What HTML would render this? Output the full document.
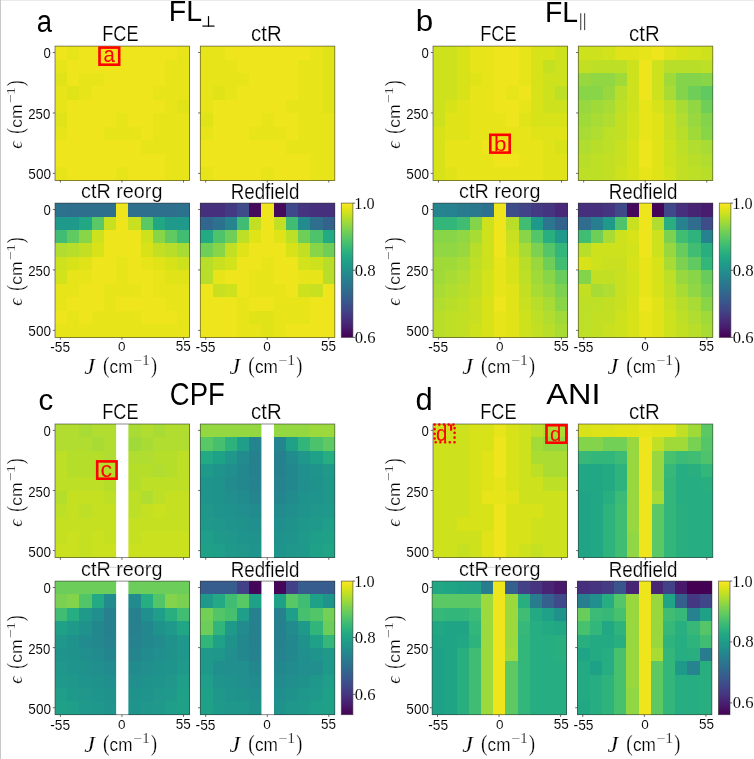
<!DOCTYPE html><html><head><meta charset="utf-8"><style>html,body{margin:0;padding:0;background:#fff;width:754px;height:759px;overflow:hidden}svg{display:block;will-change:transform}</style></head><body>
<svg width="754" height="759" viewBox="0 0 754 759">
<rect x="0" y="0" width="754" height="759" fill="#fff"/>
<defs><linearGradient id="vir" x1="0" y1="1" x2="0" y2="0">
<stop offset="0.000" stop-color="#440154"/>
<stop offset="0.050" stop-color="#471365"/>
<stop offset="0.100" stop-color="#482475"/>
<stop offset="0.150" stop-color="#463480"/>
<stop offset="0.200" stop-color="#414487"/>
<stop offset="0.250" stop-color="#3b528b"/>
<stop offset="0.300" stop-color="#355f8d"/>
<stop offset="0.350" stop-color="#2f6c8e"/>
<stop offset="0.400" stop-color="#2a788e"/>
<stop offset="0.450" stop-color="#25848e"/>
<stop offset="0.500" stop-color="#21918c"/>
<stop offset="0.550" stop-color="#1e9c89"/>
<stop offset="0.600" stop-color="#22a884"/>
<stop offset="0.650" stop-color="#2fb47c"/>
<stop offset="0.700" stop-color="#44bf70"/>
<stop offset="0.750" stop-color="#5ec962"/>
<stop offset="0.800" stop-color="#7ad151"/>
<stop offset="0.850" stop-color="#9bd93c"/>
<stop offset="0.900" stop-color="#bddf26"/>
<stop offset="0.950" stop-color="#dfe318"/>
<stop offset="1.000" stop-color="#fde725"/>
</linearGradient></defs>
<g shape-rendering="crispEdges">
<rect x="55.00" y="46.10" width="12.63" height="13.83" fill="#efe51c"/>
<rect x="67.23" y="46.10" width="12.63" height="13.83" fill="#e7e419"/>
<rect x="79.45" y="46.10" width="12.63" height="13.83" fill="#efe51c"/>
<rect x="91.68" y="46.10" width="12.63" height="13.83" fill="#efe51c"/>
<rect x="103.91" y="46.10" width="12.63" height="13.83" fill="#efe51c"/>
<rect x="116.14" y="46.10" width="12.63" height="13.83" fill="#efe51c"/>
<rect x="128.36" y="46.10" width="12.63" height="13.83" fill="#efe51c"/>
<rect x="140.59" y="46.10" width="12.63" height="13.83" fill="#efe51c"/>
<rect x="152.82" y="46.10" width="12.63" height="13.83" fill="#efe51c"/>
<rect x="165.05" y="46.10" width="12.63" height="13.83" fill="#efe51c"/>
<rect x="177.27" y="46.10" width="12.63" height="13.83" fill="#e7e419"/>
<rect x="55.00" y="59.53" width="12.63" height="13.83" fill="#e7e419"/>
<rect x="67.23" y="59.53" width="12.63" height="13.83" fill="#efe51c"/>
<rect x="79.45" y="59.53" width="12.63" height="13.83" fill="#efe51c"/>
<rect x="91.68" y="59.53" width="12.63" height="13.83" fill="#efe51c"/>
<rect x="103.91" y="59.53" width="12.63" height="13.83" fill="#efe51c"/>
<rect x="116.14" y="59.53" width="12.63" height="13.83" fill="#efe51c"/>
<rect x="128.36" y="59.53" width="12.63" height="13.83" fill="#efe51c"/>
<rect x="140.59" y="59.53" width="12.63" height="13.83" fill="#efe51c"/>
<rect x="152.82" y="59.53" width="12.63" height="13.83" fill="#efe51c"/>
<rect x="165.05" y="59.53" width="12.63" height="13.83" fill="#e7e419"/>
<rect x="177.27" y="59.53" width="12.63" height="13.83" fill="#e7e419"/>
<rect x="55.00" y="72.96" width="12.63" height="13.83" fill="#dfe318"/>
<rect x="67.23" y="72.96" width="12.63" height="13.83" fill="#efe51c"/>
<rect x="79.45" y="72.96" width="12.63" height="13.83" fill="#e7e419"/>
<rect x="91.68" y="72.96" width="12.63" height="13.83" fill="#e7e419"/>
<rect x="103.91" y="72.96" width="12.63" height="13.83" fill="#efe51c"/>
<rect x="116.14" y="72.96" width="12.63" height="13.83" fill="#efe51c"/>
<rect x="128.36" y="72.96" width="12.63" height="13.83" fill="#efe51c"/>
<rect x="140.59" y="72.96" width="12.63" height="13.83" fill="#efe51c"/>
<rect x="152.82" y="72.96" width="12.63" height="13.83" fill="#efe51c"/>
<rect x="165.05" y="72.96" width="12.63" height="13.83" fill="#e7e419"/>
<rect x="177.27" y="72.96" width="12.63" height="13.83" fill="#e7e419"/>
<rect x="55.00" y="86.39" width="12.63" height="13.83" fill="#e7e419"/>
<rect x="67.23" y="86.39" width="12.63" height="13.83" fill="#dfe318"/>
<rect x="79.45" y="86.39" width="12.63" height="13.83" fill="#e7e419"/>
<rect x="91.68" y="86.39" width="12.63" height="13.83" fill="#efe51c"/>
<rect x="103.91" y="86.39" width="12.63" height="13.83" fill="#efe51c"/>
<rect x="116.14" y="86.39" width="12.63" height="13.83" fill="#efe51c"/>
<rect x="128.36" y="86.39" width="12.63" height="13.83" fill="#efe51c"/>
<rect x="140.59" y="86.39" width="12.63" height="13.83" fill="#efe51c"/>
<rect x="152.82" y="86.39" width="12.63" height="13.83" fill="#e7e419"/>
<rect x="165.05" y="86.39" width="12.63" height="13.83" fill="#e7e419"/>
<rect x="177.27" y="86.39" width="12.63" height="13.83" fill="#e7e419"/>
<rect x="55.00" y="99.82" width="12.63" height="13.83" fill="#e7e419"/>
<rect x="67.23" y="99.82" width="12.63" height="13.83" fill="#efe51c"/>
<rect x="79.45" y="99.82" width="12.63" height="13.83" fill="#efe51c"/>
<rect x="91.68" y="99.82" width="12.63" height="13.83" fill="#efe51c"/>
<rect x="103.91" y="99.82" width="12.63" height="13.83" fill="#efe51c"/>
<rect x="116.14" y="99.82" width="12.63" height="13.83" fill="#efe51c"/>
<rect x="128.36" y="99.82" width="12.63" height="13.83" fill="#efe51c"/>
<rect x="140.59" y="99.82" width="12.63" height="13.83" fill="#efe51c"/>
<rect x="152.82" y="99.82" width="12.63" height="13.83" fill="#efe51c"/>
<rect x="165.05" y="99.82" width="12.63" height="13.83" fill="#e7e419"/>
<rect x="177.27" y="99.82" width="12.63" height="13.83" fill="#dfe318"/>
<rect x="55.00" y="113.25" width="12.63" height="13.83" fill="#dfe318"/>
<rect x="67.23" y="113.25" width="12.63" height="13.83" fill="#efe51c"/>
<rect x="79.45" y="113.25" width="12.63" height="13.83" fill="#efe51c"/>
<rect x="91.68" y="113.25" width="12.63" height="13.83" fill="#efe51c"/>
<rect x="103.91" y="113.25" width="12.63" height="13.83" fill="#efe51c"/>
<rect x="116.14" y="113.25" width="12.63" height="13.83" fill="#e7e419"/>
<rect x="128.36" y="113.25" width="12.63" height="13.83" fill="#efe51c"/>
<rect x="140.59" y="113.25" width="12.63" height="13.83" fill="#efe51c"/>
<rect x="152.82" y="113.25" width="12.63" height="13.83" fill="#e7e419"/>
<rect x="165.05" y="113.25" width="12.63" height="13.83" fill="#e7e419"/>
<rect x="177.27" y="113.25" width="12.63" height="13.83" fill="#e7e419"/>
<rect x="55.00" y="126.68" width="12.63" height="13.83" fill="#e7e419"/>
<rect x="67.23" y="126.68" width="12.63" height="13.83" fill="#efe51c"/>
<rect x="79.45" y="126.68" width="12.63" height="13.83" fill="#efe51c"/>
<rect x="91.68" y="126.68" width="12.63" height="13.83" fill="#efe51c"/>
<rect x="103.91" y="126.68" width="12.63" height="13.83" fill="#e7e419"/>
<rect x="116.14" y="126.68" width="12.63" height="13.83" fill="#e7e419"/>
<rect x="128.36" y="126.68" width="12.63" height="13.83" fill="#e7e419"/>
<rect x="140.59" y="126.68" width="12.63" height="13.83" fill="#efe51c"/>
<rect x="152.82" y="126.68" width="12.63" height="13.83" fill="#e7e419"/>
<rect x="165.05" y="126.68" width="12.63" height="13.83" fill="#e7e419"/>
<rect x="177.27" y="126.68" width="12.63" height="13.83" fill="#e7e419"/>
<rect x="55.00" y="140.11" width="12.63" height="13.83" fill="#efe51c"/>
<rect x="67.23" y="140.11" width="12.63" height="13.83" fill="#efe51c"/>
<rect x="79.45" y="140.11" width="12.63" height="13.83" fill="#efe51c"/>
<rect x="91.68" y="140.11" width="12.63" height="13.83" fill="#efe51c"/>
<rect x="103.91" y="140.11" width="12.63" height="13.83" fill="#efe51c"/>
<rect x="116.14" y="140.11" width="12.63" height="13.83" fill="#efe51c"/>
<rect x="128.36" y="140.11" width="12.63" height="13.83" fill="#efe51c"/>
<rect x="140.59" y="140.11" width="12.63" height="13.83" fill="#e7e419"/>
<rect x="152.82" y="140.11" width="12.63" height="13.83" fill="#e7e419"/>
<rect x="165.05" y="140.11" width="12.63" height="13.83" fill="#e7e419"/>
<rect x="177.27" y="140.11" width="12.63" height="13.83" fill="#e7e419"/>
<rect x="55.00" y="153.54" width="12.63" height="13.83" fill="#efe51c"/>
<rect x="67.23" y="153.54" width="12.63" height="13.83" fill="#efe51c"/>
<rect x="79.45" y="153.54" width="12.63" height="13.83" fill="#efe51c"/>
<rect x="91.68" y="153.54" width="12.63" height="13.83" fill="#efe51c"/>
<rect x="103.91" y="153.54" width="12.63" height="13.83" fill="#efe51c"/>
<rect x="116.14" y="153.54" width="12.63" height="13.83" fill="#efe51c"/>
<rect x="128.36" y="153.54" width="12.63" height="13.83" fill="#efe51c"/>
<rect x="140.59" y="153.54" width="12.63" height="13.83" fill="#efe51c"/>
<rect x="152.82" y="153.54" width="12.63" height="13.83" fill="#efe51c"/>
<rect x="165.05" y="153.54" width="12.63" height="13.83" fill="#e7e419"/>
<rect x="177.27" y="153.54" width="12.63" height="13.83" fill="#e7e419"/>
<rect x="55.00" y="166.97" width="12.63" height="13.83" fill="#e7e419"/>
<rect x="67.23" y="166.97" width="12.63" height="13.83" fill="#efe51c"/>
<rect x="79.45" y="166.97" width="12.63" height="13.83" fill="#efe51c"/>
<rect x="91.68" y="166.97" width="12.63" height="13.83" fill="#efe51c"/>
<rect x="103.91" y="166.97" width="12.63" height="13.83" fill="#efe51c"/>
<rect x="116.14" y="166.97" width="12.63" height="13.83" fill="#e7e419"/>
<rect x="128.36" y="166.97" width="12.63" height="13.83" fill="#efe51c"/>
<rect x="140.59" y="166.97" width="12.63" height="13.83" fill="#efe51c"/>
<rect x="152.82" y="166.97" width="12.63" height="13.83" fill="#efe51c"/>
<rect x="165.05" y="166.97" width="12.63" height="13.83" fill="#e7e419"/>
<rect x="177.27" y="166.97" width="12.63" height="13.83" fill="#e7e419"/>
</g>
<rect x="55.00" y="46.10" width="134.5" height="134.3" fill="none" stroke="#333" stroke-opacity="0.7" stroke-width="0.8"/>
<line x1="52.80" y1="52.52" x2="55.00" y2="52.52" stroke="#444" stroke-width="0.8"/>
<line x1="60.40" y1="180.40" x2="60.40" y2="182.60" stroke="#444" stroke-width="0.8"/>
<line x1="52.80" y1="112.95" x2="55.00" y2="112.95" stroke="#444" stroke-width="0.8"/>
<line x1="121.95" y1="180.40" x2="121.95" y2="182.60" stroke="#444" stroke-width="0.8"/>
<line x1="52.80" y1="173.39" x2="55.00" y2="173.39" stroke="#444" stroke-width="0.8"/>
<line x1="183.50" y1="180.40" x2="183.50" y2="182.60" stroke="#444" stroke-width="0.8"/>
<text transform="translate(102.25,41.39) scale(0.8493,1)" style="font-family:'Liberation Sans',sans-serif;font-size:21.41px;fill:#000;stroke:#fff;stroke-width:0.200px">FCE</text>
<text transform="translate(43.48,57.85) scale(0.8709,1)" style="font-family:'Liberation Sans',sans-serif;font-size:15.07px;fill:#000;stroke:#fff;stroke-width:0.080px">0</text>
<text transform="translate(28.24,118.65) scale(0.8860,1)" style="font-family:'Liberation Sans',sans-serif;font-size:14.93px;fill:#000;stroke:#fff;stroke-width:0.080px">250</text>
<text transform="translate(28.36,178.65) scale(0.8931,1)" style="font-family:'Liberation Sans',sans-serif;font-size:15.21px;fill:#000;stroke:#fff;stroke-width:0.080px">500</text>
<text transform="rotate(-90) translate(-148.75,22.40) scale(0.9447,1)" style="font-family:'Liberation Serif',serif;font-style:italic;font-size:19.58px;fill:#000;stroke:#fff;stroke-width:0.200px">&#1013;</text>
<text transform="rotate(-90) translate(-133.66,22.75) scale(0.7156,1)" style="font-family:'Liberation Serif',serif;font-size:23.11px;fill:#000;stroke:#fff;stroke-width:0.200px">(</text>
<text transform="rotate(-90) translate(-127.80,22.43) scale(1.0275,1)" style="font-family:'Liberation Sans',sans-serif;font-size:17.09px;fill:#000;stroke:#fff;stroke-width:0.200px">cm</text>
<text transform="rotate(-90) translate(-103.37,14.70) scale(1.1892,1)" style="font-family:'Liberation Serif',serif;font-size:12.92px;fill:#333;stroke:#fff;stroke-width:0.080px">&#8722;1</text>
<text transform="rotate(-90) translate(-85.98,22.75) scale(0.6990,1)" style="font-family:'Liberation Serif',serif;font-size:23.11px;fill:#000;stroke:#fff;stroke-width:0.200px">)</text>
<g shape-rendering="crispEdges">
<rect x="200.30" y="46.10" width="12.63" height="13.83" fill="#e7e419"/>
<rect x="212.53" y="46.10" width="12.63" height="13.83" fill="#e7e419"/>
<rect x="224.75" y="46.10" width="12.63" height="13.83" fill="#efe51c"/>
<rect x="236.98" y="46.10" width="12.63" height="13.83" fill="#efe51c"/>
<rect x="249.21" y="46.10" width="12.63" height="13.83" fill="#efe51c"/>
<rect x="261.44" y="46.10" width="12.63" height="13.83" fill="#efe51c"/>
<rect x="273.66" y="46.10" width="12.63" height="13.83" fill="#efe51c"/>
<rect x="285.89" y="46.10" width="12.63" height="13.83" fill="#efe51c"/>
<rect x="298.12" y="46.10" width="12.63" height="13.83" fill="#efe51c"/>
<rect x="310.35" y="46.10" width="12.63" height="13.83" fill="#e7e419"/>
<rect x="322.57" y="46.10" width="12.63" height="13.83" fill="#dfe318"/>
<rect x="200.30" y="59.53" width="12.63" height="13.83" fill="#e7e419"/>
<rect x="212.53" y="59.53" width="12.63" height="13.83" fill="#e7e419"/>
<rect x="224.75" y="59.53" width="12.63" height="13.83" fill="#e7e419"/>
<rect x="236.98" y="59.53" width="12.63" height="13.83" fill="#efe51c"/>
<rect x="249.21" y="59.53" width="12.63" height="13.83" fill="#efe51c"/>
<rect x="261.44" y="59.53" width="12.63" height="13.83" fill="#efe51c"/>
<rect x="273.66" y="59.53" width="12.63" height="13.83" fill="#efe51c"/>
<rect x="285.89" y="59.53" width="12.63" height="13.83" fill="#efe51c"/>
<rect x="298.12" y="59.53" width="12.63" height="13.83" fill="#e7e419"/>
<rect x="310.35" y="59.53" width="12.63" height="13.83" fill="#e7e419"/>
<rect x="322.57" y="59.53" width="12.63" height="13.83" fill="#dfe318"/>
<rect x="200.30" y="72.96" width="12.63" height="13.83" fill="#e7e419"/>
<rect x="212.53" y="72.96" width="12.63" height="13.83" fill="#e7e419"/>
<rect x="224.75" y="72.96" width="12.63" height="13.83" fill="#e7e419"/>
<rect x="236.98" y="72.96" width="12.63" height="13.83" fill="#e7e419"/>
<rect x="249.21" y="72.96" width="12.63" height="13.83" fill="#efe51c"/>
<rect x="261.44" y="72.96" width="12.63" height="13.83" fill="#efe51c"/>
<rect x="273.66" y="72.96" width="12.63" height="13.83" fill="#efe51c"/>
<rect x="285.89" y="72.96" width="12.63" height="13.83" fill="#efe51c"/>
<rect x="298.12" y="72.96" width="12.63" height="13.83" fill="#e7e419"/>
<rect x="310.35" y="72.96" width="12.63" height="13.83" fill="#e7e419"/>
<rect x="322.57" y="72.96" width="12.63" height="13.83" fill="#dfe318"/>
<rect x="200.30" y="86.39" width="12.63" height="13.83" fill="#e7e419"/>
<rect x="212.53" y="86.39" width="12.63" height="13.83" fill="#dfe318"/>
<rect x="224.75" y="86.39" width="12.63" height="13.83" fill="#e7e419"/>
<rect x="236.98" y="86.39" width="12.63" height="13.83" fill="#efe51c"/>
<rect x="249.21" y="86.39" width="12.63" height="13.83" fill="#efe51c"/>
<rect x="261.44" y="86.39" width="12.63" height="13.83" fill="#efe51c"/>
<rect x="273.66" y="86.39" width="12.63" height="13.83" fill="#efe51c"/>
<rect x="285.89" y="86.39" width="12.63" height="13.83" fill="#efe51c"/>
<rect x="298.12" y="86.39" width="12.63" height="13.83" fill="#e7e419"/>
<rect x="310.35" y="86.39" width="12.63" height="13.83" fill="#e7e419"/>
<rect x="322.57" y="86.39" width="12.63" height="13.83" fill="#dfe318"/>
<rect x="200.30" y="99.82" width="12.63" height="13.83" fill="#e7e419"/>
<rect x="212.53" y="99.82" width="12.63" height="13.83" fill="#efe51c"/>
<rect x="224.75" y="99.82" width="12.63" height="13.83" fill="#efe51c"/>
<rect x="236.98" y="99.82" width="12.63" height="13.83" fill="#efe51c"/>
<rect x="249.21" y="99.82" width="12.63" height="13.83" fill="#efe51c"/>
<rect x="261.44" y="99.82" width="12.63" height="13.83" fill="#efe51c"/>
<rect x="273.66" y="99.82" width="12.63" height="13.83" fill="#efe51c"/>
<rect x="285.89" y="99.82" width="12.63" height="13.83" fill="#e7e419"/>
<rect x="298.12" y="99.82" width="12.63" height="13.83" fill="#e7e419"/>
<rect x="310.35" y="99.82" width="12.63" height="13.83" fill="#e7e419"/>
<rect x="322.57" y="99.82" width="12.63" height="13.83" fill="#dfe318"/>
<rect x="200.30" y="113.25" width="12.63" height="13.83" fill="#dfe318"/>
<rect x="212.53" y="113.25" width="12.63" height="13.83" fill="#efe51c"/>
<rect x="224.75" y="113.25" width="12.63" height="13.83" fill="#efe51c"/>
<rect x="236.98" y="113.25" width="12.63" height="13.83" fill="#efe51c"/>
<rect x="249.21" y="113.25" width="12.63" height="13.83" fill="#efe51c"/>
<rect x="261.44" y="113.25" width="12.63" height="13.83" fill="#e7e419"/>
<rect x="273.66" y="113.25" width="12.63" height="13.83" fill="#efe51c"/>
<rect x="285.89" y="113.25" width="12.63" height="13.83" fill="#efe51c"/>
<rect x="298.12" y="113.25" width="12.63" height="13.83" fill="#e7e419"/>
<rect x="310.35" y="113.25" width="12.63" height="13.83" fill="#e7e419"/>
<rect x="322.57" y="113.25" width="12.63" height="13.83" fill="#e7e419"/>
<rect x="200.30" y="126.68" width="12.63" height="13.83" fill="#e7e419"/>
<rect x="212.53" y="126.68" width="12.63" height="13.83" fill="#efe51c"/>
<rect x="224.75" y="126.68" width="12.63" height="13.83" fill="#efe51c"/>
<rect x="236.98" y="126.68" width="12.63" height="13.83" fill="#efe51c"/>
<rect x="249.21" y="126.68" width="12.63" height="13.83" fill="#e7e419"/>
<rect x="261.44" y="126.68" width="12.63" height="13.83" fill="#e7e419"/>
<rect x="273.66" y="126.68" width="12.63" height="13.83" fill="#e7e419"/>
<rect x="285.89" y="126.68" width="12.63" height="13.83" fill="#efe51c"/>
<rect x="298.12" y="126.68" width="12.63" height="13.83" fill="#e7e419"/>
<rect x="310.35" y="126.68" width="12.63" height="13.83" fill="#e7e419"/>
<rect x="322.57" y="126.68" width="12.63" height="13.83" fill="#e7e419"/>
<rect x="200.30" y="140.11" width="12.63" height="13.83" fill="#efe51c"/>
<rect x="212.53" y="140.11" width="12.63" height="13.83" fill="#efe51c"/>
<rect x="224.75" y="140.11" width="12.63" height="13.83" fill="#efe51c"/>
<rect x="236.98" y="140.11" width="12.63" height="13.83" fill="#efe51c"/>
<rect x="249.21" y="140.11" width="12.63" height="13.83" fill="#efe51c"/>
<rect x="261.44" y="140.11" width="12.63" height="13.83" fill="#efe51c"/>
<rect x="273.66" y="140.11" width="12.63" height="13.83" fill="#efe51c"/>
<rect x="285.89" y="140.11" width="12.63" height="13.83" fill="#e7e419"/>
<rect x="298.12" y="140.11" width="12.63" height="13.83" fill="#e7e419"/>
<rect x="310.35" y="140.11" width="12.63" height="13.83" fill="#e7e419"/>
<rect x="322.57" y="140.11" width="12.63" height="13.83" fill="#e7e419"/>
<rect x="200.30" y="153.54" width="12.63" height="13.83" fill="#efe51c"/>
<rect x="212.53" y="153.54" width="12.63" height="13.83" fill="#efe51c"/>
<rect x="224.75" y="153.54" width="12.63" height="13.83" fill="#efe51c"/>
<rect x="236.98" y="153.54" width="12.63" height="13.83" fill="#efe51c"/>
<rect x="249.21" y="153.54" width="12.63" height="13.83" fill="#efe51c"/>
<rect x="261.44" y="153.54" width="12.63" height="13.83" fill="#efe51c"/>
<rect x="273.66" y="153.54" width="12.63" height="13.83" fill="#efe51c"/>
<rect x="285.89" y="153.54" width="12.63" height="13.83" fill="#efe51c"/>
<rect x="298.12" y="153.54" width="12.63" height="13.83" fill="#efe51c"/>
<rect x="310.35" y="153.54" width="12.63" height="13.83" fill="#e7e419"/>
<rect x="322.57" y="153.54" width="12.63" height="13.83" fill="#e7e419"/>
<rect x="200.30" y="166.97" width="12.63" height="13.83" fill="#e7e419"/>
<rect x="212.53" y="166.97" width="12.63" height="13.83" fill="#efe51c"/>
<rect x="224.75" y="166.97" width="12.63" height="13.83" fill="#efe51c"/>
<rect x="236.98" y="166.97" width="12.63" height="13.83" fill="#efe51c"/>
<rect x="249.21" y="166.97" width="12.63" height="13.83" fill="#efe51c"/>
<rect x="261.44" y="166.97" width="12.63" height="13.83" fill="#e7e419"/>
<rect x="273.66" y="166.97" width="12.63" height="13.83" fill="#efe51c"/>
<rect x="285.89" y="166.97" width="12.63" height="13.83" fill="#efe51c"/>
<rect x="298.12" y="166.97" width="12.63" height="13.83" fill="#efe51c"/>
<rect x="310.35" y="166.97" width="12.63" height="13.83" fill="#e7e419"/>
<rect x="322.57" y="166.97" width="12.63" height="13.83" fill="#e7e419"/>
</g>
<rect x="200.30" y="46.10" width="134.5" height="134.3" fill="none" stroke="#333" stroke-opacity="0.7" stroke-width="0.8"/>
<line x1="198.10" y1="52.52" x2="200.30" y2="52.52" stroke="#444" stroke-width="0.8"/>
<line x1="205.70" y1="180.40" x2="205.70" y2="182.60" stroke="#444" stroke-width="0.8"/>
<line x1="198.10" y1="112.95" x2="200.30" y2="112.95" stroke="#444" stroke-width="0.8"/>
<line x1="267.25" y1="180.40" x2="267.25" y2="182.60" stroke="#444" stroke-width="0.8"/>
<line x1="198.10" y1="173.39" x2="200.30" y2="173.39" stroke="#444" stroke-width="0.8"/>
<line x1="328.80" y1="180.40" x2="328.80" y2="182.60" stroke="#444" stroke-width="0.8"/>
<text transform="translate(251.09,41.38) scale(0.9374,1)" style="font-family:'Liberation Sans',sans-serif;font-size:21.71px;fill:#000;stroke:#fff;stroke-width:0.200px">ctR</text>
<g shape-rendering="crispEdges">
<rect x="55.00" y="203.10" width="12.63" height="13.83" fill="#2c728e"/>
<rect x="67.23" y="203.10" width="12.63" height="13.83" fill="#2e6f8e"/>
<rect x="79.45" y="203.10" width="12.63" height="13.83" fill="#2e6f8e"/>
<rect x="91.68" y="203.10" width="12.63" height="13.83" fill="#2e6f8e"/>
<rect x="103.91" y="203.10" width="12.63" height="13.83" fill="#2e6f8e"/>
<rect x="116.14" y="203.10" width="12.63" height="13.83" fill="#efe51c"/>
<rect x="128.36" y="203.10" width="12.63" height="13.83" fill="#2e6f8e"/>
<rect x="140.59" y="203.10" width="12.63" height="13.83" fill="#2e6f8e"/>
<rect x="152.82" y="203.10" width="12.63" height="13.83" fill="#2e6f8e"/>
<rect x="165.05" y="203.10" width="12.63" height="13.83" fill="#2e6f8e"/>
<rect x="177.27" y="203.10" width="12.63" height="13.83" fill="#2c728e"/>
<rect x="55.00" y="216.53" width="12.63" height="13.83" fill="#1f9a8a"/>
<rect x="67.23" y="216.53" width="12.63" height="13.83" fill="#1f9a8a"/>
<rect x="79.45" y="216.53" width="12.63" height="13.83" fill="#22a785"/>
<rect x="91.68" y="216.53" width="12.63" height="13.83" fill="#5ac864"/>
<rect x="103.91" y="216.53" width="12.63" height="13.83" fill="#c8e020"/>
<rect x="116.14" y="216.53" width="12.63" height="13.83" fill="#efe51c"/>
<rect x="128.36" y="216.53" width="12.63" height="13.83" fill="#c8e020"/>
<rect x="140.59" y="216.53" width="12.63" height="13.83" fill="#5ac864"/>
<rect x="152.82" y="216.53" width="12.63" height="13.83" fill="#22a785"/>
<rect x="165.05" y="216.53" width="12.63" height="13.83" fill="#1f9a8a"/>
<rect x="177.27" y="216.53" width="12.63" height="13.83" fill="#1f9a8a"/>
<rect x="55.00" y="229.96" width="12.63" height="13.83" fill="#40bd72"/>
<rect x="67.23" y="229.96" width="12.63" height="13.83" fill="#60ca60"/>
<rect x="79.45" y="229.96" width="12.63" height="13.83" fill="#89d548"/>
<rect x="91.68" y="229.96" width="12.63" height="13.83" fill="#cde11d"/>
<rect x="103.91" y="229.96" width="12.63" height="13.83" fill="#efe51c"/>
<rect x="116.14" y="229.96" width="12.63" height="13.83" fill="#efe51c"/>
<rect x="128.36" y="229.96" width="12.63" height="13.83" fill="#efe51c"/>
<rect x="140.59" y="229.96" width="12.63" height="13.83" fill="#cde11d"/>
<rect x="152.82" y="229.96" width="12.63" height="13.83" fill="#89d548"/>
<rect x="165.05" y="229.96" width="12.63" height="13.83" fill="#60ca60"/>
<rect x="177.27" y="229.96" width="12.63" height="13.83" fill="#40bd72"/>
<rect x="55.00" y="243.39" width="12.63" height="13.83" fill="#b0dd2f"/>
<rect x="67.23" y="243.39" width="12.63" height="13.83" fill="#b8de29"/>
<rect x="79.45" y="243.39" width="12.63" height="13.83" fill="#c2df23"/>
<rect x="91.68" y="243.39" width="12.63" height="13.83" fill="#d8e219"/>
<rect x="103.91" y="243.39" width="12.63" height="13.83" fill="#efe51c"/>
<rect x="116.14" y="243.39" width="12.63" height="13.83" fill="#efe51c"/>
<rect x="128.36" y="243.39" width="12.63" height="13.83" fill="#efe51c"/>
<rect x="140.59" y="243.39" width="12.63" height="13.83" fill="#d8e219"/>
<rect x="152.82" y="243.39" width="12.63" height="13.83" fill="#c2df23"/>
<rect x="165.05" y="243.39" width="12.63" height="13.83" fill="#b8de29"/>
<rect x="177.27" y="243.39" width="12.63" height="13.83" fill="#a8db34"/>
<rect x="55.00" y="256.82" width="12.63" height="13.83" fill="#cde11d"/>
<rect x="67.23" y="256.82" width="12.63" height="13.83" fill="#d8e219"/>
<rect x="79.45" y="256.82" width="12.63" height="13.83" fill="#dfe318"/>
<rect x="91.68" y="256.82" width="12.63" height="13.83" fill="#efe51c"/>
<rect x="103.91" y="256.82" width="12.63" height="13.83" fill="#efe51c"/>
<rect x="116.14" y="256.82" width="12.63" height="13.83" fill="#e7e419"/>
<rect x="128.36" y="256.82" width="12.63" height="13.83" fill="#efe51c"/>
<rect x="140.59" y="256.82" width="12.63" height="13.83" fill="#e7e419"/>
<rect x="152.82" y="256.82" width="12.63" height="13.83" fill="#dfe318"/>
<rect x="165.05" y="256.82" width="12.63" height="13.83" fill="#d8e219"/>
<rect x="177.27" y="256.82" width="12.63" height="13.83" fill="#cde11d"/>
<rect x="55.00" y="270.25" width="12.63" height="13.83" fill="#d2e21b"/>
<rect x="67.23" y="270.25" width="12.63" height="13.83" fill="#e7e419"/>
<rect x="79.45" y="270.25" width="12.63" height="13.83" fill="#e7e419"/>
<rect x="91.68" y="270.25" width="12.63" height="13.83" fill="#efe51c"/>
<rect x="103.91" y="270.25" width="12.63" height="13.83" fill="#efe51c"/>
<rect x="116.14" y="270.25" width="12.63" height="13.83" fill="#e7e419"/>
<rect x="128.36" y="270.25" width="12.63" height="13.83" fill="#efe51c"/>
<rect x="140.59" y="270.25" width="12.63" height="13.83" fill="#efe51c"/>
<rect x="152.82" y="270.25" width="12.63" height="13.83" fill="#e7e419"/>
<rect x="165.05" y="270.25" width="12.63" height="13.83" fill="#dfe318"/>
<rect x="177.27" y="270.25" width="12.63" height="13.83" fill="#dfe318"/>
<rect x="55.00" y="283.68" width="12.63" height="13.83" fill="#e7e419"/>
<rect x="67.23" y="283.68" width="12.63" height="13.83" fill="#e7e419"/>
<rect x="79.45" y="283.68" width="12.63" height="13.83" fill="#efe51c"/>
<rect x="91.68" y="283.68" width="12.63" height="13.83" fill="#efe51c"/>
<rect x="103.91" y="283.68" width="12.63" height="13.83" fill="#e7e419"/>
<rect x="116.14" y="283.68" width="12.63" height="13.83" fill="#e7e419"/>
<rect x="128.36" y="283.68" width="12.63" height="13.83" fill="#e7e419"/>
<rect x="140.59" y="283.68" width="12.63" height="13.83" fill="#efe51c"/>
<rect x="152.82" y="283.68" width="12.63" height="13.83" fill="#e7e419"/>
<rect x="165.05" y="283.68" width="12.63" height="13.83" fill="#e7e419"/>
<rect x="177.27" y="283.68" width="12.63" height="13.83" fill="#e7e419"/>
<rect x="55.00" y="297.11" width="12.63" height="13.83" fill="#e7e419"/>
<rect x="67.23" y="297.11" width="12.63" height="13.83" fill="#efe51c"/>
<rect x="79.45" y="297.11" width="12.63" height="13.83" fill="#efe51c"/>
<rect x="91.68" y="297.11" width="12.63" height="13.83" fill="#efe51c"/>
<rect x="103.91" y="297.11" width="12.63" height="13.83" fill="#e7e419"/>
<rect x="116.14" y="297.11" width="12.63" height="13.83" fill="#efe51c"/>
<rect x="128.36" y="297.11" width="12.63" height="13.83" fill="#efe51c"/>
<rect x="140.59" y="297.11" width="12.63" height="13.83" fill="#efe51c"/>
<rect x="152.82" y="297.11" width="12.63" height="13.83" fill="#efe51c"/>
<rect x="165.05" y="297.11" width="12.63" height="13.83" fill="#e7e419"/>
<rect x="177.27" y="297.11" width="12.63" height="13.83" fill="#e7e419"/>
<rect x="55.00" y="310.54" width="12.63" height="13.83" fill="#efe51c"/>
<rect x="67.23" y="310.54" width="12.63" height="13.83" fill="#e7e419"/>
<rect x="79.45" y="310.54" width="12.63" height="13.83" fill="#efe51c"/>
<rect x="91.68" y="310.54" width="12.63" height="13.83" fill="#e7e419"/>
<rect x="103.91" y="310.54" width="12.63" height="13.83" fill="#e7e419"/>
<rect x="116.14" y="310.54" width="12.63" height="13.83" fill="#e7e419"/>
<rect x="128.36" y="310.54" width="12.63" height="13.83" fill="#e7e419"/>
<rect x="140.59" y="310.54" width="12.63" height="13.83" fill="#efe51c"/>
<rect x="152.82" y="310.54" width="12.63" height="13.83" fill="#efe51c"/>
<rect x="165.05" y="310.54" width="12.63" height="13.83" fill="#efe51c"/>
<rect x="177.27" y="310.54" width="12.63" height="13.83" fill="#e7e419"/>
<rect x="55.00" y="323.97" width="12.63" height="13.83" fill="#e7e419"/>
<rect x="67.23" y="323.97" width="12.63" height="13.83" fill="#e7e419"/>
<rect x="79.45" y="323.97" width="12.63" height="13.83" fill="#e7e419"/>
<rect x="91.68" y="323.97" width="12.63" height="13.83" fill="#e7e419"/>
<rect x="103.91" y="323.97" width="12.63" height="13.83" fill="#e7e419"/>
<rect x="116.14" y="323.97" width="12.63" height="13.83" fill="#e7e419"/>
<rect x="128.36" y="323.97" width="12.63" height="13.83" fill="#e7e419"/>
<rect x="140.59" y="323.97" width="12.63" height="13.83" fill="#e7e419"/>
<rect x="152.82" y="323.97" width="12.63" height="13.83" fill="#e7e419"/>
<rect x="165.05" y="323.97" width="12.63" height="13.83" fill="#e7e419"/>
<rect x="177.27" y="323.97" width="12.63" height="13.83" fill="#e7e419"/>
</g>
<rect x="55.00" y="203.10" width="134.5" height="134.3" fill="none" stroke="#333" stroke-opacity="0.7" stroke-width="0.8"/>
<line x1="52.80" y1="209.51" x2="55.00" y2="209.51" stroke="#444" stroke-width="0.8"/>
<line x1="60.40" y1="337.40" x2="60.40" y2="339.60" stroke="#444" stroke-width="0.8"/>
<line x1="52.80" y1="269.95" x2="55.00" y2="269.95" stroke="#444" stroke-width="0.8"/>
<line x1="121.95" y1="337.40" x2="121.95" y2="339.60" stroke="#444" stroke-width="0.8"/>
<line x1="52.80" y1="330.38" x2="55.00" y2="330.38" stroke="#444" stroke-width="0.8"/>
<line x1="183.50" y1="337.40" x2="183.50" y2="339.60" stroke="#444" stroke-width="0.8"/>
<text transform="translate(81.11,197.71) scale(0.9467,1)" style="font-family:'Liberation Sans',sans-serif;font-size:20.89px;fill:#000;stroke:#fff;stroke-width:0.200px">ctR reorg</text>
<text transform="translate(43.48,214.85) scale(0.8709,1)" style="font-family:'Liberation Sans',sans-serif;font-size:15.07px;fill:#000;stroke:#fff;stroke-width:0.080px">0</text>
<text transform="translate(28.24,275.65) scale(0.8860,1)" style="font-family:'Liberation Sans',sans-serif;font-size:14.93px;fill:#000;stroke:#fff;stroke-width:0.080px">250</text>
<text transform="translate(28.36,335.65) scale(0.8931,1)" style="font-family:'Liberation Sans',sans-serif;font-size:15.21px;fill:#000;stroke:#fff;stroke-width:0.080px">500</text>
<text transform="rotate(-90) translate(-305.75,22.40) scale(0.9447,1)" style="font-family:'Liberation Serif',serif;font-style:italic;font-size:19.58px;fill:#000;stroke:#fff;stroke-width:0.200px">&#1013;</text>
<text transform="rotate(-90) translate(-290.66,22.75) scale(0.7156,1)" style="font-family:'Liberation Serif',serif;font-size:23.11px;fill:#000;stroke:#fff;stroke-width:0.200px">(</text>
<text transform="rotate(-90) translate(-284.80,22.43) scale(1.0275,1)" style="font-family:'Liberation Sans',sans-serif;font-size:17.09px;fill:#000;stroke:#fff;stroke-width:0.200px">cm</text>
<text transform="rotate(-90) translate(-260.37,14.70) scale(1.1892,1)" style="font-family:'Liberation Serif',serif;font-size:12.92px;fill:#333;stroke:#fff;stroke-width:0.080px">&#8722;1</text>
<text transform="rotate(-90) translate(-242.98,22.75) scale(0.6990,1)" style="font-family:'Liberation Serif',serif;font-size:23.11px;fill:#000;stroke:#fff;stroke-width:0.200px">)</text>
<text transform="translate(50.25,351.55) scale(0.8995,1)" style="font-family:'Liberation Sans',sans-serif;font-size:15.29px;fill:#000;stroke:#fff;stroke-width:0.080px">-55</text>
<text transform="translate(117.96,351.17) scale(1.0338,1)" style="font-family:'Liberation Sans',sans-serif;font-size:13.10px;fill:#000;stroke:#fff;stroke-width:0.080px">0</text>
<text transform="translate(175.76,351.45) scale(0.8747,1)" style="font-family:'Liberation Sans',sans-serif;font-size:15.43px;fill:#000;stroke:#fff;stroke-width:0.080px">55</text>
<text transform="translate(84.32,373.52) scale(1.0725,1)" style="font-family:'Liberation Serif',serif;font-style:italic;font-size:22.50px;fill:#000;stroke:#fff;stroke-width:0.200px">J</text>
<text transform="translate(103.02,373.23) scale(0.8827,1)" style="font-family:'Liberation Serif',serif;font-size:22.22px;fill:#000;stroke:#fff;stroke-width:0.200px">(</text>
<text transform="translate(109.61,372.52) scale(0.9727,1)" style="font-family:'Liberation Sans',sans-serif;font-size:17.64px;fill:#000;stroke:#fff;stroke-width:0.200px">cm</text>
<text transform="translate(133.22,365.30) scale(1.1585,1)" style="font-family:'Liberation Serif',serif;font-size:13.54px;fill:#333;stroke:#fff;stroke-width:0.080px">&#8722;1</text>
<text transform="translate(151.06,373.23) scale(0.8135,1)" style="font-family:'Liberation Serif',serif;font-size:22.22px;fill:#000;stroke:#fff;stroke-width:0.200px">)</text>
<g shape-rendering="crispEdges">
<rect x="200.30" y="203.10" width="12.63" height="13.83" fill="#46307e"/>
<rect x="212.53" y="203.10" width="12.63" height="13.83" fill="#46307e"/>
<rect x="224.75" y="203.10" width="12.63" height="13.83" fill="#443a83"/>
<rect x="236.98" y="203.10" width="12.63" height="13.83" fill="#3e4c8a"/>
<rect x="249.21" y="203.10" width="12.63" height="13.83" fill="#460a5d"/>
<rect x="261.44" y="203.10" width="12.63" height="13.83" fill="#efe51c"/>
<rect x="273.66" y="203.10" width="12.63" height="13.83" fill="#460a5d"/>
<rect x="285.89" y="203.10" width="12.63" height="13.83" fill="#3f4889"/>
<rect x="298.12" y="203.10" width="12.63" height="13.83" fill="#453581"/>
<rect x="310.35" y="203.10" width="12.63" height="13.83" fill="#46307e"/>
<rect x="322.57" y="203.10" width="12.63" height="13.83" fill="#46307e"/>
<rect x="200.30" y="216.53" width="12.63" height="13.83" fill="#31668e"/>
<rect x="212.53" y="216.53" width="12.63" height="13.83" fill="#2c728e"/>
<rect x="224.75" y="216.53" width="12.63" height="13.83" fill="#25848e"/>
<rect x="236.98" y="216.53" width="12.63" height="13.83" fill="#40bd72"/>
<rect x="249.21" y="216.53" width="12.63" height="13.83" fill="#c2df23"/>
<rect x="261.44" y="216.53" width="12.63" height="13.83" fill="#efe51c"/>
<rect x="273.66" y="216.53" width="12.63" height="13.83" fill="#c2df23"/>
<rect x="285.89" y="216.53" width="12.63" height="13.83" fill="#40bd72"/>
<rect x="298.12" y="216.53" width="12.63" height="13.83" fill="#228b8d"/>
<rect x="310.35" y="216.53" width="12.63" height="13.83" fill="#2e6f8e"/>
<rect x="322.57" y="216.53" width="12.63" height="13.83" fill="#33638d"/>
<rect x="200.30" y="229.96" width="12.63" height="13.83" fill="#24aa83"/>
<rect x="212.53" y="229.96" width="12.63" height="13.83" fill="#4ec36b"/>
<rect x="224.75" y="229.96" width="12.63" height="13.83" fill="#6ece58"/>
<rect x="236.98" y="229.96" width="12.63" height="13.83" fill="#bddf26"/>
<rect x="249.21" y="229.96" width="12.63" height="13.83" fill="#dfe318"/>
<rect x="261.44" y="229.96" width="12.63" height="13.83" fill="#efe51c"/>
<rect x="273.66" y="229.96" width="12.63" height="13.83" fill="#dfe318"/>
<rect x="285.89" y="229.96" width="12.63" height="13.83" fill="#bddf26"/>
<rect x="298.12" y="229.96" width="12.63" height="13.83" fill="#6ece58"/>
<rect x="310.35" y="229.96" width="12.63" height="13.83" fill="#4ec36b"/>
<rect x="322.57" y="229.96" width="12.63" height="13.83" fill="#24aa83"/>
<rect x="200.30" y="243.39" width="12.63" height="13.83" fill="#6ece58"/>
<rect x="212.53" y="243.39" width="12.63" height="13.83" fill="#89d548"/>
<rect x="224.75" y="243.39" width="12.63" height="13.83" fill="#c2df23"/>
<rect x="236.98" y="243.39" width="12.63" height="13.83" fill="#dfe318"/>
<rect x="249.21" y="243.39" width="12.63" height="13.83" fill="#efe51c"/>
<rect x="261.44" y="243.39" width="12.63" height="13.83" fill="#efe51c"/>
<rect x="273.66" y="243.39" width="12.63" height="13.83" fill="#efe51c"/>
<rect x="285.89" y="243.39" width="12.63" height="13.83" fill="#d8e219"/>
<rect x="298.12" y="243.39" width="12.63" height="13.83" fill="#c2df23"/>
<rect x="310.35" y="243.39" width="12.63" height="13.83" fill="#89d548"/>
<rect x="322.57" y="243.39" width="12.63" height="13.83" fill="#6ece58"/>
<rect x="200.30" y="256.82" width="12.63" height="13.83" fill="#b8de29"/>
<rect x="212.53" y="256.82" width="12.63" height="13.83" fill="#c8e020"/>
<rect x="224.75" y="256.82" width="12.63" height="13.83" fill="#d2e21b"/>
<rect x="236.98" y="256.82" width="12.63" height="13.83" fill="#efe51c"/>
<rect x="249.21" y="256.82" width="12.63" height="13.83" fill="#efe51c"/>
<rect x="261.44" y="256.82" width="12.63" height="13.83" fill="#e7e419"/>
<rect x="273.66" y="256.82" width="12.63" height="13.83" fill="#efe51c"/>
<rect x="285.89" y="256.82" width="12.63" height="13.83" fill="#efe51c"/>
<rect x="298.12" y="256.82" width="12.63" height="13.83" fill="#d2e21b"/>
<rect x="310.35" y="256.82" width="12.63" height="13.83" fill="#cde11d"/>
<rect x="322.57" y="256.82" width="12.63" height="13.83" fill="#b8de29"/>
<rect x="200.30" y="270.25" width="12.63" height="13.83" fill="#b8de29"/>
<rect x="212.53" y="270.25" width="12.63" height="13.83" fill="#e7e419"/>
<rect x="224.75" y="270.25" width="12.63" height="13.83" fill="#efe51c"/>
<rect x="236.98" y="270.25" width="12.63" height="13.83" fill="#efe51c"/>
<rect x="249.21" y="270.25" width="12.63" height="13.83" fill="#e7e419"/>
<rect x="261.44" y="270.25" width="12.63" height="13.83" fill="#e7e419"/>
<rect x="273.66" y="270.25" width="12.63" height="13.83" fill="#efe51c"/>
<rect x="285.89" y="270.25" width="12.63" height="13.83" fill="#efe51c"/>
<rect x="298.12" y="270.25" width="12.63" height="13.83" fill="#e7e419"/>
<rect x="310.35" y="270.25" width="12.63" height="13.83" fill="#e7e419"/>
<rect x="322.57" y="270.25" width="12.63" height="13.83" fill="#b8de29"/>
<rect x="200.30" y="283.68" width="12.63" height="13.83" fill="#efe51c"/>
<rect x="212.53" y="283.68" width="12.63" height="13.83" fill="#c8e020"/>
<rect x="224.75" y="283.68" width="12.63" height="13.83" fill="#cde11d"/>
<rect x="236.98" y="283.68" width="12.63" height="13.83" fill="#efe51c"/>
<rect x="249.21" y="283.68" width="12.63" height="13.83" fill="#e7e419"/>
<rect x="261.44" y="283.68" width="12.63" height="13.83" fill="#e7e419"/>
<rect x="273.66" y="283.68" width="12.63" height="13.83" fill="#e7e419"/>
<rect x="285.89" y="283.68" width="12.63" height="13.83" fill="#efe51c"/>
<rect x="298.12" y="283.68" width="12.63" height="13.83" fill="#cde11d"/>
<rect x="310.35" y="283.68" width="12.63" height="13.83" fill="#c8e020"/>
<rect x="322.57" y="283.68" width="12.63" height="13.83" fill="#efe51c"/>
<rect x="200.30" y="297.11" width="12.63" height="13.83" fill="#efe51c"/>
<rect x="212.53" y="297.11" width="12.63" height="13.83" fill="#efe51c"/>
<rect x="224.75" y="297.11" width="12.63" height="13.83" fill="#efe51c"/>
<rect x="236.98" y="297.11" width="12.63" height="13.83" fill="#e7e419"/>
<rect x="249.21" y="297.11" width="12.63" height="13.83" fill="#efe51c"/>
<rect x="261.44" y="297.11" width="12.63" height="13.83" fill="#efe51c"/>
<rect x="273.66" y="297.11" width="12.63" height="13.83" fill="#e7e419"/>
<rect x="285.89" y="297.11" width="12.63" height="13.83" fill="#e7e419"/>
<rect x="298.12" y="297.11" width="12.63" height="13.83" fill="#e7e419"/>
<rect x="310.35" y="297.11" width="12.63" height="13.83" fill="#efe51c"/>
<rect x="322.57" y="297.11" width="12.63" height="13.83" fill="#efe51c"/>
<rect x="200.30" y="310.54" width="12.63" height="13.83" fill="#efe51c"/>
<rect x="212.53" y="310.54" width="12.63" height="13.83" fill="#efe51c"/>
<rect x="224.75" y="310.54" width="12.63" height="13.83" fill="#efe51c"/>
<rect x="236.98" y="310.54" width="12.63" height="13.83" fill="#e7e419"/>
<rect x="249.21" y="310.54" width="12.63" height="13.83" fill="#dfe318"/>
<rect x="261.44" y="310.54" width="12.63" height="13.83" fill="#dfe318"/>
<rect x="273.66" y="310.54" width="12.63" height="13.83" fill="#e7e419"/>
<rect x="285.89" y="310.54" width="12.63" height="13.83" fill="#e7e419"/>
<rect x="298.12" y="310.54" width="12.63" height="13.83" fill="#e7e419"/>
<rect x="310.35" y="310.54" width="12.63" height="13.83" fill="#efe51c"/>
<rect x="322.57" y="310.54" width="12.63" height="13.83" fill="#efe51c"/>
<rect x="200.30" y="323.97" width="12.63" height="13.83" fill="#efe51c"/>
<rect x="212.53" y="323.97" width="12.63" height="13.83" fill="#efe51c"/>
<rect x="224.75" y="323.97" width="12.63" height="13.83" fill="#efe51c"/>
<rect x="236.98" y="323.97" width="12.63" height="13.83" fill="#e7e419"/>
<rect x="249.21" y="323.97" width="12.63" height="13.83" fill="#e7e419"/>
<rect x="261.44" y="323.97" width="12.63" height="13.83" fill="#dfe318"/>
<rect x="273.66" y="323.97" width="12.63" height="13.83" fill="#e7e419"/>
<rect x="285.89" y="323.97" width="12.63" height="13.83" fill="#efe51c"/>
<rect x="298.12" y="323.97" width="12.63" height="13.83" fill="#efe51c"/>
<rect x="310.35" y="323.97" width="12.63" height="13.83" fill="#efe51c"/>
<rect x="322.57" y="323.97" width="12.63" height="13.83" fill="#efe51c"/>
</g>
<rect x="200.30" y="203.10" width="134.5" height="134.3" fill="none" stroke="#333" stroke-opacity="0.7" stroke-width="0.8"/>
<line x1="198.10" y1="209.51" x2="200.30" y2="209.51" stroke="#444" stroke-width="0.8"/>
<line x1="205.70" y1="337.40" x2="205.70" y2="339.60" stroke="#444" stroke-width="0.8"/>
<line x1="198.10" y1="269.95" x2="200.30" y2="269.95" stroke="#444" stroke-width="0.8"/>
<line x1="267.25" y1="337.40" x2="267.25" y2="339.60" stroke="#444" stroke-width="0.8"/>
<line x1="198.10" y1="330.38" x2="200.30" y2="330.38" stroke="#444" stroke-width="0.8"/>
<line x1="328.80" y1="337.40" x2="328.80" y2="339.60" stroke="#444" stroke-width="0.8"/>
<text transform="translate(230.70,198.59) scale(0.8831,1)" style="font-family:'Liberation Sans',sans-serif;font-size:21.23px;fill:#000;stroke:#fff;stroke-width:0.200px">Redfield</text>
<text transform="translate(195.55,351.55) scale(0.8995,1)" style="font-family:'Liberation Sans',sans-serif;font-size:15.29px;fill:#000;stroke:#fff;stroke-width:0.080px">-55</text>
<text transform="translate(263.26,351.17) scale(1.0338,1)" style="font-family:'Liberation Sans',sans-serif;font-size:13.10px;fill:#000;stroke:#fff;stroke-width:0.080px">0</text>
<text transform="translate(321.06,351.45) scale(0.8747,1)" style="font-family:'Liberation Sans',sans-serif;font-size:15.43px;fill:#000;stroke:#fff;stroke-width:0.080px">55</text>
<text transform="translate(229.62,373.52) scale(1.0725,1)" style="font-family:'Liberation Serif',serif;font-style:italic;font-size:22.50px;fill:#000;stroke:#fff;stroke-width:0.200px">J</text>
<text transform="translate(248.32,373.23) scale(0.8827,1)" style="font-family:'Liberation Serif',serif;font-size:22.22px;fill:#000;stroke:#fff;stroke-width:0.200px">(</text>
<text transform="translate(254.91,372.52) scale(0.9727,1)" style="font-family:'Liberation Sans',sans-serif;font-size:17.64px;fill:#000;stroke:#fff;stroke-width:0.200px">cm</text>
<text transform="translate(278.52,365.30) scale(1.1585,1)" style="font-family:'Liberation Serif',serif;font-size:13.54px;fill:#333;stroke:#fff;stroke-width:0.080px">&#8722;1</text>
<text transform="translate(296.36,373.23) scale(0.8135,1)" style="font-family:'Liberation Serif',serif;font-size:22.22px;fill:#000;stroke:#fff;stroke-width:0.200px">)</text>
<rect x="341.30" y="203.10" width="11.6" height="134.3" fill="url(#vir)" stroke="#333" stroke-opacity="0.7" stroke-width="0.8"/>
<line x1="352.90" y1="203.10" x2="355.10" y2="203.10" stroke="#444" stroke-width="0.8"/>
<line x1="352.90" y1="270.25" x2="355.10" y2="270.25" stroke="#444" stroke-width="0.8"/>
<line x1="352.90" y1="337.40" x2="355.10" y2="337.40" stroke="#444" stroke-width="0.8"/>
<text transform="translate(354.34,208.54) scale(0.9989,1)" style="font-family:'Liberation Serif',serif;font-size:16.27px;fill:#000;stroke:#fff;stroke-width:0.080px">1.0</text>
<text transform="translate(354.63,275.69) scale(1.0350,1)" style="font-family:'Liberation Serif',serif;font-size:16.27px;fill:#000;stroke:#fff;stroke-width:0.080px">0.8</text>
<text transform="translate(354.63,342.84) scale(1.0262,1)" style="font-family:'Liberation Serif',serif;font-size:16.27px;fill:#000;stroke:#fff;stroke-width:0.080px">0.6</text>
<text transform="translate(36.80,32.28) scale(0.8643,1)" style="font-family:'Liberation Sans',sans-serif;font-size:31.82px;fill:#000">a</text>
<g shape-rendering="crispEdges">
<rect x="433.00" y="46.10" width="12.63" height="13.83" fill="#cde11d"/>
<rect x="445.23" y="46.10" width="12.63" height="13.83" fill="#cde11d"/>
<rect x="457.45" y="46.10" width="12.63" height="13.83" fill="#d8e219"/>
<rect x="469.68" y="46.10" width="12.63" height="13.83" fill="#e7e419"/>
<rect x="481.91" y="46.10" width="12.63" height="13.83" fill="#e7e419"/>
<rect x="494.14" y="46.10" width="12.63" height="13.83" fill="#efe51c"/>
<rect x="506.36" y="46.10" width="12.63" height="13.83" fill="#efe51c"/>
<rect x="518.59" y="46.10" width="12.63" height="13.83" fill="#e7e419"/>
<rect x="530.82" y="46.10" width="12.63" height="13.83" fill="#d8e219"/>
<rect x="543.05" y="46.10" width="12.63" height="13.83" fill="#d8e219"/>
<rect x="555.27" y="46.10" width="12.63" height="13.83" fill="#cde11d"/>
<rect x="433.00" y="59.53" width="12.63" height="13.83" fill="#cde11d"/>
<rect x="445.23" y="59.53" width="12.63" height="13.83" fill="#cde11d"/>
<rect x="457.45" y="59.53" width="12.63" height="13.83" fill="#d8e219"/>
<rect x="469.68" y="59.53" width="12.63" height="13.83" fill="#e7e419"/>
<rect x="481.91" y="59.53" width="12.63" height="13.83" fill="#e7e419"/>
<rect x="494.14" y="59.53" width="12.63" height="13.83" fill="#efe51c"/>
<rect x="506.36" y="59.53" width="12.63" height="13.83" fill="#efe51c"/>
<rect x="518.59" y="59.53" width="12.63" height="13.83" fill="#e7e419"/>
<rect x="530.82" y="59.53" width="12.63" height="13.83" fill="#d8e219"/>
<rect x="543.05" y="59.53" width="12.63" height="13.83" fill="#c5e021"/>
<rect x="555.27" y="59.53" width="12.63" height="13.83" fill="#cde11d"/>
<rect x="433.00" y="72.96" width="12.63" height="13.83" fill="#cde11d"/>
<rect x="445.23" y="72.96" width="12.63" height="13.83" fill="#cde11d"/>
<rect x="457.45" y="72.96" width="12.63" height="13.83" fill="#d8e219"/>
<rect x="469.68" y="72.96" width="12.63" height="13.83" fill="#dfe318"/>
<rect x="481.91" y="72.96" width="12.63" height="13.83" fill="#e7e419"/>
<rect x="494.14" y="72.96" width="12.63" height="13.83" fill="#efe51c"/>
<rect x="506.36" y="72.96" width="12.63" height="13.83" fill="#efe51c"/>
<rect x="518.59" y="72.96" width="12.63" height="13.83" fill="#e7e419"/>
<rect x="530.82" y="72.96" width="12.63" height="13.83" fill="#d8e219"/>
<rect x="543.05" y="72.96" width="12.63" height="13.83" fill="#cde11d"/>
<rect x="555.27" y="72.96" width="12.63" height="13.83" fill="#cde11d"/>
<rect x="433.00" y="86.39" width="12.63" height="13.83" fill="#cde11d"/>
<rect x="445.23" y="86.39" width="12.63" height="13.83" fill="#cde11d"/>
<rect x="457.45" y="86.39" width="12.63" height="13.83" fill="#d8e219"/>
<rect x="469.68" y="86.39" width="12.63" height="13.83" fill="#e7e419"/>
<rect x="481.91" y="86.39" width="12.63" height="13.83" fill="#e7e419"/>
<rect x="494.14" y="86.39" width="12.63" height="13.83" fill="#efe51c"/>
<rect x="506.36" y="86.39" width="12.63" height="13.83" fill="#e7e419"/>
<rect x="518.59" y="86.39" width="12.63" height="13.83" fill="#efe51c"/>
<rect x="530.82" y="86.39" width="12.63" height="13.83" fill="#d8e219"/>
<rect x="543.05" y="86.39" width="12.63" height="13.83" fill="#cde11d"/>
<rect x="555.27" y="86.39" width="12.63" height="13.83" fill="#bddf26"/>
<rect x="433.00" y="99.82" width="12.63" height="13.83" fill="#cde11d"/>
<rect x="445.23" y="99.82" width="12.63" height="13.83" fill="#d8e219"/>
<rect x="457.45" y="99.82" width="12.63" height="13.83" fill="#dfe318"/>
<rect x="469.68" y="99.82" width="12.63" height="13.83" fill="#e7e419"/>
<rect x="481.91" y="99.82" width="12.63" height="13.83" fill="#e7e419"/>
<rect x="494.14" y="99.82" width="12.63" height="13.83" fill="#efe51c"/>
<rect x="506.36" y="99.82" width="12.63" height="13.83" fill="#efe51c"/>
<rect x="518.59" y="99.82" width="12.63" height="13.83" fill="#e7e419"/>
<rect x="530.82" y="99.82" width="12.63" height="13.83" fill="#d8e219"/>
<rect x="543.05" y="99.82" width="12.63" height="13.83" fill="#cde11d"/>
<rect x="555.27" y="99.82" width="12.63" height="13.83" fill="#cde11d"/>
<rect x="433.00" y="113.25" width="12.63" height="13.83" fill="#cde11d"/>
<rect x="445.23" y="113.25" width="12.63" height="13.83" fill="#dfe318"/>
<rect x="457.45" y="113.25" width="12.63" height="13.83" fill="#dfe318"/>
<rect x="469.68" y="113.25" width="12.63" height="13.83" fill="#e7e419"/>
<rect x="481.91" y="113.25" width="12.63" height="13.83" fill="#e7e419"/>
<rect x="494.14" y="113.25" width="12.63" height="13.83" fill="#e7e419"/>
<rect x="506.36" y="113.25" width="12.63" height="13.83" fill="#efe51c"/>
<rect x="518.59" y="113.25" width="12.63" height="13.83" fill="#dfe318"/>
<rect x="530.82" y="113.25" width="12.63" height="13.83" fill="#d8e219"/>
<rect x="543.05" y="113.25" width="12.63" height="13.83" fill="#d8e219"/>
<rect x="555.27" y="113.25" width="12.63" height="13.83" fill="#d8e219"/>
<rect x="433.00" y="126.68" width="12.63" height="13.83" fill="#d8e219"/>
<rect x="445.23" y="126.68" width="12.63" height="13.83" fill="#dfe318"/>
<rect x="457.45" y="126.68" width="12.63" height="13.83" fill="#dfe318"/>
<rect x="469.68" y="126.68" width="12.63" height="13.83" fill="#e7e419"/>
<rect x="481.91" y="126.68" width="12.63" height="13.83" fill="#e7e419"/>
<rect x="494.14" y="126.68" width="12.63" height="13.83" fill="#e7e419"/>
<rect x="506.36" y="126.68" width="12.63" height="13.83" fill="#e7e419"/>
<rect x="518.59" y="126.68" width="12.63" height="13.83" fill="#e7e419"/>
<rect x="530.82" y="126.68" width="12.63" height="13.83" fill="#dfe318"/>
<rect x="543.05" y="126.68" width="12.63" height="13.83" fill="#dfe318"/>
<rect x="555.27" y="126.68" width="12.63" height="13.83" fill="#dfe318"/>
<rect x="433.00" y="140.11" width="12.63" height="13.83" fill="#d8e219"/>
<rect x="445.23" y="140.11" width="12.63" height="13.83" fill="#e7e419"/>
<rect x="457.45" y="140.11" width="12.63" height="13.83" fill="#e7e419"/>
<rect x="469.68" y="140.11" width="12.63" height="13.83" fill="#e7e419"/>
<rect x="481.91" y="140.11" width="12.63" height="13.83" fill="#efe51c"/>
<rect x="494.14" y="140.11" width="12.63" height="13.83" fill="#efe51c"/>
<rect x="506.36" y="140.11" width="12.63" height="13.83" fill="#e7e419"/>
<rect x="518.59" y="140.11" width="12.63" height="13.83" fill="#e7e419"/>
<rect x="530.82" y="140.11" width="12.63" height="13.83" fill="#e7e419"/>
<rect x="543.05" y="140.11" width="12.63" height="13.83" fill="#dfe318"/>
<rect x="555.27" y="140.11" width="12.63" height="13.83" fill="#d8e219"/>
<rect x="433.00" y="153.54" width="12.63" height="13.83" fill="#d8e219"/>
<rect x="445.23" y="153.54" width="12.63" height="13.83" fill="#e7e419"/>
<rect x="457.45" y="153.54" width="12.63" height="13.83" fill="#e7e419"/>
<rect x="469.68" y="153.54" width="12.63" height="13.83" fill="#e7e419"/>
<rect x="481.91" y="153.54" width="12.63" height="13.83" fill="#e7e419"/>
<rect x="494.14" y="153.54" width="12.63" height="13.83" fill="#efe51c"/>
<rect x="506.36" y="153.54" width="12.63" height="13.83" fill="#efe51c"/>
<rect x="518.59" y="153.54" width="12.63" height="13.83" fill="#e7e419"/>
<rect x="530.82" y="153.54" width="12.63" height="13.83" fill="#e7e419"/>
<rect x="543.05" y="153.54" width="12.63" height="13.83" fill="#dfe318"/>
<rect x="555.27" y="153.54" width="12.63" height="13.83" fill="#dfe318"/>
<rect x="433.00" y="166.97" width="12.63" height="13.83" fill="#d8e219"/>
<rect x="445.23" y="166.97" width="12.63" height="13.83" fill="#dfe318"/>
<rect x="457.45" y="166.97" width="12.63" height="13.83" fill="#e7e419"/>
<rect x="469.68" y="166.97" width="12.63" height="13.83" fill="#e7e419"/>
<rect x="481.91" y="166.97" width="12.63" height="13.83" fill="#e7e419"/>
<rect x="494.14" y="166.97" width="12.63" height="13.83" fill="#e7e419"/>
<rect x="506.36" y="166.97" width="12.63" height="13.83" fill="#e7e419"/>
<rect x="518.59" y="166.97" width="12.63" height="13.83" fill="#e7e419"/>
<rect x="530.82" y="166.97" width="12.63" height="13.83" fill="#e7e419"/>
<rect x="543.05" y="166.97" width="12.63" height="13.83" fill="#dfe318"/>
<rect x="555.27" y="166.97" width="12.63" height="13.83" fill="#dfe318"/>
</g>
<rect x="433.00" y="46.10" width="134.5" height="134.3" fill="none" stroke="#333" stroke-opacity="0.7" stroke-width="0.8"/>
<line x1="430.80" y1="52.52" x2="433.00" y2="52.52" stroke="#444" stroke-width="0.8"/>
<line x1="438.40" y1="180.40" x2="438.40" y2="182.60" stroke="#444" stroke-width="0.8"/>
<line x1="430.80" y1="112.95" x2="433.00" y2="112.95" stroke="#444" stroke-width="0.8"/>
<line x1="499.95" y1="180.40" x2="499.95" y2="182.60" stroke="#444" stroke-width="0.8"/>
<line x1="430.80" y1="173.39" x2="433.00" y2="173.39" stroke="#444" stroke-width="0.8"/>
<line x1="561.50" y1="180.40" x2="561.50" y2="182.60" stroke="#444" stroke-width="0.8"/>
<text transform="translate(480.25,41.39) scale(0.8493,1)" style="font-family:'Liberation Sans',sans-serif;font-size:21.41px;fill:#000;stroke:#fff;stroke-width:0.200px">FCE</text>
<text transform="translate(421.48,57.85) scale(0.8709,1)" style="font-family:'Liberation Sans',sans-serif;font-size:15.07px;fill:#000;stroke:#fff;stroke-width:0.080px">0</text>
<text transform="translate(406.24,118.65) scale(0.8860,1)" style="font-family:'Liberation Sans',sans-serif;font-size:14.93px;fill:#000;stroke:#fff;stroke-width:0.080px">250</text>
<text transform="translate(406.36,178.65) scale(0.8931,1)" style="font-family:'Liberation Sans',sans-serif;font-size:15.21px;fill:#000;stroke:#fff;stroke-width:0.080px">500</text>
<text transform="rotate(-90) translate(-148.75,400.40) scale(0.9447,1)" style="font-family:'Liberation Serif',serif;font-style:italic;font-size:19.58px;fill:#000;stroke:#fff;stroke-width:0.200px">&#1013;</text>
<text transform="rotate(-90) translate(-133.66,400.75) scale(0.7156,1)" style="font-family:'Liberation Serif',serif;font-size:23.11px;fill:#000;stroke:#fff;stroke-width:0.200px">(</text>
<text transform="rotate(-90) translate(-127.80,400.43) scale(1.0275,1)" style="font-family:'Liberation Sans',sans-serif;font-size:17.09px;fill:#000;stroke:#fff;stroke-width:0.200px">cm</text>
<text transform="rotate(-90) translate(-103.37,392.70) scale(1.1892,1)" style="font-family:'Liberation Serif',serif;font-size:12.92px;fill:#333;stroke:#fff;stroke-width:0.080px">&#8722;1</text>
<text transform="rotate(-90) translate(-85.98,400.75) scale(0.6990,1)" style="font-family:'Liberation Serif',serif;font-size:23.11px;fill:#000;stroke:#fff;stroke-width:0.200px">)</text>
<g shape-rendering="crispEdges">
<rect x="578.30" y="46.10" width="12.63" height="13.83" fill="#cde11d"/>
<rect x="590.53" y="46.10" width="12.63" height="13.83" fill="#cde11d"/>
<rect x="602.75" y="46.10" width="12.63" height="13.83" fill="#d2e21b"/>
<rect x="614.98" y="46.10" width="12.63" height="13.83" fill="#dfe318"/>
<rect x="627.21" y="46.10" width="12.63" height="13.83" fill="#dfe318"/>
<rect x="639.44" y="46.10" width="12.63" height="13.83" fill="#e7e419"/>
<rect x="651.66" y="46.10" width="12.63" height="13.83" fill="#efe51c"/>
<rect x="663.89" y="46.10" width="12.63" height="13.83" fill="#dfe318"/>
<rect x="676.12" y="46.10" width="12.63" height="13.83" fill="#d8e219"/>
<rect x="688.35" y="46.10" width="12.63" height="13.83" fill="#d2e21b"/>
<rect x="700.57" y="46.10" width="12.63" height="13.83" fill="#cde11d"/>
<rect x="578.30" y="59.53" width="12.63" height="13.83" fill="#c2df23"/>
<rect x="590.53" y="59.53" width="12.63" height="13.83" fill="#bddf26"/>
<rect x="602.75" y="59.53" width="12.63" height="13.83" fill="#bddf26"/>
<rect x="614.98" y="59.53" width="12.63" height="13.83" fill="#bddf26"/>
<rect x="627.21" y="59.53" width="12.63" height="13.83" fill="#cde11d"/>
<rect x="639.44" y="59.53" width="12.63" height="13.83" fill="#efe51c"/>
<rect x="651.66" y="59.53" width="12.63" height="13.83" fill="#cde11d"/>
<rect x="663.89" y="59.53" width="12.63" height="13.83" fill="#b8de29"/>
<rect x="676.12" y="59.53" width="12.63" height="13.83" fill="#b8de29"/>
<rect x="688.35" y="59.53" width="12.63" height="13.83" fill="#b8de29"/>
<rect x="700.57" y="59.53" width="12.63" height="13.83" fill="#bddf26"/>
<rect x="578.30" y="72.96" width="12.63" height="13.83" fill="#98d83e"/>
<rect x="590.53" y="72.96" width="12.63" height="13.83" fill="#90d743"/>
<rect x="602.75" y="72.96" width="12.63" height="13.83" fill="#90d743"/>
<rect x="614.98" y="72.96" width="12.63" height="13.83" fill="#a0da39"/>
<rect x="627.21" y="72.96" width="12.63" height="13.83" fill="#cde11d"/>
<rect x="639.44" y="72.96" width="12.63" height="13.83" fill="#efe51c"/>
<rect x="651.66" y="72.96" width="12.63" height="13.83" fill="#cde11d"/>
<rect x="663.89" y="72.96" width="12.63" height="13.83" fill="#a0da39"/>
<rect x="676.12" y="72.96" width="12.63" height="13.83" fill="#84d44b"/>
<rect x="688.35" y="72.96" width="12.63" height="13.83" fill="#84d44b"/>
<rect x="700.57" y="72.96" width="12.63" height="13.83" fill="#89d548"/>
<rect x="578.30" y="86.39" width="12.63" height="13.83" fill="#89d548"/>
<rect x="590.53" y="86.39" width="12.63" height="13.83" fill="#89d548"/>
<rect x="602.75" y="86.39" width="12.63" height="13.83" fill="#98d83e"/>
<rect x="614.98" y="86.39" width="12.63" height="13.83" fill="#b8de29"/>
<rect x="627.21" y="86.39" width="12.63" height="13.83" fill="#cde11d"/>
<rect x="639.44" y="86.39" width="12.63" height="13.83" fill="#efe51c"/>
<rect x="651.66" y="86.39" width="12.63" height="13.83" fill="#cde11d"/>
<rect x="663.89" y="86.39" width="12.63" height="13.83" fill="#a8db34"/>
<rect x="676.12" y="86.39" width="12.63" height="13.83" fill="#84d44b"/>
<rect x="688.35" y="86.39" width="12.63" height="13.83" fill="#6ece58"/>
<rect x="700.57" y="86.39" width="12.63" height="13.83" fill="#60ca60"/>
<rect x="578.30" y="99.82" width="12.63" height="13.83" fill="#98d83e"/>
<rect x="590.53" y="99.82" width="12.63" height="13.83" fill="#a0da39"/>
<rect x="602.75" y="99.82" width="12.63" height="13.83" fill="#a8db34"/>
<rect x="614.98" y="99.82" width="12.63" height="13.83" fill="#bddf26"/>
<rect x="627.21" y="99.82" width="12.63" height="13.83" fill="#cde11d"/>
<rect x="639.44" y="99.82" width="12.63" height="13.83" fill="#e7e419"/>
<rect x="651.66" y="99.82" width="12.63" height="13.83" fill="#d8e219"/>
<rect x="663.89" y="99.82" width="12.63" height="13.83" fill="#c2df23"/>
<rect x="676.12" y="99.82" width="12.63" height="13.83" fill="#a8db34"/>
<rect x="688.35" y="99.82" width="12.63" height="13.83" fill="#90d743"/>
<rect x="700.57" y="99.82" width="12.63" height="13.83" fill="#6ece58"/>
<rect x="578.30" y="113.25" width="12.63" height="13.83" fill="#a0da39"/>
<rect x="590.53" y="113.25" width="12.63" height="13.83" fill="#a8db34"/>
<rect x="602.75" y="113.25" width="12.63" height="13.83" fill="#b0dd2f"/>
<rect x="614.98" y="113.25" width="12.63" height="13.83" fill="#c2df23"/>
<rect x="627.21" y="113.25" width="12.63" height="13.83" fill="#d2e21b"/>
<rect x="639.44" y="113.25" width="12.63" height="13.83" fill="#e7e419"/>
<rect x="651.66" y="113.25" width="12.63" height="13.83" fill="#dfe318"/>
<rect x="663.89" y="113.25" width="12.63" height="13.83" fill="#c8e020"/>
<rect x="676.12" y="113.25" width="12.63" height="13.83" fill="#b0dd2f"/>
<rect x="688.35" y="113.25" width="12.63" height="13.83" fill="#98d83e"/>
<rect x="700.57" y="113.25" width="12.63" height="13.83" fill="#84d44b"/>
<rect x="578.30" y="126.68" width="12.63" height="13.83" fill="#a8db34"/>
<rect x="590.53" y="126.68" width="12.63" height="13.83" fill="#b0dd2f"/>
<rect x="602.75" y="126.68" width="12.63" height="13.83" fill="#bddf26"/>
<rect x="614.98" y="126.68" width="12.63" height="13.83" fill="#c2df23"/>
<rect x="627.21" y="126.68" width="12.63" height="13.83" fill="#d2e21b"/>
<rect x="639.44" y="126.68" width="12.63" height="13.83" fill="#e7e419"/>
<rect x="651.66" y="126.68" width="12.63" height="13.83" fill="#dfe318"/>
<rect x="663.89" y="126.68" width="12.63" height="13.83" fill="#c8e020"/>
<rect x="676.12" y="126.68" width="12.63" height="13.83" fill="#b8de29"/>
<rect x="688.35" y="126.68" width="12.63" height="13.83" fill="#a0da39"/>
<rect x="700.57" y="126.68" width="12.63" height="13.83" fill="#89d548"/>
<rect x="578.30" y="140.11" width="12.63" height="13.83" fill="#b0dd2f"/>
<rect x="590.53" y="140.11" width="12.63" height="13.83" fill="#b8de29"/>
<rect x="602.75" y="140.11" width="12.63" height="13.83" fill="#bddf26"/>
<rect x="614.98" y="140.11" width="12.63" height="13.83" fill="#c8e020"/>
<rect x="627.21" y="140.11" width="12.63" height="13.83" fill="#d8e219"/>
<rect x="639.44" y="140.11" width="12.63" height="13.83" fill="#efe51c"/>
<rect x="651.66" y="140.11" width="12.63" height="13.83" fill="#dfe318"/>
<rect x="663.89" y="140.11" width="12.63" height="13.83" fill="#cde11d"/>
<rect x="676.12" y="140.11" width="12.63" height="13.83" fill="#bddf26"/>
<rect x="688.35" y="140.11" width="12.63" height="13.83" fill="#b0dd2f"/>
<rect x="700.57" y="140.11" width="12.63" height="13.83" fill="#a8db34"/>
<rect x="578.30" y="153.54" width="12.63" height="13.83" fill="#b8de29"/>
<rect x="590.53" y="153.54" width="12.63" height="13.83" fill="#bddf26"/>
<rect x="602.75" y="153.54" width="12.63" height="13.83" fill="#c2df23"/>
<rect x="614.98" y="153.54" width="12.63" height="13.83" fill="#c8e020"/>
<rect x="627.21" y="153.54" width="12.63" height="13.83" fill="#d8e219"/>
<rect x="639.44" y="153.54" width="12.63" height="13.83" fill="#efe51c"/>
<rect x="651.66" y="153.54" width="12.63" height="13.83" fill="#dfe318"/>
<rect x="663.89" y="153.54" width="12.63" height="13.83" fill="#cde11d"/>
<rect x="676.12" y="153.54" width="12.63" height="13.83" fill="#c2df23"/>
<rect x="688.35" y="153.54" width="12.63" height="13.83" fill="#b8de29"/>
<rect x="700.57" y="153.54" width="12.63" height="13.83" fill="#b0dd2f"/>
<rect x="578.30" y="166.97" width="12.63" height="13.83" fill="#bddf26"/>
<rect x="590.53" y="166.97" width="12.63" height="13.83" fill="#bddf26"/>
<rect x="602.75" y="166.97" width="12.63" height="13.83" fill="#c2df23"/>
<rect x="614.98" y="166.97" width="12.63" height="13.83" fill="#cde11d"/>
<rect x="627.21" y="166.97" width="12.63" height="13.83" fill="#d8e219"/>
<rect x="639.44" y="166.97" width="12.63" height="13.83" fill="#e7e419"/>
<rect x="651.66" y="166.97" width="12.63" height="13.83" fill="#dfe318"/>
<rect x="663.89" y="166.97" width="12.63" height="13.83" fill="#d2e21b"/>
<rect x="676.12" y="166.97" width="12.63" height="13.83" fill="#c2df23"/>
<rect x="688.35" y="166.97" width="12.63" height="13.83" fill="#bddf26"/>
<rect x="700.57" y="166.97" width="12.63" height="13.83" fill="#b8de29"/>
</g>
<rect x="578.30" y="46.10" width="134.5" height="134.3" fill="none" stroke="#333" stroke-opacity="0.7" stroke-width="0.8"/>
<line x1="576.10" y1="52.52" x2="578.30" y2="52.52" stroke="#444" stroke-width="0.8"/>
<line x1="583.70" y1="180.40" x2="583.70" y2="182.60" stroke="#444" stroke-width="0.8"/>
<line x1="576.10" y1="112.95" x2="578.30" y2="112.95" stroke="#444" stroke-width="0.8"/>
<line x1="645.25" y1="180.40" x2="645.25" y2="182.60" stroke="#444" stroke-width="0.8"/>
<line x1="576.10" y1="173.39" x2="578.30" y2="173.39" stroke="#444" stroke-width="0.8"/>
<line x1="706.80" y1="180.40" x2="706.80" y2="182.60" stroke="#444" stroke-width="0.8"/>
<text transform="translate(629.09,41.38) scale(0.9374,1)" style="font-family:'Liberation Sans',sans-serif;font-size:21.71px;fill:#000;stroke:#fff;stroke-width:0.200px">ctR</text>
<g shape-rendering="crispEdges">
<rect x="433.00" y="203.10" width="12.63" height="13.83" fill="#25848e"/>
<rect x="445.23" y="203.10" width="12.63" height="13.83" fill="#26828e"/>
<rect x="457.45" y="203.10" width="12.63" height="13.83" fill="#297b8e"/>
<rect x="469.68" y="203.10" width="12.63" height="13.83" fill="#2a788e"/>
<rect x="481.91" y="203.10" width="12.63" height="13.83" fill="#2c728e"/>
<rect x="494.14" y="203.10" width="12.63" height="13.83" fill="#efe51c"/>
<rect x="506.36" y="203.10" width="12.63" height="13.83" fill="#3e4c8a"/>
<rect x="518.59" y="203.10" width="12.63" height="13.83" fill="#414487"/>
<rect x="530.82" y="203.10" width="12.63" height="13.83" fill="#443a83"/>
<rect x="543.05" y="203.10" width="12.63" height="13.83" fill="#453581"/>
<rect x="555.27" y="203.10" width="12.63" height="13.83" fill="#482878"/>
<rect x="433.00" y="216.53" width="12.63" height="13.83" fill="#32b67a"/>
<rect x="445.23" y="216.53" width="12.63" height="13.83" fill="#32b67a"/>
<rect x="457.45" y="216.53" width="12.63" height="13.83" fill="#40bd72"/>
<rect x="469.68" y="216.53" width="12.63" height="13.83" fill="#84d44b"/>
<rect x="481.91" y="216.53" width="12.63" height="13.83" fill="#cde11d"/>
<rect x="494.14" y="216.53" width="12.63" height="13.83" fill="#efe51c"/>
<rect x="506.36" y="216.53" width="12.63" height="13.83" fill="#b8de29"/>
<rect x="518.59" y="216.53" width="12.63" height="13.83" fill="#40bd72"/>
<rect x="530.82" y="216.53" width="12.63" height="13.83" fill="#1f9a8a"/>
<rect x="543.05" y="216.53" width="12.63" height="13.83" fill="#2b758e"/>
<rect x="555.27" y="216.53" width="12.63" height="13.83" fill="#33638d"/>
<rect x="433.00" y="229.96" width="12.63" height="13.83" fill="#89d548"/>
<rect x="445.23" y="229.96" width="12.63" height="13.83" fill="#89d548"/>
<rect x="457.45" y="229.96" width="12.63" height="13.83" fill="#90d743"/>
<rect x="469.68" y="229.96" width="12.63" height="13.83" fill="#a8db34"/>
<rect x="481.91" y="229.96" width="12.63" height="13.83" fill="#cde11d"/>
<rect x="494.14" y="229.96" width="12.63" height="13.83" fill="#efe51c"/>
<rect x="506.36" y="229.96" width="12.63" height="13.83" fill="#c8e020"/>
<rect x="518.59" y="229.96" width="12.63" height="13.83" fill="#89d548"/>
<rect x="530.82" y="229.96" width="12.63" height="13.83" fill="#54c568"/>
<rect x="543.05" y="229.96" width="12.63" height="13.83" fill="#29af7f"/>
<rect x="555.27" y="229.96" width="12.63" height="13.83" fill="#1f9a8a"/>
<rect x="433.00" y="243.39" width="12.63" height="13.83" fill="#90d743"/>
<rect x="445.23" y="243.39" width="12.63" height="13.83" fill="#90d743"/>
<rect x="457.45" y="243.39" width="12.63" height="13.83" fill="#98d83e"/>
<rect x="469.68" y="243.39" width="12.63" height="13.83" fill="#b8de29"/>
<rect x="481.91" y="243.39" width="12.63" height="13.83" fill="#cde11d"/>
<rect x="494.14" y="243.39" width="12.63" height="13.83" fill="#efe51c"/>
<rect x="506.36" y="243.39" width="12.63" height="13.83" fill="#cde11d"/>
<rect x="518.59" y="243.39" width="12.63" height="13.83" fill="#a8db34"/>
<rect x="530.82" y="243.39" width="12.63" height="13.83" fill="#7cd250"/>
<rect x="543.05" y="243.39" width="12.63" height="13.83" fill="#54c568"/>
<rect x="555.27" y="243.39" width="12.63" height="13.83" fill="#32b67a"/>
<rect x="433.00" y="256.82" width="12.63" height="13.83" fill="#a0da39"/>
<rect x="445.23" y="256.82" width="12.63" height="13.83" fill="#a0da39"/>
<rect x="457.45" y="256.82" width="12.63" height="13.83" fill="#a8db34"/>
<rect x="469.68" y="256.82" width="12.63" height="13.83" fill="#bddf26"/>
<rect x="481.91" y="256.82" width="12.63" height="13.83" fill="#cde11d"/>
<rect x="494.14" y="256.82" width="12.63" height="13.83" fill="#e7e419"/>
<rect x="506.36" y="256.82" width="12.63" height="13.83" fill="#d8e219"/>
<rect x="518.59" y="256.82" width="12.63" height="13.83" fill="#b8de29"/>
<rect x="530.82" y="256.82" width="12.63" height="13.83" fill="#98d83e"/>
<rect x="543.05" y="256.82" width="12.63" height="13.83" fill="#6ece58"/>
<rect x="555.27" y="256.82" width="12.63" height="13.83" fill="#40bd72"/>
<rect x="433.00" y="270.25" width="12.63" height="13.83" fill="#a0da39"/>
<rect x="445.23" y="270.25" width="12.63" height="13.83" fill="#a8db34"/>
<rect x="457.45" y="270.25" width="12.63" height="13.83" fill="#b0dd2f"/>
<rect x="469.68" y="270.25" width="12.63" height="13.83" fill="#c2df23"/>
<rect x="481.91" y="270.25" width="12.63" height="13.83" fill="#d2e21b"/>
<rect x="494.14" y="270.25" width="12.63" height="13.83" fill="#e7e419"/>
<rect x="506.36" y="270.25" width="12.63" height="13.83" fill="#d8e219"/>
<rect x="518.59" y="270.25" width="12.63" height="13.83" fill="#bddf26"/>
<rect x="530.82" y="270.25" width="12.63" height="13.83" fill="#a0da39"/>
<rect x="543.05" y="270.25" width="12.63" height="13.83" fill="#89d548"/>
<rect x="555.27" y="270.25" width="12.63" height="13.83" fill="#67cc5c"/>
<rect x="433.00" y="283.68" width="12.63" height="13.83" fill="#a8db34"/>
<rect x="445.23" y="283.68" width="12.63" height="13.83" fill="#b0dd2f"/>
<rect x="457.45" y="283.68" width="12.63" height="13.83" fill="#b8de29"/>
<rect x="469.68" y="283.68" width="12.63" height="13.83" fill="#c2df23"/>
<rect x="481.91" y="283.68" width="12.63" height="13.83" fill="#d2e21b"/>
<rect x="494.14" y="283.68" width="12.63" height="13.83" fill="#e7e419"/>
<rect x="506.36" y="283.68" width="12.63" height="13.83" fill="#dfe318"/>
<rect x="518.59" y="283.68" width="12.63" height="13.83" fill="#c2df23"/>
<rect x="530.82" y="283.68" width="12.63" height="13.83" fill="#a8db34"/>
<rect x="543.05" y="283.68" width="12.63" height="13.83" fill="#98d83e"/>
<rect x="555.27" y="283.68" width="12.63" height="13.83" fill="#7cd250"/>
<rect x="433.00" y="297.11" width="12.63" height="13.83" fill="#b0dd2f"/>
<rect x="445.23" y="297.11" width="12.63" height="13.83" fill="#b8de29"/>
<rect x="457.45" y="297.11" width="12.63" height="13.83" fill="#bddf26"/>
<rect x="469.68" y="297.11" width="12.63" height="13.83" fill="#c8e020"/>
<rect x="481.91" y="297.11" width="12.63" height="13.83" fill="#d8e219"/>
<rect x="494.14" y="297.11" width="12.63" height="13.83" fill="#efe51c"/>
<rect x="506.36" y="297.11" width="12.63" height="13.83" fill="#dfe318"/>
<rect x="518.59" y="297.11" width="12.63" height="13.83" fill="#c8e020"/>
<rect x="530.82" y="297.11" width="12.63" height="13.83" fill="#b8de29"/>
<rect x="543.05" y="297.11" width="12.63" height="13.83" fill="#a8db34"/>
<rect x="555.27" y="297.11" width="12.63" height="13.83" fill="#89d548"/>
<rect x="433.00" y="310.54" width="12.63" height="13.83" fill="#b8de29"/>
<rect x="445.23" y="310.54" width="12.63" height="13.83" fill="#bddf26"/>
<rect x="457.45" y="310.54" width="12.63" height="13.83" fill="#c2df23"/>
<rect x="469.68" y="310.54" width="12.63" height="13.83" fill="#c8e020"/>
<rect x="481.91" y="310.54" width="12.63" height="13.83" fill="#d8e219"/>
<rect x="494.14" y="310.54" width="12.63" height="13.83" fill="#e7e419"/>
<rect x="506.36" y="310.54" width="12.63" height="13.83" fill="#dfe318"/>
<rect x="518.59" y="310.54" width="12.63" height="13.83" fill="#cde11d"/>
<rect x="530.82" y="310.54" width="12.63" height="13.83" fill="#bddf26"/>
<rect x="543.05" y="310.54" width="12.63" height="13.83" fill="#b0dd2f"/>
<rect x="555.27" y="310.54" width="12.63" height="13.83" fill="#a0da39"/>
<rect x="433.00" y="323.97" width="12.63" height="13.83" fill="#b8de29"/>
<rect x="445.23" y="323.97" width="12.63" height="13.83" fill="#bddf26"/>
<rect x="457.45" y="323.97" width="12.63" height="13.83" fill="#c2df23"/>
<rect x="469.68" y="323.97" width="12.63" height="13.83" fill="#cde11d"/>
<rect x="481.91" y="323.97" width="12.63" height="13.83" fill="#d8e219"/>
<rect x="494.14" y="323.97" width="12.63" height="13.83" fill="#e7e419"/>
<rect x="506.36" y="323.97" width="12.63" height="13.83" fill="#dfe318"/>
<rect x="518.59" y="323.97" width="12.63" height="13.83" fill="#cde11d"/>
<rect x="530.82" y="323.97" width="12.63" height="13.83" fill="#c2df23"/>
<rect x="543.05" y="323.97" width="12.63" height="13.83" fill="#b8de29"/>
<rect x="555.27" y="323.97" width="12.63" height="13.83" fill="#a8db34"/>
</g>
<rect x="433.00" y="203.10" width="134.5" height="134.3" fill="none" stroke="#333" stroke-opacity="0.7" stroke-width="0.8"/>
<line x1="430.80" y1="209.51" x2="433.00" y2="209.51" stroke="#444" stroke-width="0.8"/>
<line x1="438.40" y1="337.40" x2="438.40" y2="339.60" stroke="#444" stroke-width="0.8"/>
<line x1="430.80" y1="269.95" x2="433.00" y2="269.95" stroke="#444" stroke-width="0.8"/>
<line x1="499.95" y1="337.40" x2="499.95" y2="339.60" stroke="#444" stroke-width="0.8"/>
<line x1="430.80" y1="330.38" x2="433.00" y2="330.38" stroke="#444" stroke-width="0.8"/>
<line x1="561.50" y1="337.40" x2="561.50" y2="339.60" stroke="#444" stroke-width="0.8"/>
<text transform="translate(459.11,197.71) scale(0.9467,1)" style="font-family:'Liberation Sans',sans-serif;font-size:20.89px;fill:#000;stroke:#fff;stroke-width:0.200px">ctR reorg</text>
<text transform="translate(421.48,214.85) scale(0.8709,1)" style="font-family:'Liberation Sans',sans-serif;font-size:15.07px;fill:#000;stroke:#fff;stroke-width:0.080px">0</text>
<text transform="translate(406.24,275.65) scale(0.8860,1)" style="font-family:'Liberation Sans',sans-serif;font-size:14.93px;fill:#000;stroke:#fff;stroke-width:0.080px">250</text>
<text transform="translate(406.36,335.65) scale(0.8931,1)" style="font-family:'Liberation Sans',sans-serif;font-size:15.21px;fill:#000;stroke:#fff;stroke-width:0.080px">500</text>
<text transform="rotate(-90) translate(-305.75,400.40) scale(0.9447,1)" style="font-family:'Liberation Serif',serif;font-style:italic;font-size:19.58px;fill:#000;stroke:#fff;stroke-width:0.200px">&#1013;</text>
<text transform="rotate(-90) translate(-290.66,400.75) scale(0.7156,1)" style="font-family:'Liberation Serif',serif;font-size:23.11px;fill:#000;stroke:#fff;stroke-width:0.200px">(</text>
<text transform="rotate(-90) translate(-284.80,400.43) scale(1.0275,1)" style="font-family:'Liberation Sans',sans-serif;font-size:17.09px;fill:#000;stroke:#fff;stroke-width:0.200px">cm</text>
<text transform="rotate(-90) translate(-260.37,392.70) scale(1.1892,1)" style="font-family:'Liberation Serif',serif;font-size:12.92px;fill:#333;stroke:#fff;stroke-width:0.080px">&#8722;1</text>
<text transform="rotate(-90) translate(-242.98,400.75) scale(0.6990,1)" style="font-family:'Liberation Serif',serif;font-size:23.11px;fill:#000;stroke:#fff;stroke-width:0.200px">)</text>
<text transform="translate(428.25,351.55) scale(0.8995,1)" style="font-family:'Liberation Sans',sans-serif;font-size:15.29px;fill:#000;stroke:#fff;stroke-width:0.080px">-55</text>
<text transform="translate(495.96,351.17) scale(1.0338,1)" style="font-family:'Liberation Sans',sans-serif;font-size:13.10px;fill:#000;stroke:#fff;stroke-width:0.080px">0</text>
<text transform="translate(553.76,351.45) scale(0.8747,1)" style="font-family:'Liberation Sans',sans-serif;font-size:15.43px;fill:#000;stroke:#fff;stroke-width:0.080px">55</text>
<text transform="translate(462.32,373.52) scale(1.0725,1)" style="font-family:'Liberation Serif',serif;font-style:italic;font-size:22.50px;fill:#000;stroke:#fff;stroke-width:0.200px">J</text>
<text transform="translate(481.02,373.23) scale(0.8827,1)" style="font-family:'Liberation Serif',serif;font-size:22.22px;fill:#000;stroke:#fff;stroke-width:0.200px">(</text>
<text transform="translate(487.61,372.52) scale(0.9727,1)" style="font-family:'Liberation Sans',sans-serif;font-size:17.64px;fill:#000;stroke:#fff;stroke-width:0.200px">cm</text>
<text transform="translate(511.22,365.30) scale(1.1585,1)" style="font-family:'Liberation Serif',serif;font-size:13.54px;fill:#333;stroke:#fff;stroke-width:0.080px">&#8722;1</text>
<text transform="translate(529.06,373.23) scale(0.8135,1)" style="font-family:'Liberation Serif',serif;font-size:22.22px;fill:#000;stroke:#fff;stroke-width:0.200px">)</text>
<g shape-rendering="crispEdges">
<rect x="578.30" y="203.10" width="12.63" height="13.83" fill="#46307e"/>
<rect x="590.53" y="203.10" width="12.63" height="13.83" fill="#46307e"/>
<rect x="602.75" y="203.10" width="12.63" height="13.83" fill="#453581"/>
<rect x="614.98" y="203.10" width="12.63" height="13.83" fill="#3f4889"/>
<rect x="627.21" y="203.10" width="12.63" height="13.83" fill="#460a5d"/>
<rect x="639.44" y="203.10" width="12.63" height="13.83" fill="#efe51c"/>
<rect x="651.66" y="203.10" width="12.63" height="13.83" fill="#450559"/>
<rect x="663.89" y="203.10" width="12.63" height="13.83" fill="#3f4889"/>
<rect x="676.12" y="203.10" width="12.63" height="13.83" fill="#46307e"/>
<rect x="688.35" y="203.10" width="12.63" height="13.83" fill="#482475"/>
<rect x="700.57" y="203.10" width="12.63" height="13.83" fill="#481c6e"/>
<rect x="578.30" y="216.53" width="12.63" height="13.83" fill="#2f6c8e"/>
<rect x="590.53" y="216.53" width="12.63" height="13.83" fill="#277e8e"/>
<rect x="602.75" y="216.53" width="12.63" height="13.83" fill="#1f9a8a"/>
<rect x="614.98" y="216.53" width="12.63" height="13.83" fill="#4ec36b"/>
<rect x="627.21" y="216.53" width="12.63" height="13.83" fill="#c8e020"/>
<rect x="639.44" y="216.53" width="12.63" height="13.83" fill="#efe51c"/>
<rect x="651.66" y="216.53" width="12.63" height="13.83" fill="#b0dd2f"/>
<rect x="663.89" y="216.53" width="12.63" height="13.83" fill="#29af7f"/>
<rect x="676.12" y="216.53" width="12.63" height="13.83" fill="#26828e"/>
<rect x="688.35" y="216.53" width="12.63" height="13.83" fill="#2f6c8e"/>
<rect x="700.57" y="216.53" width="12.63" height="13.83" fill="#3e4c8a"/>
<rect x="578.30" y="229.96" width="12.63" height="13.83" fill="#40bd72"/>
<rect x="590.53" y="229.96" width="12.63" height="13.83" fill="#6ece58"/>
<rect x="602.75" y="229.96" width="12.63" height="13.83" fill="#a8db34"/>
<rect x="614.98" y="229.96" width="12.63" height="13.83" fill="#cde11d"/>
<rect x="627.21" y="229.96" width="12.63" height="13.83" fill="#d8e219"/>
<rect x="639.44" y="229.96" width="12.63" height="13.83" fill="#efe51c"/>
<rect x="651.66" y="229.96" width="12.63" height="13.83" fill="#cde11d"/>
<rect x="663.89" y="229.96" width="12.63" height="13.83" fill="#7cd250"/>
<rect x="676.12" y="229.96" width="12.63" height="13.83" fill="#40bd72"/>
<rect x="688.35" y="229.96" width="12.63" height="13.83" fill="#2eb37c"/>
<rect x="700.57" y="229.96" width="12.63" height="13.83" fill="#26828e"/>
<rect x="578.30" y="243.39" width="12.63" height="13.83" fill="#b8de29"/>
<rect x="590.53" y="243.39" width="12.63" height="13.83" fill="#cde11d"/>
<rect x="602.75" y="243.39" width="12.63" height="13.83" fill="#cde11d"/>
<rect x="614.98" y="243.39" width="12.63" height="13.83" fill="#cde11d"/>
<rect x="627.21" y="243.39" width="12.63" height="13.83" fill="#d2e21b"/>
<rect x="639.44" y="243.39" width="12.63" height="13.83" fill="#efe51c"/>
<rect x="651.66" y="243.39" width="12.63" height="13.83" fill="#cde11d"/>
<rect x="663.89" y="243.39" width="12.63" height="13.83" fill="#98d83e"/>
<rect x="676.12" y="243.39" width="12.63" height="13.83" fill="#67cc5c"/>
<rect x="688.35" y="243.39" width="12.63" height="13.83" fill="#40bd72"/>
<rect x="700.57" y="243.39" width="12.63" height="13.83" fill="#29af7f"/>
<rect x="578.30" y="256.82" width="12.63" height="13.83" fill="#d8e219"/>
<rect x="590.53" y="256.82" width="12.63" height="13.83" fill="#cde11d"/>
<rect x="602.75" y="256.82" width="12.63" height="13.83" fill="#c8e020"/>
<rect x="614.98" y="256.82" width="12.63" height="13.83" fill="#c8e020"/>
<rect x="627.21" y="256.82" width="12.63" height="13.83" fill="#d8e219"/>
<rect x="639.44" y="256.82" width="12.63" height="13.83" fill="#e7e419"/>
<rect x="651.66" y="256.82" width="12.63" height="13.83" fill="#d8e219"/>
<rect x="663.89" y="256.82" width="12.63" height="13.83" fill="#a8db34"/>
<rect x="676.12" y="256.82" width="12.63" height="13.83" fill="#7cd250"/>
<rect x="688.35" y="256.82" width="12.63" height="13.83" fill="#60ca60"/>
<rect x="700.57" y="256.82" width="12.63" height="13.83" fill="#32b67a"/>
<rect x="578.30" y="270.25" width="12.63" height="13.83" fill="#84d44b"/>
<rect x="590.53" y="270.25" width="12.63" height="13.83" fill="#c2df23"/>
<rect x="602.75" y="270.25" width="12.63" height="13.83" fill="#c2df23"/>
<rect x="614.98" y="270.25" width="12.63" height="13.83" fill="#c8e020"/>
<rect x="627.21" y="270.25" width="12.63" height="13.83" fill="#d2e21b"/>
<rect x="639.44" y="270.25" width="12.63" height="13.83" fill="#e7e419"/>
<rect x="651.66" y="270.25" width="12.63" height="13.83" fill="#d8e219"/>
<rect x="663.89" y="270.25" width="12.63" height="13.83" fill="#bddf26"/>
<rect x="676.12" y="270.25" width="12.63" height="13.83" fill="#98d83e"/>
<rect x="688.35" y="270.25" width="12.63" height="13.83" fill="#89d548"/>
<rect x="700.57" y="270.25" width="12.63" height="13.83" fill="#67cc5c"/>
<rect x="578.30" y="283.68" width="12.63" height="13.83" fill="#c2df23"/>
<rect x="590.53" y="283.68" width="12.63" height="13.83" fill="#a8db34"/>
<rect x="602.75" y="283.68" width="12.63" height="13.83" fill="#b0dd2f"/>
<rect x="614.98" y="283.68" width="12.63" height="13.83" fill="#c8e020"/>
<rect x="627.21" y="283.68" width="12.63" height="13.83" fill="#d2e21b"/>
<rect x="639.44" y="283.68" width="12.63" height="13.83" fill="#e7e419"/>
<rect x="651.66" y="283.68" width="12.63" height="13.83" fill="#d8e219"/>
<rect x="663.89" y="283.68" width="12.63" height="13.83" fill="#c2df23"/>
<rect x="676.12" y="283.68" width="12.63" height="13.83" fill="#a8db34"/>
<rect x="688.35" y="283.68" width="12.63" height="13.83" fill="#90d743"/>
<rect x="700.57" y="283.68" width="12.63" height="13.83" fill="#75d054"/>
<rect x="578.30" y="297.11" width="12.63" height="13.83" fill="#bddf26"/>
<rect x="590.53" y="297.11" width="12.63" height="13.83" fill="#bddf26"/>
<rect x="602.75" y="297.11" width="12.63" height="13.83" fill="#c2df23"/>
<rect x="614.98" y="297.11" width="12.63" height="13.83" fill="#c8e020"/>
<rect x="627.21" y="297.11" width="12.63" height="13.83" fill="#d8e219"/>
<rect x="639.44" y="297.11" width="12.63" height="13.83" fill="#efe51c"/>
<rect x="651.66" y="297.11" width="12.63" height="13.83" fill="#dfe318"/>
<rect x="663.89" y="297.11" width="12.63" height="13.83" fill="#c8e020"/>
<rect x="676.12" y="297.11" width="12.63" height="13.83" fill="#b8de29"/>
<rect x="688.35" y="297.11" width="12.63" height="13.83" fill="#a8db34"/>
<rect x="700.57" y="297.11" width="12.63" height="13.83" fill="#89d548"/>
<rect x="578.30" y="310.54" width="12.63" height="13.83" fill="#bddf26"/>
<rect x="590.53" y="310.54" width="12.63" height="13.83" fill="#c2df23"/>
<rect x="602.75" y="310.54" width="12.63" height="13.83" fill="#c2df23"/>
<rect x="614.98" y="310.54" width="12.63" height="13.83" fill="#cde11d"/>
<rect x="627.21" y="310.54" width="12.63" height="13.83" fill="#d8e219"/>
<rect x="639.44" y="310.54" width="12.63" height="13.83" fill="#e7e419"/>
<rect x="651.66" y="310.54" width="12.63" height="13.83" fill="#dfe318"/>
<rect x="663.89" y="310.54" width="12.63" height="13.83" fill="#cde11d"/>
<rect x="676.12" y="310.54" width="12.63" height="13.83" fill="#bddf26"/>
<rect x="688.35" y="310.54" width="12.63" height="13.83" fill="#b0dd2f"/>
<rect x="700.57" y="310.54" width="12.63" height="13.83" fill="#a0da39"/>
<rect x="578.30" y="323.97" width="12.63" height="13.83" fill="#bddf26"/>
<rect x="590.53" y="323.97" width="12.63" height="13.83" fill="#c2df23"/>
<rect x="602.75" y="323.97" width="12.63" height="13.83" fill="#c8e020"/>
<rect x="614.98" y="323.97" width="12.63" height="13.83" fill="#cde11d"/>
<rect x="627.21" y="323.97" width="12.63" height="13.83" fill="#d8e219"/>
<rect x="639.44" y="323.97" width="12.63" height="13.83" fill="#e7e419"/>
<rect x="651.66" y="323.97" width="12.63" height="13.83" fill="#dfe318"/>
<rect x="663.89" y="323.97" width="12.63" height="13.83" fill="#cde11d"/>
<rect x="676.12" y="323.97" width="12.63" height="13.83" fill="#c2df23"/>
<rect x="688.35" y="323.97" width="12.63" height="13.83" fill="#b8de29"/>
<rect x="700.57" y="323.97" width="12.63" height="13.83" fill="#a8db34"/>
</g>
<rect x="578.30" y="203.10" width="134.5" height="134.3" fill="none" stroke="#333" stroke-opacity="0.7" stroke-width="0.8"/>
<line x1="576.10" y1="209.51" x2="578.30" y2="209.51" stroke="#444" stroke-width="0.8"/>
<line x1="583.70" y1="337.40" x2="583.70" y2="339.60" stroke="#444" stroke-width="0.8"/>
<line x1="576.10" y1="269.95" x2="578.30" y2="269.95" stroke="#444" stroke-width="0.8"/>
<line x1="645.25" y1="337.40" x2="645.25" y2="339.60" stroke="#444" stroke-width="0.8"/>
<line x1="576.10" y1="330.38" x2="578.30" y2="330.38" stroke="#444" stroke-width="0.8"/>
<line x1="706.80" y1="337.40" x2="706.80" y2="339.60" stroke="#444" stroke-width="0.8"/>
<text transform="translate(608.70,198.59) scale(0.8831,1)" style="font-family:'Liberation Sans',sans-serif;font-size:21.23px;fill:#000;stroke:#fff;stroke-width:0.200px">Redfield</text>
<text transform="translate(573.55,351.55) scale(0.8995,1)" style="font-family:'Liberation Sans',sans-serif;font-size:15.29px;fill:#000;stroke:#fff;stroke-width:0.080px">-55</text>
<text transform="translate(641.26,351.17) scale(1.0338,1)" style="font-family:'Liberation Sans',sans-serif;font-size:13.10px;fill:#000;stroke:#fff;stroke-width:0.080px">0</text>
<text transform="translate(699.06,351.45) scale(0.8747,1)" style="font-family:'Liberation Sans',sans-serif;font-size:15.43px;fill:#000;stroke:#fff;stroke-width:0.080px">55</text>
<text transform="translate(607.62,373.52) scale(1.0725,1)" style="font-family:'Liberation Serif',serif;font-style:italic;font-size:22.50px;fill:#000;stroke:#fff;stroke-width:0.200px">J</text>
<text transform="translate(626.32,373.23) scale(0.8827,1)" style="font-family:'Liberation Serif',serif;font-size:22.22px;fill:#000;stroke:#fff;stroke-width:0.200px">(</text>
<text transform="translate(632.91,372.52) scale(0.9727,1)" style="font-family:'Liberation Sans',sans-serif;font-size:17.64px;fill:#000;stroke:#fff;stroke-width:0.200px">cm</text>
<text transform="translate(656.52,365.30) scale(1.1585,1)" style="font-family:'Liberation Serif',serif;font-size:13.54px;fill:#333;stroke:#fff;stroke-width:0.080px">&#8722;1</text>
<text transform="translate(674.36,373.23) scale(0.8135,1)" style="font-family:'Liberation Serif',serif;font-size:22.22px;fill:#000;stroke:#fff;stroke-width:0.200px">)</text>
<rect x="719.30" y="203.10" width="11.6" height="134.3" fill="url(#vir)" stroke="#333" stroke-opacity="0.7" stroke-width="0.8"/>
<line x1="730.90" y1="203.10" x2="733.10" y2="203.10" stroke="#444" stroke-width="0.8"/>
<line x1="730.90" y1="270.25" x2="733.10" y2="270.25" stroke="#444" stroke-width="0.8"/>
<line x1="730.90" y1="337.40" x2="733.10" y2="337.40" stroke="#444" stroke-width="0.8"/>
<text transform="translate(732.34,208.54) scale(0.9989,1)" style="font-family:'Liberation Serif',serif;font-size:16.27px;fill:#000;stroke:#fff;stroke-width:0.080px">1.0</text>
<text transform="translate(732.63,275.69) scale(1.0350,1)" style="font-family:'Liberation Serif',serif;font-size:16.27px;fill:#000;stroke:#fff;stroke-width:0.080px">0.8</text>
<text transform="translate(732.63,342.84) scale(1.0262,1)" style="font-family:'Liberation Serif',serif;font-size:16.27px;fill:#000;stroke:#fff;stroke-width:0.080px">0.6</text>
<text transform="translate(415.82,31.10) scale(1.0541,1)" style="font-family:'Liberation Sans',sans-serif;font-size:29.73px;fill:#000">b</text>
<g shape-rendering="crispEdges">
<rect x="55.00" y="424.00" width="12.63" height="13.76" fill="#b0dd2f"/>
<rect x="67.23" y="424.00" width="12.63" height="13.76" fill="#b0dd2f"/>
<rect x="79.45" y="424.00" width="12.63" height="13.76" fill="#a8db34"/>
<rect x="91.68" y="424.00" width="12.63" height="13.76" fill="#b0dd2f"/>
<rect x="103.91" y="424.00" width="12.63" height="13.76" fill="#b0dd2f"/>
<rect x="128.36" y="424.00" width="12.63" height="13.76" fill="#a8db34"/>
<rect x="140.59" y="424.00" width="12.63" height="13.76" fill="#b0dd2f"/>
<rect x="152.82" y="424.00" width="12.63" height="13.76" fill="#a8db34"/>
<rect x="165.05" y="424.00" width="12.63" height="13.76" fill="#b0dd2f"/>
<rect x="177.27" y="424.00" width="12.63" height="13.76" fill="#b0dd2f"/>
<rect x="55.00" y="437.36" width="12.63" height="13.76" fill="#b0dd2f"/>
<rect x="67.23" y="437.36" width="12.63" height="13.76" fill="#b0dd2f"/>
<rect x="79.45" y="437.36" width="12.63" height="13.76" fill="#b0dd2f"/>
<rect x="91.68" y="437.36" width="12.63" height="13.76" fill="#a8db34"/>
<rect x="103.91" y="437.36" width="12.63" height="13.76" fill="#b0dd2f"/>
<rect x="128.36" y="437.36" width="12.63" height="13.76" fill="#a0da39"/>
<rect x="140.59" y="437.36" width="12.63" height="13.76" fill="#a8db34"/>
<rect x="152.82" y="437.36" width="12.63" height="13.76" fill="#b0dd2f"/>
<rect x="165.05" y="437.36" width="12.63" height="13.76" fill="#b0dd2f"/>
<rect x="177.27" y="437.36" width="12.63" height="13.76" fill="#b0dd2f"/>
<rect x="55.00" y="450.72" width="12.63" height="13.76" fill="#bddf26"/>
<rect x="67.23" y="450.72" width="12.63" height="13.76" fill="#b5de2b"/>
<rect x="79.45" y="450.72" width="12.63" height="13.76" fill="#b5de2b"/>
<rect x="91.68" y="450.72" width="12.63" height="13.76" fill="#b5de2b"/>
<rect x="103.91" y="450.72" width="12.63" height="13.76" fill="#b0dd2f"/>
<rect x="128.36" y="450.72" width="12.63" height="13.76" fill="#b0dd2f"/>
<rect x="140.59" y="450.72" width="12.63" height="13.76" fill="#b0dd2f"/>
<rect x="152.82" y="450.72" width="12.63" height="13.76" fill="#b5de2b"/>
<rect x="165.05" y="450.72" width="12.63" height="13.76" fill="#b5de2b"/>
<rect x="177.27" y="450.72" width="12.63" height="13.76" fill="#bddf26"/>
<rect x="55.00" y="464.08" width="12.63" height="13.76" fill="#bddf26"/>
<rect x="67.23" y="464.08" width="12.63" height="13.76" fill="#b5de2b"/>
<rect x="79.45" y="464.08" width="12.63" height="13.76" fill="#b5de2b"/>
<rect x="91.68" y="464.08" width="12.63" height="13.76" fill="#b5de2b"/>
<rect x="103.91" y="464.08" width="12.63" height="13.76" fill="#b5de2b"/>
<rect x="128.36" y="464.08" width="12.63" height="13.76" fill="#b5de2b"/>
<rect x="140.59" y="464.08" width="12.63" height="13.76" fill="#b5de2b"/>
<rect x="152.82" y="464.08" width="12.63" height="13.76" fill="#b0dd2f"/>
<rect x="165.05" y="464.08" width="12.63" height="13.76" fill="#b5de2b"/>
<rect x="177.27" y="464.08" width="12.63" height="13.76" fill="#bddf26"/>
<rect x="55.00" y="477.44" width="12.63" height="13.76" fill="#bddf26"/>
<rect x="67.23" y="477.44" width="12.63" height="13.76" fill="#bddf26"/>
<rect x="79.45" y="477.44" width="12.63" height="13.76" fill="#bddf26"/>
<rect x="91.68" y="477.44" width="12.63" height="13.76" fill="#bddf26"/>
<rect x="103.91" y="477.44" width="12.63" height="13.76" fill="#b5de2b"/>
<rect x="128.36" y="477.44" width="12.63" height="13.76" fill="#b5de2b"/>
<rect x="140.59" y="477.44" width="12.63" height="13.76" fill="#bddf26"/>
<rect x="152.82" y="477.44" width="12.63" height="13.76" fill="#bddf26"/>
<rect x="165.05" y="477.44" width="12.63" height="13.76" fill="#bddf26"/>
<rect x="177.27" y="477.44" width="12.63" height="13.76" fill="#bddf26"/>
<rect x="55.00" y="490.80" width="12.63" height="13.76" fill="#b5de2b"/>
<rect x="67.23" y="490.80" width="12.63" height="13.76" fill="#c5e021"/>
<rect x="79.45" y="490.80" width="12.63" height="13.76" fill="#c5e021"/>
<rect x="91.68" y="490.80" width="12.63" height="13.76" fill="#c5e021"/>
<rect x="103.91" y="490.80" width="12.63" height="13.76" fill="#bddf26"/>
<rect x="128.36" y="490.80" width="12.63" height="13.76" fill="#bddf26"/>
<rect x="140.59" y="490.80" width="12.63" height="13.76" fill="#b0dd2f"/>
<rect x="152.82" y="490.80" width="12.63" height="13.76" fill="#bddf26"/>
<rect x="165.05" y="490.80" width="12.63" height="13.76" fill="#c5e021"/>
<rect x="177.27" y="490.80" width="12.63" height="13.76" fill="#c5e021"/>
<rect x="55.00" y="504.16" width="12.63" height="13.76" fill="#bddf26"/>
<rect x="67.23" y="504.16" width="12.63" height="13.76" fill="#c5e021"/>
<rect x="79.45" y="504.16" width="12.63" height="13.76" fill="#bddf26"/>
<rect x="91.68" y="504.16" width="12.63" height="13.76" fill="#c5e021"/>
<rect x="103.91" y="504.16" width="12.63" height="13.76" fill="#c5e021"/>
<rect x="128.36" y="504.16" width="12.63" height="13.76" fill="#bddf26"/>
<rect x="140.59" y="504.16" width="12.63" height="13.76" fill="#c5e021"/>
<rect x="152.82" y="504.16" width="12.63" height="13.76" fill="#cae11f"/>
<rect x="165.05" y="504.16" width="12.63" height="13.76" fill="#c5e021"/>
<rect x="177.27" y="504.16" width="12.63" height="13.76" fill="#c5e021"/>
<rect x="55.00" y="517.52" width="12.63" height="13.76" fill="#c5e021"/>
<rect x="67.23" y="517.52" width="12.63" height="13.76" fill="#c5e021"/>
<rect x="79.45" y="517.52" width="12.63" height="13.76" fill="#c5e021"/>
<rect x="91.68" y="517.52" width="12.63" height="13.76" fill="#c5e021"/>
<rect x="103.91" y="517.52" width="12.63" height="13.76" fill="#c5e021"/>
<rect x="128.36" y="517.52" width="12.63" height="13.76" fill="#c5e021"/>
<rect x="140.59" y="517.52" width="12.63" height="13.76" fill="#c5e021"/>
<rect x="152.82" y="517.52" width="12.63" height="13.76" fill="#c5e021"/>
<rect x="165.05" y="517.52" width="12.63" height="13.76" fill="#c5e021"/>
<rect x="177.27" y="517.52" width="12.63" height="13.76" fill="#c5e021"/>
<rect x="55.00" y="530.88" width="12.63" height="13.76" fill="#c5e021"/>
<rect x="67.23" y="530.88" width="12.63" height="13.76" fill="#cae11f"/>
<rect x="79.45" y="530.88" width="12.63" height="13.76" fill="#c5e021"/>
<rect x="91.68" y="530.88" width="12.63" height="13.76" fill="#cae11f"/>
<rect x="103.91" y="530.88" width="12.63" height="13.76" fill="#c5e021"/>
<rect x="128.36" y="530.88" width="12.63" height="13.76" fill="#c5e021"/>
<rect x="140.59" y="530.88" width="12.63" height="13.76" fill="#cae11f"/>
<rect x="152.82" y="530.88" width="12.63" height="13.76" fill="#cae11f"/>
<rect x="165.05" y="530.88" width="12.63" height="13.76" fill="#cae11f"/>
<rect x="177.27" y="530.88" width="12.63" height="13.76" fill="#cae11f"/>
<rect x="55.00" y="544.24" width="12.63" height="13.76" fill="#cae11f"/>
<rect x="67.23" y="544.24" width="12.63" height="13.76" fill="#cae11f"/>
<rect x="79.45" y="544.24" width="12.63" height="13.76" fill="#c5e021"/>
<rect x="91.68" y="544.24" width="12.63" height="13.76" fill="#cae11f"/>
<rect x="103.91" y="544.24" width="12.63" height="13.76" fill="#cae11f"/>
<rect x="128.36" y="544.24" width="12.63" height="13.76" fill="#cae11f"/>
<rect x="140.59" y="544.24" width="12.63" height="13.76" fill="#cae11f"/>
<rect x="152.82" y="544.24" width="12.63" height="13.76" fill="#cae11f"/>
<rect x="165.05" y="544.24" width="12.63" height="13.76" fill="#cae11f"/>
<rect x="177.27" y="544.24" width="12.63" height="13.76" fill="#cae11f"/>
</g>
<rect x="116.14" y="424.00" width="12.23" height="133.60" fill="#fff"/>
<rect x="55.00" y="424.00" width="134.5" height="133.6" fill="none" stroke="#333" stroke-opacity="0.7" stroke-width="0.8"/>
<line x1="52.80" y1="430.38" x2="55.00" y2="430.38" stroke="#444" stroke-width="0.8"/>
<line x1="60.40" y1="557.60" x2="60.40" y2="559.80" stroke="#444" stroke-width="0.8"/>
<line x1="52.80" y1="490.50" x2="55.00" y2="490.50" stroke="#444" stroke-width="0.8"/>
<line x1="121.95" y1="557.60" x2="121.95" y2="559.80" stroke="#444" stroke-width="0.8"/>
<line x1="52.80" y1="550.62" x2="55.00" y2="550.62" stroke="#444" stroke-width="0.8"/>
<line x1="183.50" y1="557.60" x2="183.50" y2="559.80" stroke="#444" stroke-width="0.8"/>
<text transform="translate(102.25,419.39) scale(0.8493,1)" style="font-family:'Liberation Sans',sans-serif;font-size:21.41px;fill:#000;stroke:#fff;stroke-width:0.200px">FCE</text>
<text transform="translate(43.48,435.85) scale(0.8709,1)" style="font-family:'Liberation Sans',sans-serif;font-size:15.07px;fill:#000;stroke:#fff;stroke-width:0.080px">0</text>
<text transform="translate(28.24,496.65) scale(0.8860,1)" style="font-family:'Liberation Sans',sans-serif;font-size:14.93px;fill:#000;stroke:#fff;stroke-width:0.080px">250</text>
<text transform="translate(28.36,556.65) scale(0.8931,1)" style="font-family:'Liberation Sans',sans-serif;font-size:15.21px;fill:#000;stroke:#fff;stroke-width:0.080px">500</text>
<text transform="rotate(-90) translate(-526.76,22.40) scale(0.9447,1)" style="font-family:'Liberation Serif',serif;font-style:italic;font-size:19.58px;fill:#000;stroke:#fff;stroke-width:0.200px">&#1013;</text>
<text transform="rotate(-90) translate(-511.66,22.75) scale(0.7156,1)" style="font-family:'Liberation Serif',serif;font-size:23.11px;fill:#000;stroke:#fff;stroke-width:0.200px">(</text>
<text transform="rotate(-90) translate(-505.80,22.43) scale(1.0275,1)" style="font-family:'Liberation Sans',sans-serif;font-size:17.09px;fill:#000;stroke:#fff;stroke-width:0.200px">cm</text>
<text transform="rotate(-90) translate(-481.37,14.70) scale(1.1892,1)" style="font-family:'Liberation Serif',serif;font-size:12.92px;fill:#333;stroke:#fff;stroke-width:0.080px">&#8722;1</text>
<text transform="rotate(-90) translate(-463.98,22.75) scale(0.6990,1)" style="font-family:'Liberation Serif',serif;font-size:23.11px;fill:#000;stroke:#fff;stroke-width:0.200px">)</text>
<g shape-rendering="crispEdges">
<rect x="200.30" y="424.00" width="12.63" height="13.76" fill="#93d741"/>
<rect x="212.53" y="424.00" width="12.63" height="13.76" fill="#93d741"/>
<rect x="224.75" y="424.00" width="12.63" height="13.76" fill="#93d741"/>
<rect x="236.98" y="424.00" width="12.63" height="13.76" fill="#93d741"/>
<rect x="249.21" y="424.00" width="12.63" height="13.76" fill="#93d741"/>
<rect x="273.66" y="424.00" width="12.63" height="13.76" fill="#93d741"/>
<rect x="285.89" y="424.00" width="12.63" height="13.76" fill="#93d741"/>
<rect x="298.12" y="424.00" width="12.63" height="13.76" fill="#93d741"/>
<rect x="310.35" y="424.00" width="12.63" height="13.76" fill="#9bd93c"/>
<rect x="322.57" y="424.00" width="12.63" height="13.76" fill="#9bd93c"/>
<rect x="200.30" y="437.36" width="12.63" height="13.76" fill="#58c765"/>
<rect x="212.53" y="437.36" width="12.63" height="13.76" fill="#46c06f"/>
<rect x="224.75" y="437.36" width="12.63" height="13.76" fill="#2db27d"/>
<rect x="236.98" y="437.36" width="12.63" height="13.76" fill="#1f9e89"/>
<rect x="249.21" y="437.36" width="12.63" height="13.76" fill="#25858e"/>
<rect x="273.66" y="437.36" width="12.63" height="13.76" fill="#25858e"/>
<rect x="285.89" y="437.36" width="12.63" height="13.76" fill="#1fa188"/>
<rect x="298.12" y="437.36" width="12.63" height="13.76" fill="#31b57b"/>
<rect x="310.35" y="437.36" width="12.63" height="13.76" fill="#4cc26c"/>
<rect x="322.57" y="437.36" width="12.63" height="13.76" fill="#5ec962"/>
<rect x="200.30" y="450.72" width="12.63" height="13.76" fill="#23a983"/>
<rect x="212.53" y="450.72" width="12.63" height="13.76" fill="#1fa188"/>
<rect x="224.75" y="450.72" width="12.63" height="13.76" fill="#1f978b"/>
<rect x="236.98" y="450.72" width="12.63" height="13.76" fill="#228b8d"/>
<rect x="249.21" y="450.72" width="12.63" height="13.76" fill="#27808e"/>
<rect x="273.66" y="450.72" width="12.63" height="13.76" fill="#27808e"/>
<rect x="285.89" y="450.72" width="12.63" height="13.76" fill="#228b8d"/>
<rect x="298.12" y="450.72" width="12.63" height="13.76" fill="#1f978b"/>
<rect x="310.35" y="450.72" width="12.63" height="13.76" fill="#1fa188"/>
<rect x="322.57" y="450.72" width="12.63" height="13.76" fill="#26ad81"/>
<rect x="200.30" y="464.08" width="12.63" height="13.76" fill="#1f9a8a"/>
<rect x="212.53" y="464.08" width="12.63" height="13.76" fill="#1f948c"/>
<rect x="224.75" y="464.08" width="12.63" height="13.76" fill="#218f8d"/>
<rect x="236.98" y="464.08" width="12.63" height="13.76" fill="#23888e"/>
<rect x="249.21" y="464.08" width="12.63" height="13.76" fill="#27808e"/>
<rect x="273.66" y="464.08" width="12.63" height="13.76" fill="#27808e"/>
<rect x="285.89" y="464.08" width="12.63" height="13.76" fill="#23888e"/>
<rect x="298.12" y="464.08" width="12.63" height="13.76" fill="#218f8d"/>
<rect x="310.35" y="464.08" width="12.63" height="13.76" fill="#1f948c"/>
<rect x="322.57" y="464.08" width="12.63" height="13.76" fill="#1f9a8a"/>
<rect x="200.30" y="477.44" width="12.63" height="13.76" fill="#1f948c"/>
<rect x="212.53" y="477.44" width="12.63" height="13.76" fill="#20928c"/>
<rect x="224.75" y="477.44" width="12.63" height="13.76" fill="#228b8d"/>
<rect x="236.98" y="477.44" width="12.63" height="13.76" fill="#23888e"/>
<rect x="249.21" y="477.44" width="12.63" height="13.76" fill="#26828e"/>
<rect x="273.66" y="477.44" width="12.63" height="13.76" fill="#26828e"/>
<rect x="285.89" y="477.44" width="12.63" height="13.76" fill="#23888e"/>
<rect x="298.12" y="477.44" width="12.63" height="13.76" fill="#218f8d"/>
<rect x="310.35" y="477.44" width="12.63" height="13.76" fill="#20928c"/>
<rect x="322.57" y="477.44" width="12.63" height="13.76" fill="#1f978b"/>
<rect x="200.30" y="490.80" width="12.63" height="13.76" fill="#1f948c"/>
<rect x="212.53" y="490.80" width="12.63" height="13.76" fill="#20928c"/>
<rect x="224.75" y="490.80" width="12.63" height="13.76" fill="#218f8d"/>
<rect x="236.98" y="490.80" width="12.63" height="13.76" fill="#228b8d"/>
<rect x="249.21" y="490.80" width="12.63" height="13.76" fill="#25858e"/>
<rect x="273.66" y="490.80" width="12.63" height="13.76" fill="#25858e"/>
<rect x="285.89" y="490.80" width="12.63" height="13.76" fill="#228b8d"/>
<rect x="298.12" y="490.80" width="12.63" height="13.76" fill="#20928c"/>
<rect x="310.35" y="490.80" width="12.63" height="13.76" fill="#1f948c"/>
<rect x="322.57" y="490.80" width="12.63" height="13.76" fill="#1f978b"/>
<rect x="200.30" y="504.16" width="12.63" height="13.76" fill="#1f978b"/>
<rect x="212.53" y="504.16" width="12.63" height="13.76" fill="#1f948c"/>
<rect x="224.75" y="504.16" width="12.63" height="13.76" fill="#20928c"/>
<rect x="236.98" y="504.16" width="12.63" height="13.76" fill="#218f8d"/>
<rect x="249.21" y="504.16" width="12.63" height="13.76" fill="#228b8d"/>
<rect x="273.66" y="504.16" width="12.63" height="13.76" fill="#228b8d"/>
<rect x="285.89" y="504.16" width="12.63" height="13.76" fill="#218f8d"/>
<rect x="298.12" y="504.16" width="12.63" height="13.76" fill="#1f948c"/>
<rect x="310.35" y="504.16" width="12.63" height="13.76" fill="#1f978b"/>
<rect x="322.57" y="504.16" width="12.63" height="13.76" fill="#1f9a8a"/>
<rect x="200.30" y="517.52" width="12.63" height="13.76" fill="#1f9a8a"/>
<rect x="212.53" y="517.52" width="12.63" height="13.76" fill="#1f978b"/>
<rect x="224.75" y="517.52" width="12.63" height="13.76" fill="#1f948c"/>
<rect x="236.98" y="517.52" width="12.63" height="13.76" fill="#20928c"/>
<rect x="249.21" y="517.52" width="12.63" height="13.76" fill="#218f8d"/>
<rect x="273.66" y="517.52" width="12.63" height="13.76" fill="#218f8d"/>
<rect x="285.89" y="517.52" width="12.63" height="13.76" fill="#20928c"/>
<rect x="298.12" y="517.52" width="12.63" height="13.76" fill="#1f978b"/>
<rect x="310.35" y="517.52" width="12.63" height="13.76" fill="#1f9a8a"/>
<rect x="322.57" y="517.52" width="12.63" height="13.76" fill="#1f9e89"/>
<rect x="200.30" y="530.88" width="12.63" height="13.76" fill="#1f9e89"/>
<rect x="212.53" y="530.88" width="12.63" height="13.76" fill="#1f9a8a"/>
<rect x="224.75" y="530.88" width="12.63" height="13.76" fill="#1f978b"/>
<rect x="236.98" y="530.88" width="12.63" height="13.76" fill="#1f948c"/>
<rect x="249.21" y="530.88" width="12.63" height="13.76" fill="#20928c"/>
<rect x="273.66" y="530.88" width="12.63" height="13.76" fill="#20928c"/>
<rect x="285.89" y="530.88" width="12.63" height="13.76" fill="#1f948c"/>
<rect x="298.12" y="530.88" width="12.63" height="13.76" fill="#1f9a8a"/>
<rect x="310.35" y="530.88" width="12.63" height="13.76" fill="#1f9e89"/>
<rect x="322.57" y="530.88" width="12.63" height="13.76" fill="#1fa188"/>
<rect x="200.30" y="544.24" width="12.63" height="13.76" fill="#1fa188"/>
<rect x="212.53" y="544.24" width="12.63" height="13.76" fill="#1f9e89"/>
<rect x="224.75" y="544.24" width="12.63" height="13.76" fill="#1f9a8a"/>
<rect x="236.98" y="544.24" width="12.63" height="13.76" fill="#1f978b"/>
<rect x="249.21" y="544.24" width="12.63" height="13.76" fill="#1f948c"/>
<rect x="273.66" y="544.24" width="12.63" height="13.76" fill="#1f948c"/>
<rect x="285.89" y="544.24" width="12.63" height="13.76" fill="#1f978b"/>
<rect x="298.12" y="544.24" width="12.63" height="13.76" fill="#1f9a8a"/>
<rect x="310.35" y="544.24" width="12.63" height="13.76" fill="#1fa188"/>
<rect x="322.57" y="544.24" width="12.63" height="13.76" fill="#20a386"/>
</g>
<rect x="261.44" y="424.00" width="12.23" height="133.60" fill="#fff"/>
<rect x="200.30" y="424.00" width="134.5" height="133.6" fill="none" stroke="#333" stroke-opacity="0.7" stroke-width="0.8"/>
<line x1="198.10" y1="430.38" x2="200.30" y2="430.38" stroke="#444" stroke-width="0.8"/>
<line x1="205.70" y1="557.60" x2="205.70" y2="559.80" stroke="#444" stroke-width="0.8"/>
<line x1="198.10" y1="490.50" x2="200.30" y2="490.50" stroke="#444" stroke-width="0.8"/>
<line x1="267.25" y1="557.60" x2="267.25" y2="559.80" stroke="#444" stroke-width="0.8"/>
<line x1="198.10" y1="550.62" x2="200.30" y2="550.62" stroke="#444" stroke-width="0.8"/>
<line x1="328.80" y1="557.60" x2="328.80" y2="559.80" stroke="#444" stroke-width="0.8"/>
<text transform="translate(251.09,419.38) scale(0.9374,1)" style="font-family:'Liberation Sans',sans-serif;font-size:21.71px;fill:#000;stroke:#fff;stroke-width:0.200px">ctR</text>
<g shape-rendering="crispEdges">
<rect x="55.00" y="581.10" width="12.63" height="13.76" fill="#6ccd5a"/>
<rect x="67.23" y="581.10" width="12.63" height="13.76" fill="#6ccd5a"/>
<rect x="79.45" y="581.10" width="12.63" height="13.76" fill="#6ccd5a"/>
<rect x="91.68" y="581.10" width="12.63" height="13.76" fill="#6ccd5a"/>
<rect x="103.91" y="581.10" width="12.63" height="13.76" fill="#6ccd5a"/>
<rect x="128.36" y="581.10" width="12.63" height="13.76" fill="#6ccd5a"/>
<rect x="140.59" y="581.10" width="12.63" height="13.76" fill="#6ccd5a"/>
<rect x="152.82" y="581.10" width="12.63" height="13.76" fill="#6ccd5a"/>
<rect x="165.05" y="581.10" width="12.63" height="13.76" fill="#6ccd5a"/>
<rect x="177.27" y="581.10" width="12.63" height="13.76" fill="#6ccd5a"/>
<rect x="55.00" y="594.46" width="12.63" height="13.76" fill="#7ad151"/>
<rect x="67.23" y="594.46" width="12.63" height="13.76" fill="#84d44b"/>
<rect x="79.45" y="594.46" width="12.63" height="13.76" fill="#52c569"/>
<rect x="91.68" y="594.46" width="12.63" height="13.76" fill="#23a983"/>
<rect x="103.91" y="594.46" width="12.63" height="13.76" fill="#228b8d"/>
<rect x="128.36" y="594.46" width="12.63" height="13.76" fill="#228b8d"/>
<rect x="140.59" y="594.46" width="12.63" height="13.76" fill="#26ad81"/>
<rect x="152.82" y="594.46" width="12.63" height="13.76" fill="#52c569"/>
<rect x="165.05" y="594.46" width="12.63" height="13.76" fill="#84d44b"/>
<rect x="177.27" y="594.46" width="12.63" height="13.76" fill="#7ad151"/>
<rect x="55.00" y="607.82" width="12.63" height="13.76" fill="#40bd72"/>
<rect x="67.23" y="607.82" width="12.63" height="13.76" fill="#26ad81"/>
<rect x="79.45" y="607.82" width="12.63" height="13.76" fill="#1f9a8a"/>
<rect x="91.68" y="607.82" width="12.63" height="13.76" fill="#218f8d"/>
<rect x="103.91" y="607.82" width="12.63" height="13.76" fill="#27808e"/>
<rect x="128.36" y="607.82" width="12.63" height="13.76" fill="#27808e"/>
<rect x="140.59" y="607.82" width="12.63" height="13.76" fill="#218f8d"/>
<rect x="152.82" y="607.82" width="12.63" height="13.76" fill="#1f9e89"/>
<rect x="165.05" y="607.82" width="12.63" height="13.76" fill="#29af7f"/>
<rect x="177.27" y="607.82" width="12.63" height="13.76" fill="#40bd72"/>
<rect x="55.00" y="621.18" width="12.63" height="13.76" fill="#1fa188"/>
<rect x="67.23" y="621.18" width="12.63" height="13.76" fill="#1f9a8a"/>
<rect x="79.45" y="621.18" width="12.63" height="13.76" fill="#20928c"/>
<rect x="91.68" y="621.18" width="12.63" height="13.76" fill="#23888e"/>
<rect x="103.91" y="621.18" width="12.63" height="13.76" fill="#27808e"/>
<rect x="128.36" y="621.18" width="12.63" height="13.76" fill="#27808e"/>
<rect x="140.59" y="621.18" width="12.63" height="13.76" fill="#23888e"/>
<rect x="152.82" y="621.18" width="12.63" height="13.76" fill="#20928c"/>
<rect x="165.05" y="621.18" width="12.63" height="13.76" fill="#1f9a8a"/>
<rect x="177.27" y="621.18" width="12.63" height="13.76" fill="#21a685"/>
<rect x="55.00" y="634.54" width="12.63" height="13.76" fill="#1f978b"/>
<rect x="67.23" y="634.54" width="12.63" height="13.76" fill="#20928c"/>
<rect x="79.45" y="634.54" width="12.63" height="13.76" fill="#228b8d"/>
<rect x="91.68" y="634.54" width="12.63" height="13.76" fill="#23888e"/>
<rect x="103.91" y="634.54" width="12.63" height="13.76" fill="#26828e"/>
<rect x="128.36" y="634.54" width="12.63" height="13.76" fill="#26828e"/>
<rect x="140.59" y="634.54" width="12.63" height="13.76" fill="#23888e"/>
<rect x="152.82" y="634.54" width="12.63" height="13.76" fill="#228b8d"/>
<rect x="165.05" y="634.54" width="12.63" height="13.76" fill="#20928c"/>
<rect x="177.27" y="634.54" width="12.63" height="13.76" fill="#1f978b"/>
<rect x="55.00" y="647.90" width="12.63" height="13.76" fill="#1f948c"/>
<rect x="67.23" y="647.90" width="12.63" height="13.76" fill="#20928c"/>
<rect x="79.45" y="647.90" width="12.63" height="13.76" fill="#218f8d"/>
<rect x="91.68" y="647.90" width="12.63" height="13.76" fill="#228b8d"/>
<rect x="103.91" y="647.90" width="12.63" height="13.76" fill="#25858e"/>
<rect x="128.36" y="647.90" width="12.63" height="13.76" fill="#25858e"/>
<rect x="140.59" y="647.90" width="12.63" height="13.76" fill="#228b8d"/>
<rect x="152.82" y="647.90" width="12.63" height="13.76" fill="#218f8d"/>
<rect x="165.05" y="647.90" width="12.63" height="13.76" fill="#20928c"/>
<rect x="177.27" y="647.90" width="12.63" height="13.76" fill="#1f978b"/>
<rect x="55.00" y="661.26" width="12.63" height="13.76" fill="#1f978b"/>
<rect x="67.23" y="661.26" width="12.63" height="13.76" fill="#1f948c"/>
<rect x="79.45" y="661.26" width="12.63" height="13.76" fill="#20928c"/>
<rect x="91.68" y="661.26" width="12.63" height="13.76" fill="#218f8d"/>
<rect x="103.91" y="661.26" width="12.63" height="13.76" fill="#228b8d"/>
<rect x="128.36" y="661.26" width="12.63" height="13.76" fill="#228b8d"/>
<rect x="140.59" y="661.26" width="12.63" height="13.76" fill="#218f8d"/>
<rect x="152.82" y="661.26" width="12.63" height="13.76" fill="#20928c"/>
<rect x="165.05" y="661.26" width="12.63" height="13.76" fill="#1f948c"/>
<rect x="177.27" y="661.26" width="12.63" height="13.76" fill="#1f9a8a"/>
<rect x="55.00" y="674.62" width="12.63" height="13.76" fill="#1f9a8a"/>
<rect x="67.23" y="674.62" width="12.63" height="13.76" fill="#1f978b"/>
<rect x="79.45" y="674.62" width="12.63" height="13.76" fill="#1f948c"/>
<rect x="91.68" y="674.62" width="12.63" height="13.76" fill="#20928c"/>
<rect x="103.91" y="674.62" width="12.63" height="13.76" fill="#218f8d"/>
<rect x="128.36" y="674.62" width="12.63" height="13.76" fill="#218f8d"/>
<rect x="140.59" y="674.62" width="12.63" height="13.76" fill="#20928c"/>
<rect x="152.82" y="674.62" width="12.63" height="13.76" fill="#1f948c"/>
<rect x="165.05" y="674.62" width="12.63" height="13.76" fill="#1f978b"/>
<rect x="177.27" y="674.62" width="12.63" height="13.76" fill="#1f9e89"/>
<rect x="55.00" y="687.98" width="12.63" height="13.76" fill="#1f9e89"/>
<rect x="67.23" y="687.98" width="12.63" height="13.76" fill="#1f9a8a"/>
<rect x="79.45" y="687.98" width="12.63" height="13.76" fill="#1f978b"/>
<rect x="91.68" y="687.98" width="12.63" height="13.76" fill="#1f948c"/>
<rect x="103.91" y="687.98" width="12.63" height="13.76" fill="#20928c"/>
<rect x="128.36" y="687.98" width="12.63" height="13.76" fill="#20928c"/>
<rect x="140.59" y="687.98" width="12.63" height="13.76" fill="#1f948c"/>
<rect x="152.82" y="687.98" width="12.63" height="13.76" fill="#1f978b"/>
<rect x="165.05" y="687.98" width="12.63" height="13.76" fill="#1f9a8a"/>
<rect x="177.27" y="687.98" width="12.63" height="13.76" fill="#1fa188"/>
<rect x="55.00" y="701.34" width="12.63" height="13.76" fill="#1fa188"/>
<rect x="67.23" y="701.34" width="12.63" height="13.76" fill="#1f9e89"/>
<rect x="79.45" y="701.34" width="12.63" height="13.76" fill="#1f9a8a"/>
<rect x="91.68" y="701.34" width="12.63" height="13.76" fill="#1f978b"/>
<rect x="103.91" y="701.34" width="12.63" height="13.76" fill="#1f948c"/>
<rect x="128.36" y="701.34" width="12.63" height="13.76" fill="#1f948c"/>
<rect x="140.59" y="701.34" width="12.63" height="13.76" fill="#1f978b"/>
<rect x="152.82" y="701.34" width="12.63" height="13.76" fill="#1f9a8a"/>
<rect x="165.05" y="701.34" width="12.63" height="13.76" fill="#1f9e89"/>
<rect x="177.27" y="701.34" width="12.63" height="13.76" fill="#1fa188"/>
</g>
<rect x="116.14" y="581.10" width="12.23" height="133.60" fill="#fff"/>
<rect x="55.00" y="581.10" width="134.5" height="133.6" fill="none" stroke="#333" stroke-opacity="0.7" stroke-width="0.8"/>
<line x1="52.80" y1="587.48" x2="55.00" y2="587.48" stroke="#444" stroke-width="0.8"/>
<line x1="60.40" y1="714.70" x2="60.40" y2="716.90" stroke="#444" stroke-width="0.8"/>
<line x1="52.80" y1="647.60" x2="55.00" y2="647.60" stroke="#444" stroke-width="0.8"/>
<line x1="121.95" y1="714.70" x2="121.95" y2="716.90" stroke="#444" stroke-width="0.8"/>
<line x1="52.80" y1="707.72" x2="55.00" y2="707.72" stroke="#444" stroke-width="0.8"/>
<line x1="183.50" y1="714.70" x2="183.50" y2="716.90" stroke="#444" stroke-width="0.8"/>
<text transform="translate(81.11,575.71) scale(0.9467,1)" style="font-family:'Liberation Sans',sans-serif;font-size:20.89px;fill:#000;stroke:#fff;stroke-width:0.200px">ctR reorg</text>
<text transform="translate(43.48,592.85) scale(0.8709,1)" style="font-family:'Liberation Sans',sans-serif;font-size:15.07px;fill:#000;stroke:#fff;stroke-width:0.080px">0</text>
<text transform="translate(28.24,653.65) scale(0.8860,1)" style="font-family:'Liberation Sans',sans-serif;font-size:14.93px;fill:#000;stroke:#fff;stroke-width:0.080px">250</text>
<text transform="translate(28.36,713.65) scale(0.8931,1)" style="font-family:'Liberation Sans',sans-serif;font-size:15.21px;fill:#000;stroke:#fff;stroke-width:0.080px">500</text>
<text transform="rotate(-90) translate(-683.76,22.40) scale(0.9447,1)" style="font-family:'Liberation Serif',serif;font-style:italic;font-size:19.58px;fill:#000;stroke:#fff;stroke-width:0.200px">&#1013;</text>
<text transform="rotate(-90) translate(-668.66,22.75) scale(0.7156,1)" style="font-family:'Liberation Serif',serif;font-size:23.11px;fill:#000;stroke:#fff;stroke-width:0.200px">(</text>
<text transform="rotate(-90) translate(-662.80,22.43) scale(1.0275,1)" style="font-family:'Liberation Sans',sans-serif;font-size:17.09px;fill:#000;stroke:#fff;stroke-width:0.200px">cm</text>
<text transform="rotate(-90) translate(-638.37,14.70) scale(1.1892,1)" style="font-family:'Liberation Serif',serif;font-size:12.92px;fill:#333;stroke:#fff;stroke-width:0.080px">&#8722;1</text>
<text transform="rotate(-90) translate(-620.98,22.75) scale(0.6990,1)" style="font-family:'Liberation Serif',serif;font-size:23.11px;fill:#000;stroke:#fff;stroke-width:0.200px">)</text>
<text transform="translate(50.25,729.55) scale(0.8995,1)" style="font-family:'Liberation Sans',sans-serif;font-size:15.29px;fill:#000;stroke:#fff;stroke-width:0.080px">-55</text>
<text transform="translate(117.96,729.17) scale(1.0338,1)" style="font-family:'Liberation Sans',sans-serif;font-size:13.10px;fill:#000;stroke:#fff;stroke-width:0.080px">0</text>
<text transform="translate(175.76,729.45) scale(0.8747,1)" style="font-family:'Liberation Sans',sans-serif;font-size:15.43px;fill:#000;stroke:#fff;stroke-width:0.080px">55</text>
<text transform="translate(84.32,751.52) scale(1.0725,1)" style="font-family:'Liberation Serif',serif;font-style:italic;font-size:22.50px;fill:#000;stroke:#fff;stroke-width:0.200px">J</text>
<text transform="translate(103.02,751.23) scale(0.8827,1)" style="font-family:'Liberation Serif',serif;font-size:22.22px;fill:#000;stroke:#fff;stroke-width:0.200px">(</text>
<text transform="translate(109.61,750.52) scale(0.9727,1)" style="font-family:'Liberation Sans',sans-serif;font-size:17.64px;fill:#000;stroke:#fff;stroke-width:0.200px">cm</text>
<text transform="translate(133.22,743.30) scale(1.1585,1)" style="font-family:'Liberation Serif',serif;font-size:13.54px;fill:#333;stroke:#fff;stroke-width:0.080px">&#8722;1</text>
<text transform="translate(151.06,751.23) scale(0.8135,1)" style="font-family:'Liberation Serif',serif;font-size:22.22px;fill:#000;stroke:#fff;stroke-width:0.200px">)</text>
<g shape-rendering="crispEdges">
<rect x="200.30" y="581.10" width="12.63" height="13.76" fill="#365d8d"/>
<rect x="212.53" y="581.10" width="12.63" height="13.76" fill="#365d8d"/>
<rect x="224.75" y="581.10" width="12.63" height="13.76" fill="#365d8d"/>
<rect x="236.98" y="581.10" width="12.63" height="13.76" fill="#424086"/>
<rect x="249.21" y="581.10" width="12.63" height="13.76" fill="#450559"/>
<rect x="273.66" y="581.10" width="12.63" height="13.76" fill="#450559"/>
<rect x="285.89" y="581.10" width="12.63" height="13.76" fill="#424086"/>
<rect x="298.12" y="581.10" width="12.63" height="13.76" fill="#365d8d"/>
<rect x="310.35" y="581.10" width="12.63" height="13.76" fill="#365d8d"/>
<rect x="322.57" y="581.10" width="12.63" height="13.76" fill="#365d8d"/>
<rect x="200.30" y="594.46" width="12.63" height="13.76" fill="#1f9a8a"/>
<rect x="212.53" y="594.46" width="12.63" height="13.76" fill="#23a983"/>
<rect x="224.75" y="594.46" width="12.63" height="13.76" fill="#40bd72"/>
<rect x="236.98" y="594.46" width="12.63" height="13.76" fill="#58c765"/>
<rect x="249.21" y="594.46" width="12.63" height="13.76" fill="#1fa188"/>
<rect x="273.66" y="594.46" width="12.63" height="13.76" fill="#1fa188"/>
<rect x="285.89" y="594.46" width="12.63" height="13.76" fill="#58c765"/>
<rect x="298.12" y="594.46" width="12.63" height="13.76" fill="#40bd72"/>
<rect x="310.35" y="594.46" width="12.63" height="13.76" fill="#1fa188"/>
<rect x="322.57" y="594.46" width="12.63" height="13.76" fill="#1f948c"/>
<rect x="200.30" y="607.82" width="12.63" height="13.76" fill="#73d056"/>
<rect x="212.53" y="607.82" width="12.63" height="13.76" fill="#52c569"/>
<rect x="224.75" y="607.82" width="12.63" height="13.76" fill="#46c06f"/>
<rect x="236.98" y="607.82" width="12.63" height="13.76" fill="#1f9e89"/>
<rect x="249.21" y="607.82" width="12.63" height="13.76" fill="#27808e"/>
<rect x="273.66" y="607.82" width="12.63" height="13.76" fill="#27808e"/>
<rect x="285.89" y="607.82" width="12.63" height="13.76" fill="#1f9e89"/>
<rect x="298.12" y="607.82" width="12.63" height="13.76" fill="#46c06f"/>
<rect x="310.35" y="607.82" width="12.63" height="13.76" fill="#52c569"/>
<rect x="322.57" y="607.82" width="12.63" height="13.76" fill="#73d056"/>
<rect x="200.30" y="621.18" width="12.63" height="13.76" fill="#6ccd5a"/>
<rect x="212.53" y="621.18" width="12.63" height="13.76" fill="#31b57b"/>
<rect x="224.75" y="621.18" width="12.63" height="13.76" fill="#1f9a8a"/>
<rect x="236.98" y="621.18" width="12.63" height="13.76" fill="#228b8d"/>
<rect x="249.21" y="621.18" width="12.63" height="13.76" fill="#27808e"/>
<rect x="273.66" y="621.18" width="12.63" height="13.76" fill="#27808e"/>
<rect x="285.89" y="621.18" width="12.63" height="13.76" fill="#228b8d"/>
<rect x="298.12" y="621.18" width="12.63" height="13.76" fill="#1f9a8a"/>
<rect x="310.35" y="621.18" width="12.63" height="13.76" fill="#31b57b"/>
<rect x="322.57" y="621.18" width="12.63" height="13.76" fill="#6ccd5a"/>
<rect x="200.30" y="634.54" width="12.63" height="13.76" fill="#31b57b"/>
<rect x="212.53" y="634.54" width="12.63" height="13.76" fill="#1fa188"/>
<rect x="224.75" y="634.54" width="12.63" height="13.76" fill="#20928c"/>
<rect x="236.98" y="634.54" width="12.63" height="13.76" fill="#23888e"/>
<rect x="249.21" y="634.54" width="12.63" height="13.76" fill="#27808e"/>
<rect x="273.66" y="634.54" width="12.63" height="13.76" fill="#27808e"/>
<rect x="285.89" y="634.54" width="12.63" height="13.76" fill="#23888e"/>
<rect x="298.12" y="634.54" width="12.63" height="13.76" fill="#20928c"/>
<rect x="310.35" y="634.54" width="12.63" height="13.76" fill="#1fa188"/>
<rect x="322.57" y="634.54" width="12.63" height="13.76" fill="#35b779"/>
<rect x="200.30" y="647.90" width="12.63" height="13.76" fill="#1f9a8a"/>
<rect x="212.53" y="647.90" width="12.63" height="13.76" fill="#1f978b"/>
<rect x="224.75" y="647.90" width="12.63" height="13.76" fill="#218f8d"/>
<rect x="236.98" y="647.90" width="12.63" height="13.76" fill="#23888e"/>
<rect x="249.21" y="647.90" width="12.63" height="13.76" fill="#26828e"/>
<rect x="273.66" y="647.90" width="12.63" height="13.76" fill="#26828e"/>
<rect x="285.89" y="647.90" width="12.63" height="13.76" fill="#23888e"/>
<rect x="298.12" y="647.90" width="12.63" height="13.76" fill="#218f8d"/>
<rect x="310.35" y="647.90" width="12.63" height="13.76" fill="#1f948c"/>
<rect x="322.57" y="647.90" width="12.63" height="13.76" fill="#1f9a8a"/>
<rect x="200.30" y="661.26" width="12.63" height="13.76" fill="#1f9a8a"/>
<rect x="212.53" y="661.26" width="12.63" height="13.76" fill="#218f8d"/>
<rect x="224.75" y="661.26" width="12.63" height="13.76" fill="#218f8d"/>
<rect x="236.98" y="661.26" width="12.63" height="13.76" fill="#218f8d"/>
<rect x="249.21" y="661.26" width="12.63" height="13.76" fill="#23888e"/>
<rect x="273.66" y="661.26" width="12.63" height="13.76" fill="#23888e"/>
<rect x="285.89" y="661.26" width="12.63" height="13.76" fill="#228b8d"/>
<rect x="298.12" y="661.26" width="12.63" height="13.76" fill="#218f8d"/>
<rect x="310.35" y="661.26" width="12.63" height="13.76" fill="#218f8d"/>
<rect x="322.57" y="661.26" width="12.63" height="13.76" fill="#1f9a8a"/>
<rect x="200.30" y="674.62" width="12.63" height="13.76" fill="#1f9e89"/>
<rect x="212.53" y="674.62" width="12.63" height="13.76" fill="#1f948c"/>
<rect x="224.75" y="674.62" width="12.63" height="13.76" fill="#20928c"/>
<rect x="236.98" y="674.62" width="12.63" height="13.76" fill="#218f8d"/>
<rect x="249.21" y="674.62" width="12.63" height="13.76" fill="#228b8d"/>
<rect x="273.66" y="674.62" width="12.63" height="13.76" fill="#228b8d"/>
<rect x="285.89" y="674.62" width="12.63" height="13.76" fill="#218f8d"/>
<rect x="298.12" y="674.62" width="12.63" height="13.76" fill="#20928c"/>
<rect x="310.35" y="674.62" width="12.63" height="13.76" fill="#1f978b"/>
<rect x="322.57" y="674.62" width="12.63" height="13.76" fill="#1f9e89"/>
<rect x="200.30" y="687.98" width="12.63" height="13.76" fill="#1fa188"/>
<rect x="212.53" y="687.98" width="12.63" height="13.76" fill="#1f978b"/>
<rect x="224.75" y="687.98" width="12.63" height="13.76" fill="#1f948c"/>
<rect x="236.98" y="687.98" width="12.63" height="13.76" fill="#20928c"/>
<rect x="249.21" y="687.98" width="12.63" height="13.76" fill="#218f8d"/>
<rect x="273.66" y="687.98" width="12.63" height="13.76" fill="#218f8d"/>
<rect x="285.89" y="687.98" width="12.63" height="13.76" fill="#20928c"/>
<rect x="298.12" y="687.98" width="12.63" height="13.76" fill="#1f978b"/>
<rect x="310.35" y="687.98" width="12.63" height="13.76" fill="#1f9a8a"/>
<rect x="322.57" y="687.98" width="12.63" height="13.76" fill="#1fa188"/>
<rect x="200.30" y="701.34" width="12.63" height="13.76" fill="#1fa188"/>
<rect x="212.53" y="701.34" width="12.63" height="13.76" fill="#1f9a8a"/>
<rect x="224.75" y="701.34" width="12.63" height="13.76" fill="#1f978b"/>
<rect x="236.98" y="701.34" width="12.63" height="13.76" fill="#1f978b"/>
<rect x="249.21" y="701.34" width="12.63" height="13.76" fill="#20928c"/>
<rect x="273.66" y="701.34" width="12.63" height="13.76" fill="#20928c"/>
<rect x="285.89" y="701.34" width="12.63" height="13.76" fill="#1f978b"/>
<rect x="298.12" y="701.34" width="12.63" height="13.76" fill="#1f9a8a"/>
<rect x="310.35" y="701.34" width="12.63" height="13.76" fill="#1f9e89"/>
<rect x="322.57" y="701.34" width="12.63" height="13.76" fill="#1fa188"/>
</g>
<rect x="261.44" y="581.10" width="12.23" height="133.60" fill="#fff"/>
<rect x="200.30" y="581.10" width="134.5" height="133.6" fill="none" stroke="#333" stroke-opacity="0.7" stroke-width="0.8"/>
<line x1="198.10" y1="587.48" x2="200.30" y2="587.48" stroke="#444" stroke-width="0.8"/>
<line x1="205.70" y1="714.70" x2="205.70" y2="716.90" stroke="#444" stroke-width="0.8"/>
<line x1="198.10" y1="647.60" x2="200.30" y2="647.60" stroke="#444" stroke-width="0.8"/>
<line x1="267.25" y1="714.70" x2="267.25" y2="716.90" stroke="#444" stroke-width="0.8"/>
<line x1="198.10" y1="707.72" x2="200.30" y2="707.72" stroke="#444" stroke-width="0.8"/>
<line x1="328.80" y1="714.70" x2="328.80" y2="716.90" stroke="#444" stroke-width="0.8"/>
<text transform="translate(230.70,576.59) scale(0.8831,1)" style="font-family:'Liberation Sans',sans-serif;font-size:21.23px;fill:#000;stroke:#fff;stroke-width:0.200px">Redfield</text>
<text transform="translate(195.55,729.55) scale(0.8995,1)" style="font-family:'Liberation Sans',sans-serif;font-size:15.29px;fill:#000;stroke:#fff;stroke-width:0.080px">-55</text>
<text transform="translate(263.26,729.17) scale(1.0338,1)" style="font-family:'Liberation Sans',sans-serif;font-size:13.10px;fill:#000;stroke:#fff;stroke-width:0.080px">0</text>
<text transform="translate(321.06,729.45) scale(0.8747,1)" style="font-family:'Liberation Sans',sans-serif;font-size:15.43px;fill:#000;stroke:#fff;stroke-width:0.080px">55</text>
<text transform="translate(229.62,751.52) scale(1.0725,1)" style="font-family:'Liberation Serif',serif;font-style:italic;font-size:22.50px;fill:#000;stroke:#fff;stroke-width:0.200px">J</text>
<text transform="translate(248.32,751.23) scale(0.8827,1)" style="font-family:'Liberation Serif',serif;font-size:22.22px;fill:#000;stroke:#fff;stroke-width:0.200px">(</text>
<text transform="translate(254.91,750.52) scale(0.9727,1)" style="font-family:'Liberation Sans',sans-serif;font-size:17.64px;fill:#000;stroke:#fff;stroke-width:0.200px">cm</text>
<text transform="translate(278.52,743.30) scale(1.1585,1)" style="font-family:'Liberation Serif',serif;font-size:13.54px;fill:#333;stroke:#fff;stroke-width:0.080px">&#8722;1</text>
<text transform="translate(296.36,751.23) scale(0.8135,1)" style="font-family:'Liberation Serif',serif;font-size:22.22px;fill:#000;stroke:#fff;stroke-width:0.200px">)</text>
<rect x="341.30" y="581.10" width="11.6" height="133.6" fill="url(#vir)" stroke="#333" stroke-opacity="0.7" stroke-width="0.8"/>
<line x1="352.90" y1="581.10" x2="355.10" y2="581.10" stroke="#444" stroke-width="0.8"/>
<line x1="352.90" y1="637.50" x2="355.10" y2="637.50" stroke="#444" stroke-width="0.8"/>
<line x1="352.90" y1="694.40" x2="355.10" y2="694.40" stroke="#444" stroke-width="0.8"/>
<text transform="translate(354.34,586.54) scale(0.9989,1)" style="font-family:'Liberation Serif',serif;font-size:16.27px;fill:#000;stroke:#fff;stroke-width:0.080px">1.0</text>
<text transform="translate(354.63,642.94) scale(1.0350,1)" style="font-family:'Liberation Serif',serif;font-size:16.27px;fill:#000;stroke:#fff;stroke-width:0.080px">0.8</text>
<text transform="translate(354.63,699.84) scale(1.0262,1)" style="font-family:'Liberation Serif',serif;font-size:16.27px;fill:#000;stroke:#fff;stroke-width:0.080px">0.6</text>
<line x1="82.0" y1="567.3" x2="161.0" y2="567.3" stroke="#888" stroke-opacity="0.6" stroke-width="0.6"/>
<line x1="232.0" y1="566.7" x2="298.0" y2="566.7" stroke="#888" stroke-opacity="0.6" stroke-width="0.6"/>
<text transform="translate(38.62,410.30) scale(0.9727,1)" style="font-family:'Liberation Sans',sans-serif;font-size:30.36px;fill:#000">c</text>
<g shape-rendering="crispEdges">
<rect x="433.00" y="424.00" width="12.63" height="13.76" fill="#cde11d"/>
<rect x="445.23" y="424.00" width="12.63" height="13.76" fill="#cde11d"/>
<rect x="457.45" y="424.00" width="12.63" height="13.76" fill="#cde11d"/>
<rect x="469.68" y="424.00" width="12.63" height="13.76" fill="#d8e219"/>
<rect x="481.91" y="424.00" width="12.63" height="13.76" fill="#d8e219"/>
<rect x="494.14" y="424.00" width="12.63" height="13.76" fill="#e7e419"/>
<rect x="506.36" y="424.00" width="12.63" height="13.76" fill="#d8e219"/>
<rect x="518.59" y="424.00" width="12.63" height="13.76" fill="#cde11d"/>
<rect x="530.82" y="424.00" width="12.63" height="13.76" fill="#bddf26"/>
<rect x="543.05" y="424.00" width="12.63" height="13.76" fill="#aadc32"/>
<rect x="555.27" y="424.00" width="12.63" height="13.76" fill="#aadc32"/>
<rect x="433.00" y="437.36" width="12.63" height="13.76" fill="#cde11d"/>
<rect x="445.23" y="437.36" width="12.63" height="13.76" fill="#cde11d"/>
<rect x="457.45" y="437.36" width="12.63" height="13.76" fill="#cde11d"/>
<rect x="469.68" y="437.36" width="12.63" height="13.76" fill="#d8e219"/>
<rect x="481.91" y="437.36" width="12.63" height="13.76" fill="#d8e219"/>
<rect x="494.14" y="437.36" width="12.63" height="13.76" fill="#efe51c"/>
<rect x="506.36" y="437.36" width="12.63" height="13.76" fill="#d8e219"/>
<rect x="518.59" y="437.36" width="12.63" height="13.76" fill="#cde11d"/>
<rect x="530.82" y="437.36" width="12.63" height="13.76" fill="#a2da37"/>
<rect x="543.05" y="437.36" width="12.63" height="13.76" fill="#93d741"/>
<rect x="555.27" y="437.36" width="12.63" height="13.76" fill="#93d741"/>
<rect x="433.00" y="450.72" width="12.63" height="13.76" fill="#cde11d"/>
<rect x="445.23" y="450.72" width="12.63" height="13.76" fill="#cde11d"/>
<rect x="457.45" y="450.72" width="12.63" height="13.76" fill="#cde11d"/>
<rect x="469.68" y="450.72" width="12.63" height="13.76" fill="#d8e219"/>
<rect x="481.91" y="450.72" width="12.63" height="13.76" fill="#dfe318"/>
<rect x="494.14" y="450.72" width="12.63" height="13.76" fill="#efe51c"/>
<rect x="506.36" y="450.72" width="12.63" height="13.76" fill="#d8e219"/>
<rect x="518.59" y="450.72" width="12.63" height="13.76" fill="#cde11d"/>
<rect x="530.82" y="450.72" width="12.63" height="13.76" fill="#aadc32"/>
<rect x="543.05" y="450.72" width="12.63" height="13.76" fill="#aadc32"/>
<rect x="555.27" y="450.72" width="12.63" height="13.76" fill="#aadc32"/>
<rect x="433.00" y="464.08" width="12.63" height="13.76" fill="#cde11d"/>
<rect x="445.23" y="464.08" width="12.63" height="13.76" fill="#cde11d"/>
<rect x="457.45" y="464.08" width="12.63" height="13.76" fill="#cde11d"/>
<rect x="469.68" y="464.08" width="12.63" height="13.76" fill="#d8e219"/>
<rect x="481.91" y="464.08" width="12.63" height="13.76" fill="#dfe318"/>
<rect x="494.14" y="464.08" width="12.63" height="13.76" fill="#efe51c"/>
<rect x="506.36" y="464.08" width="12.63" height="13.76" fill="#d8e219"/>
<rect x="518.59" y="464.08" width="12.63" height="13.76" fill="#cde11d"/>
<rect x="530.82" y="464.08" width="12.63" height="13.76" fill="#bddf26"/>
<rect x="543.05" y="464.08" width="12.63" height="13.76" fill="#aadc32"/>
<rect x="555.27" y="464.08" width="12.63" height="13.76" fill="#aadc32"/>
<rect x="433.00" y="477.44" width="12.63" height="13.76" fill="#cde11d"/>
<rect x="445.23" y="477.44" width="12.63" height="13.76" fill="#cde11d"/>
<rect x="457.45" y="477.44" width="12.63" height="13.76" fill="#cde11d"/>
<rect x="469.68" y="477.44" width="12.63" height="13.76" fill="#d8e219"/>
<rect x="481.91" y="477.44" width="12.63" height="13.76" fill="#dfe318"/>
<rect x="494.14" y="477.44" width="12.63" height="13.76" fill="#e7e419"/>
<rect x="506.36" y="477.44" width="12.63" height="13.76" fill="#d8e219"/>
<rect x="518.59" y="477.44" width="12.63" height="13.76" fill="#cde11d"/>
<rect x="530.82" y="477.44" width="12.63" height="13.76" fill="#cde11d"/>
<rect x="543.05" y="477.44" width="12.63" height="13.76" fill="#bddf26"/>
<rect x="555.27" y="477.44" width="12.63" height="13.76" fill="#bddf26"/>
<rect x="433.00" y="490.80" width="12.63" height="13.76" fill="#cde11d"/>
<rect x="445.23" y="490.80" width="12.63" height="13.76" fill="#cde11d"/>
<rect x="457.45" y="490.80" width="12.63" height="13.76" fill="#cde11d"/>
<rect x="469.68" y="490.80" width="12.63" height="13.76" fill="#d8e219"/>
<rect x="481.91" y="490.80" width="12.63" height="13.76" fill="#e7e419"/>
<rect x="494.14" y="490.80" width="12.63" height="13.76" fill="#e7e419"/>
<rect x="506.36" y="490.80" width="12.63" height="13.76" fill="#dfe318"/>
<rect x="518.59" y="490.80" width="12.63" height="13.76" fill="#cde11d"/>
<rect x="530.82" y="490.80" width="12.63" height="13.76" fill="#cde11d"/>
<rect x="543.05" y="490.80" width="12.63" height="13.76" fill="#cde11d"/>
<rect x="555.27" y="490.80" width="12.63" height="13.76" fill="#cde11d"/>
<rect x="433.00" y="504.16" width="12.63" height="13.76" fill="#cde11d"/>
<rect x="445.23" y="504.16" width="12.63" height="13.76" fill="#cde11d"/>
<rect x="457.45" y="504.16" width="12.63" height="13.76" fill="#cde11d"/>
<rect x="469.68" y="504.16" width="12.63" height="13.76" fill="#d8e219"/>
<rect x="481.91" y="504.16" width="12.63" height="13.76" fill="#d8e219"/>
<rect x="494.14" y="504.16" width="12.63" height="13.76" fill="#efe51c"/>
<rect x="506.36" y="504.16" width="12.63" height="13.76" fill="#d8e219"/>
<rect x="518.59" y="504.16" width="12.63" height="13.76" fill="#d8e219"/>
<rect x="530.82" y="504.16" width="12.63" height="13.76" fill="#d8e219"/>
<rect x="543.05" y="504.16" width="12.63" height="13.76" fill="#cde11d"/>
<rect x="555.27" y="504.16" width="12.63" height="13.76" fill="#cde11d"/>
<rect x="433.00" y="517.52" width="12.63" height="13.76" fill="#cde11d"/>
<rect x="445.23" y="517.52" width="12.63" height="13.76" fill="#cde11d"/>
<rect x="457.45" y="517.52" width="12.63" height="13.76" fill="#d8e219"/>
<rect x="469.68" y="517.52" width="12.63" height="13.76" fill="#d8e219"/>
<rect x="481.91" y="517.52" width="12.63" height="13.76" fill="#d8e219"/>
<rect x="494.14" y="517.52" width="12.63" height="13.76" fill="#efe51c"/>
<rect x="506.36" y="517.52" width="12.63" height="13.76" fill="#d8e219"/>
<rect x="518.59" y="517.52" width="12.63" height="13.76" fill="#d8e219"/>
<rect x="530.82" y="517.52" width="12.63" height="13.76" fill="#cde11d"/>
<rect x="543.05" y="517.52" width="12.63" height="13.76" fill="#cde11d"/>
<rect x="555.27" y="517.52" width="12.63" height="13.76" fill="#cde11d"/>
<rect x="433.00" y="530.88" width="12.63" height="13.76" fill="#cde11d"/>
<rect x="445.23" y="530.88" width="12.63" height="13.76" fill="#cde11d"/>
<rect x="457.45" y="530.88" width="12.63" height="13.76" fill="#cde11d"/>
<rect x="469.68" y="530.88" width="12.63" height="13.76" fill="#cde11d"/>
<rect x="481.91" y="530.88" width="12.63" height="13.76" fill="#dfe318"/>
<rect x="494.14" y="530.88" width="12.63" height="13.76" fill="#efe51c"/>
<rect x="506.36" y="530.88" width="12.63" height="13.76" fill="#d8e219"/>
<rect x="518.59" y="530.88" width="12.63" height="13.76" fill="#d8e219"/>
<rect x="530.82" y="530.88" width="12.63" height="13.76" fill="#cde11d"/>
<rect x="543.05" y="530.88" width="12.63" height="13.76" fill="#cde11d"/>
<rect x="555.27" y="530.88" width="12.63" height="13.76" fill="#cde11d"/>
<rect x="433.00" y="544.24" width="12.63" height="13.76" fill="#cde11d"/>
<rect x="445.23" y="544.24" width="12.63" height="13.76" fill="#cde11d"/>
<rect x="457.45" y="544.24" width="12.63" height="13.76" fill="#c5e021"/>
<rect x="469.68" y="544.24" width="12.63" height="13.76" fill="#cde11d"/>
<rect x="481.91" y="544.24" width="12.63" height="13.76" fill="#dfe318"/>
<rect x="494.14" y="544.24" width="12.63" height="13.76" fill="#efe51c"/>
<rect x="506.36" y="544.24" width="12.63" height="13.76" fill="#d8e219"/>
<rect x="518.59" y="544.24" width="12.63" height="13.76" fill="#cde11d"/>
<rect x="530.82" y="544.24" width="12.63" height="13.76" fill="#c5e021"/>
<rect x="543.05" y="544.24" width="12.63" height="13.76" fill="#cde11d"/>
<rect x="555.27" y="544.24" width="12.63" height="13.76" fill="#cde11d"/>
</g>
<rect x="433.00" y="424.00" width="134.5" height="133.6" fill="none" stroke="#333" stroke-opacity="0.7" stroke-width="0.8"/>
<line x1="430.80" y1="430.38" x2="433.00" y2="430.38" stroke="#444" stroke-width="0.8"/>
<line x1="438.40" y1="557.60" x2="438.40" y2="559.80" stroke="#444" stroke-width="0.8"/>
<line x1="430.80" y1="490.50" x2="433.00" y2="490.50" stroke="#444" stroke-width="0.8"/>
<line x1="499.95" y1="557.60" x2="499.95" y2="559.80" stroke="#444" stroke-width="0.8"/>
<line x1="430.80" y1="550.62" x2="433.00" y2="550.62" stroke="#444" stroke-width="0.8"/>
<line x1="561.50" y1="557.60" x2="561.50" y2="559.80" stroke="#444" stroke-width="0.8"/>
<text transform="translate(480.25,419.39) scale(0.8493,1)" style="font-family:'Liberation Sans',sans-serif;font-size:21.41px;fill:#000;stroke:#fff;stroke-width:0.200px">FCE</text>
<text transform="translate(421.48,435.85) scale(0.8709,1)" style="font-family:'Liberation Sans',sans-serif;font-size:15.07px;fill:#000;stroke:#fff;stroke-width:0.080px">0</text>
<text transform="translate(406.24,496.65) scale(0.8860,1)" style="font-family:'Liberation Sans',sans-serif;font-size:14.93px;fill:#000;stroke:#fff;stroke-width:0.080px">250</text>
<text transform="translate(406.36,556.65) scale(0.8931,1)" style="font-family:'Liberation Sans',sans-serif;font-size:15.21px;fill:#000;stroke:#fff;stroke-width:0.080px">500</text>
<text transform="rotate(-90) translate(-526.76,400.40) scale(0.9447,1)" style="font-family:'Liberation Serif',serif;font-style:italic;font-size:19.58px;fill:#000;stroke:#fff;stroke-width:0.200px">&#1013;</text>
<text transform="rotate(-90) translate(-511.66,400.75) scale(0.7156,1)" style="font-family:'Liberation Serif',serif;font-size:23.11px;fill:#000;stroke:#fff;stroke-width:0.200px">(</text>
<text transform="rotate(-90) translate(-505.80,400.43) scale(1.0275,1)" style="font-family:'Liberation Sans',sans-serif;font-size:17.09px;fill:#000;stroke:#fff;stroke-width:0.200px">cm</text>
<text transform="rotate(-90) translate(-481.37,392.70) scale(1.1892,1)" style="font-family:'Liberation Serif',serif;font-size:12.92px;fill:#333;stroke:#fff;stroke-width:0.080px">&#8722;1</text>
<text transform="rotate(-90) translate(-463.98,400.75) scale(0.6990,1)" style="font-family:'Liberation Serif',serif;font-size:23.11px;fill:#000;stroke:#fff;stroke-width:0.200px">)</text>
<g shape-rendering="crispEdges">
<rect x="578.30" y="424.00" width="12.63" height="13.76" fill="#d8e219"/>
<rect x="590.53" y="424.00" width="12.63" height="13.76" fill="#dde318"/>
<rect x="602.75" y="424.00" width="12.63" height="13.76" fill="#dde318"/>
<rect x="614.98" y="424.00" width="12.63" height="13.76" fill="#e2e418"/>
<rect x="627.21" y="424.00" width="12.63" height="13.76" fill="#e2e418"/>
<rect x="639.44" y="424.00" width="12.63" height="13.76" fill="#e7e419"/>
<rect x="651.66" y="424.00" width="12.63" height="13.76" fill="#e2e418"/>
<rect x="663.89" y="424.00" width="12.63" height="13.76" fill="#e2e418"/>
<rect x="676.12" y="424.00" width="12.63" height="13.76" fill="#c0df25"/>
<rect x="688.35" y="424.00" width="12.63" height="13.76" fill="#a0da39"/>
<rect x="700.57" y="424.00" width="12.63" height="13.76" fill="#5ac864"/>
<rect x="578.30" y="437.36" width="12.63" height="13.76" fill="#84d44b"/>
<rect x="590.53" y="437.36" width="12.63" height="13.76" fill="#84d44b"/>
<rect x="602.75" y="437.36" width="12.63" height="13.76" fill="#73d056"/>
<rect x="614.98" y="437.36" width="12.63" height="13.76" fill="#73d056"/>
<rect x="627.21" y="437.36" width="12.63" height="13.76" fill="#98d83e"/>
<rect x="639.44" y="437.36" width="12.63" height="13.76" fill="#efe51c"/>
<rect x="651.66" y="437.36" width="12.63" height="13.76" fill="#c0df25"/>
<rect x="663.89" y="437.36" width="12.63" height="13.76" fill="#a0da39"/>
<rect x="676.12" y="437.36" width="12.63" height="13.76" fill="#a0da39"/>
<rect x="688.35" y="437.36" width="12.63" height="13.76" fill="#77d153"/>
<rect x="700.57" y="437.36" width="12.63" height="13.76" fill="#54c568"/>
<rect x="578.30" y="450.72" width="12.63" height="13.76" fill="#37b878"/>
<rect x="590.53" y="450.72" width="12.63" height="13.76" fill="#32b67a"/>
<rect x="602.75" y="450.72" width="12.63" height="13.76" fill="#32b67a"/>
<rect x="614.98" y="450.72" width="12.63" height="13.76" fill="#3bbb75"/>
<rect x="627.21" y="450.72" width="12.63" height="13.76" fill="#98d83e"/>
<rect x="639.44" y="450.72" width="12.63" height="13.76" fill="#efe51c"/>
<rect x="651.66" y="450.72" width="12.63" height="13.76" fill="#98d83e"/>
<rect x="663.89" y="450.72" width="12.63" height="13.76" fill="#48c16e"/>
<rect x="676.12" y="450.72" width="12.63" height="13.76" fill="#3bbb75"/>
<rect x="688.35" y="450.72" width="12.63" height="13.76" fill="#40bd72"/>
<rect x="700.57" y="450.72" width="12.63" height="13.76" fill="#4ec36b"/>
<rect x="578.30" y="464.08" width="12.63" height="13.76" fill="#22a785"/>
<rect x="590.53" y="464.08" width="12.63" height="13.76" fill="#22a785"/>
<rect x="602.75" y="464.08" width="12.63" height="13.76" fill="#24aa83"/>
<rect x="614.98" y="464.08" width="12.63" height="13.76" fill="#2eb37c"/>
<rect x="627.21" y="464.08" width="12.63" height="13.76" fill="#98d83e"/>
<rect x="639.44" y="464.08" width="12.63" height="13.76" fill="#efe51c"/>
<rect x="651.66" y="464.08" width="12.63" height="13.76" fill="#98d83e"/>
<rect x="663.89" y="464.08" width="12.63" height="13.76" fill="#37b878"/>
<rect x="676.12" y="464.08" width="12.63" height="13.76" fill="#26ad81"/>
<rect x="688.35" y="464.08" width="12.63" height="13.76" fill="#29af7f"/>
<rect x="700.57" y="464.08" width="12.63" height="13.76" fill="#32b67a"/>
<rect x="578.30" y="477.44" width="12.63" height="13.76" fill="#22a785"/>
<rect x="590.53" y="477.44" width="12.63" height="13.76" fill="#22a785"/>
<rect x="602.75" y="477.44" width="12.63" height="13.76" fill="#24aa83"/>
<rect x="614.98" y="477.44" width="12.63" height="13.76" fill="#2eb37c"/>
<rect x="627.21" y="477.44" width="12.63" height="13.76" fill="#98d83e"/>
<rect x="639.44" y="477.44" width="12.63" height="13.76" fill="#efe51c"/>
<rect x="651.66" y="477.44" width="12.63" height="13.76" fill="#98d83e"/>
<rect x="663.89" y="477.44" width="12.63" height="13.76" fill="#32b67a"/>
<rect x="676.12" y="477.44" width="12.63" height="13.76" fill="#26ad81"/>
<rect x="688.35" y="477.44" width="12.63" height="13.76" fill="#26ad81"/>
<rect x="700.57" y="477.44" width="12.63" height="13.76" fill="#29af7f"/>
<rect x="578.30" y="490.80" width="12.63" height="13.76" fill="#20a486"/>
<rect x="590.53" y="490.80" width="12.63" height="13.76" fill="#22a785"/>
<rect x="602.75" y="490.80" width="12.63" height="13.76" fill="#29af7f"/>
<rect x="614.98" y="490.80" width="12.63" height="13.76" fill="#3bbb75"/>
<rect x="627.21" y="490.80" width="12.63" height="13.76" fill="#98d83e"/>
<rect x="639.44" y="490.80" width="12.63" height="13.76" fill="#efe51c"/>
<rect x="651.66" y="490.80" width="12.63" height="13.76" fill="#a8db34"/>
<rect x="663.89" y="490.80" width="12.63" height="13.76" fill="#32b67a"/>
<rect x="676.12" y="490.80" width="12.63" height="13.76" fill="#26ad81"/>
<rect x="688.35" y="490.80" width="12.63" height="13.76" fill="#26ad81"/>
<rect x="700.57" y="490.80" width="12.63" height="13.76" fill="#26ad81"/>
<rect x="578.30" y="504.16" width="12.63" height="13.76" fill="#20a486"/>
<rect x="590.53" y="504.16" width="12.63" height="13.76" fill="#22a785"/>
<rect x="602.75" y="504.16" width="12.63" height="13.76" fill="#2eb37c"/>
<rect x="614.98" y="504.16" width="12.63" height="13.76" fill="#40bd72"/>
<rect x="627.21" y="504.16" width="12.63" height="13.76" fill="#98d83e"/>
<rect x="639.44" y="504.16" width="12.63" height="13.76" fill="#efe51c"/>
<rect x="651.66" y="504.16" width="12.63" height="13.76" fill="#5ac864"/>
<rect x="663.89" y="504.16" width="12.63" height="13.76" fill="#32b67a"/>
<rect x="676.12" y="504.16" width="12.63" height="13.76" fill="#29af7f"/>
<rect x="688.35" y="504.16" width="12.63" height="13.76" fill="#26ad81"/>
<rect x="700.57" y="504.16" width="12.63" height="13.76" fill="#26ad81"/>
<rect x="578.30" y="517.52" width="12.63" height="13.76" fill="#20a486"/>
<rect x="590.53" y="517.52" width="12.63" height="13.76" fill="#22a785"/>
<rect x="602.75" y="517.52" width="12.63" height="13.76" fill="#2eb37c"/>
<rect x="614.98" y="517.52" width="12.63" height="13.76" fill="#40bd72"/>
<rect x="627.21" y="517.52" width="12.63" height="13.76" fill="#98d83e"/>
<rect x="639.44" y="517.52" width="12.63" height="13.76" fill="#efe51c"/>
<rect x="651.66" y="517.52" width="12.63" height="13.76" fill="#5ac864"/>
<rect x="663.89" y="517.52" width="12.63" height="13.76" fill="#32b67a"/>
<rect x="676.12" y="517.52" width="12.63" height="13.76" fill="#29af7f"/>
<rect x="688.35" y="517.52" width="12.63" height="13.76" fill="#26ad81"/>
<rect x="700.57" y="517.52" width="12.63" height="13.76" fill="#26ad81"/>
<rect x="578.30" y="530.88" width="12.63" height="13.76" fill="#20a486"/>
<rect x="590.53" y="530.88" width="12.63" height="13.76" fill="#22a785"/>
<rect x="602.75" y="530.88" width="12.63" height="13.76" fill="#2eb37c"/>
<rect x="614.98" y="530.88" width="12.63" height="13.76" fill="#40bd72"/>
<rect x="627.21" y="530.88" width="12.63" height="13.76" fill="#90d743"/>
<rect x="639.44" y="530.88" width="12.63" height="13.76" fill="#efe51c"/>
<rect x="651.66" y="530.88" width="12.63" height="13.76" fill="#5ac864"/>
<rect x="663.89" y="530.88" width="12.63" height="13.76" fill="#32b67a"/>
<rect x="676.12" y="530.88" width="12.63" height="13.76" fill="#29af7f"/>
<rect x="688.35" y="530.88" width="12.63" height="13.76" fill="#26ad81"/>
<rect x="700.57" y="530.88" width="12.63" height="13.76" fill="#26ad81"/>
<rect x="578.30" y="544.24" width="12.63" height="13.76" fill="#20a486"/>
<rect x="590.53" y="544.24" width="12.63" height="13.76" fill="#22a785"/>
<rect x="602.75" y="544.24" width="12.63" height="13.76" fill="#2eb37c"/>
<rect x="614.98" y="544.24" width="12.63" height="13.76" fill="#40bd72"/>
<rect x="627.21" y="544.24" width="12.63" height="13.76" fill="#90d743"/>
<rect x="639.44" y="544.24" width="12.63" height="13.76" fill="#efe51c"/>
<rect x="651.66" y="544.24" width="12.63" height="13.76" fill="#5ac864"/>
<rect x="663.89" y="544.24" width="12.63" height="13.76" fill="#32b67a"/>
<rect x="676.12" y="544.24" width="12.63" height="13.76" fill="#29af7f"/>
<rect x="688.35" y="544.24" width="12.63" height="13.76" fill="#26ad81"/>
<rect x="700.57" y="544.24" width="12.63" height="13.76" fill="#26ad81"/>
</g>
<rect x="578.30" y="424.00" width="134.5" height="133.6" fill="none" stroke="#333" stroke-opacity="0.7" stroke-width="0.8"/>
<line x1="576.10" y1="430.38" x2="578.30" y2="430.38" stroke="#444" stroke-width="0.8"/>
<line x1="583.70" y1="557.60" x2="583.70" y2="559.80" stroke="#444" stroke-width="0.8"/>
<line x1="576.10" y1="490.50" x2="578.30" y2="490.50" stroke="#444" stroke-width="0.8"/>
<line x1="645.25" y1="557.60" x2="645.25" y2="559.80" stroke="#444" stroke-width="0.8"/>
<line x1="576.10" y1="550.62" x2="578.30" y2="550.62" stroke="#444" stroke-width="0.8"/>
<line x1="706.80" y1="557.60" x2="706.80" y2="559.80" stroke="#444" stroke-width="0.8"/>
<text transform="translate(629.09,419.38) scale(0.9374,1)" style="font-family:'Liberation Sans',sans-serif;font-size:21.71px;fill:#000;stroke:#fff;stroke-width:0.200px">ctR</text>
<g shape-rendering="crispEdges">
<rect x="432.10" y="581.10" width="12.63" height="13.76" fill="#22a785"/>
<rect x="444.33" y="581.10" width="12.63" height="13.76" fill="#20a486"/>
<rect x="456.55" y="581.10" width="12.63" height="13.76" fill="#1fa188"/>
<rect x="468.78" y="581.10" width="12.63" height="13.76" fill="#1f9e89"/>
<rect x="481.01" y="581.10" width="12.63" height="13.76" fill="#297b8e"/>
<rect x="493.24" y="581.10" width="12.63" height="13.76" fill="#efe51c"/>
<rect x="505.46" y="581.10" width="12.63" height="13.76" fill="#355f8d"/>
<rect x="517.69" y="581.10" width="12.63" height="13.76" fill="#424086"/>
<rect x="529.92" y="581.10" width="12.63" height="13.76" fill="#463480"/>
<rect x="542.15" y="581.10" width="12.63" height="13.76" fill="#482475"/>
<rect x="554.37" y="581.10" width="12.63" height="13.76" fill="#48186a"/>
<rect x="432.10" y="594.46" width="12.63" height="13.76" fill="#5ac864"/>
<rect x="444.33" y="594.46" width="12.63" height="13.76" fill="#5ac864"/>
<rect x="456.55" y="594.46" width="12.63" height="13.76" fill="#5ac864"/>
<rect x="468.78" y="594.46" width="12.63" height="13.76" fill="#5ac864"/>
<rect x="481.01" y="594.46" width="12.63" height="13.76" fill="#9bd93c"/>
<rect x="493.24" y="594.46" width="12.63" height="13.76" fill="#efe51c"/>
<rect x="505.46" y="594.46" width="12.63" height="13.76" fill="#9bd93c"/>
<rect x="517.69" y="594.46" width="12.63" height="13.76" fill="#29af7f"/>
<rect x="529.92" y="594.46" width="12.63" height="13.76" fill="#297b8e"/>
<rect x="542.15" y="594.46" width="12.63" height="13.76" fill="#355f8d"/>
<rect x="554.37" y="594.46" width="12.63" height="13.76" fill="#3e4a89"/>
<rect x="432.10" y="607.82" width="12.63" height="13.76" fill="#37b878"/>
<rect x="444.33" y="607.82" width="12.63" height="13.76" fill="#32b67a"/>
<rect x="456.55" y="607.82" width="12.63" height="13.76" fill="#32b67a"/>
<rect x="468.78" y="607.82" width="12.63" height="13.76" fill="#3bbb75"/>
<rect x="481.01" y="607.82" width="12.63" height="13.76" fill="#9bd93c"/>
<rect x="493.24" y="607.82" width="12.63" height="13.76" fill="#efe51c"/>
<rect x="505.46" y="607.82" width="12.63" height="13.76" fill="#9bd93c"/>
<rect x="517.69" y="607.82" width="12.63" height="13.76" fill="#40bd72"/>
<rect x="529.92" y="607.82" width="12.63" height="13.76" fill="#24aa83"/>
<rect x="542.15" y="607.82" width="12.63" height="13.76" fill="#1fa188"/>
<rect x="554.37" y="607.82" width="12.63" height="13.76" fill="#20928c"/>
<rect x="432.10" y="621.18" width="12.63" height="13.76" fill="#22a785"/>
<rect x="444.33" y="621.18" width="12.63" height="13.76" fill="#20a486"/>
<rect x="456.55" y="621.18" width="12.63" height="13.76" fill="#20a486"/>
<rect x="468.78" y="621.18" width="12.63" height="13.76" fill="#32b67a"/>
<rect x="481.01" y="621.18" width="12.63" height="13.76" fill="#9bd93c"/>
<rect x="493.24" y="621.18" width="12.63" height="13.76" fill="#efe51c"/>
<rect x="505.46" y="621.18" width="12.63" height="13.76" fill="#9bd93c"/>
<rect x="517.69" y="621.18" width="12.63" height="13.76" fill="#37b878"/>
<rect x="529.92" y="621.18" width="12.63" height="13.76" fill="#26ad81"/>
<rect x="542.15" y="621.18" width="12.63" height="13.76" fill="#24aa83"/>
<rect x="554.37" y="621.18" width="12.63" height="13.76" fill="#22a785"/>
<rect x="432.10" y="634.54" width="12.63" height="13.76" fill="#20a486"/>
<rect x="444.33" y="634.54" width="12.63" height="13.76" fill="#20a486"/>
<rect x="456.55" y="634.54" width="12.63" height="13.76" fill="#22a785"/>
<rect x="468.78" y="634.54" width="12.63" height="13.76" fill="#2eb37c"/>
<rect x="481.01" y="634.54" width="12.63" height="13.76" fill="#9bd93c"/>
<rect x="493.24" y="634.54" width="12.63" height="13.76" fill="#efe51c"/>
<rect x="505.46" y="634.54" width="12.63" height="13.76" fill="#9bd93c"/>
<rect x="517.69" y="634.54" width="12.63" height="13.76" fill="#32b67a"/>
<rect x="529.92" y="634.54" width="12.63" height="13.76" fill="#26ad81"/>
<rect x="542.15" y="634.54" width="12.63" height="13.76" fill="#26ad81"/>
<rect x="554.37" y="634.54" width="12.63" height="13.76" fill="#29af7f"/>
<rect x="432.10" y="647.90" width="12.63" height="13.76" fill="#1fa188"/>
<rect x="444.33" y="647.90" width="12.63" height="13.76" fill="#20a486"/>
<rect x="456.55" y="647.90" width="12.63" height="13.76" fill="#29af7f"/>
<rect x="468.78" y="647.90" width="12.63" height="13.76" fill="#40bd72"/>
<rect x="481.01" y="647.90" width="12.63" height="13.76" fill="#9bd93c"/>
<rect x="493.24" y="647.90" width="12.63" height="13.76" fill="#efe51c"/>
<rect x="505.46" y="647.90" width="12.63" height="13.76" fill="#a0da39"/>
<rect x="517.69" y="647.90" width="12.63" height="13.76" fill="#32b67a"/>
<rect x="529.92" y="647.90" width="12.63" height="13.76" fill="#26ad81"/>
<rect x="542.15" y="647.90" width="12.63" height="13.76" fill="#26ad81"/>
<rect x="554.37" y="647.90" width="12.63" height="13.76" fill="#29af7f"/>
<rect x="432.10" y="661.26" width="12.63" height="13.76" fill="#1fa188"/>
<rect x="444.33" y="661.26" width="12.63" height="13.76" fill="#20a486"/>
<rect x="456.55" y="661.26" width="12.63" height="13.76" fill="#29af7f"/>
<rect x="468.78" y="661.26" width="12.63" height="13.76" fill="#40bd72"/>
<rect x="481.01" y="661.26" width="12.63" height="13.76" fill="#9bd93c"/>
<rect x="493.24" y="661.26" width="12.63" height="13.76" fill="#efe51c"/>
<rect x="505.46" y="661.26" width="12.63" height="13.76" fill="#5ec962"/>
<rect x="517.69" y="661.26" width="12.63" height="13.76" fill="#32b67a"/>
<rect x="529.92" y="661.26" width="12.63" height="13.76" fill="#26ad81"/>
<rect x="542.15" y="661.26" width="12.63" height="13.76" fill="#26ad81"/>
<rect x="554.37" y="661.26" width="12.63" height="13.76" fill="#26ad81"/>
<rect x="432.10" y="674.62" width="12.63" height="13.76" fill="#1fa188"/>
<rect x="444.33" y="674.62" width="12.63" height="13.76" fill="#20a486"/>
<rect x="456.55" y="674.62" width="12.63" height="13.76" fill="#29af7f"/>
<rect x="468.78" y="674.62" width="12.63" height="13.76" fill="#40bd72"/>
<rect x="481.01" y="674.62" width="12.63" height="13.76" fill="#9bd93c"/>
<rect x="493.24" y="674.62" width="12.63" height="13.76" fill="#efe51c"/>
<rect x="505.46" y="674.62" width="12.63" height="13.76" fill="#5ec962"/>
<rect x="517.69" y="674.62" width="12.63" height="13.76" fill="#32b67a"/>
<rect x="529.92" y="674.62" width="12.63" height="13.76" fill="#26ad81"/>
<rect x="542.15" y="674.62" width="12.63" height="13.76" fill="#26ad81"/>
<rect x="554.37" y="674.62" width="12.63" height="13.76" fill="#26ad81"/>
<rect x="432.10" y="687.98" width="12.63" height="13.76" fill="#1fa188"/>
<rect x="444.33" y="687.98" width="12.63" height="13.76" fill="#20a486"/>
<rect x="456.55" y="687.98" width="12.63" height="13.76" fill="#29af7f"/>
<rect x="468.78" y="687.98" width="12.63" height="13.76" fill="#40bd72"/>
<rect x="481.01" y="687.98" width="12.63" height="13.76" fill="#9bd93c"/>
<rect x="493.24" y="687.98" width="12.63" height="13.76" fill="#efe51c"/>
<rect x="505.46" y="687.98" width="12.63" height="13.76" fill="#5ec962"/>
<rect x="517.69" y="687.98" width="12.63" height="13.76" fill="#32b67a"/>
<rect x="529.92" y="687.98" width="12.63" height="13.76" fill="#26ad81"/>
<rect x="542.15" y="687.98" width="12.63" height="13.76" fill="#26ad81"/>
<rect x="554.37" y="687.98" width="12.63" height="13.76" fill="#26ad81"/>
<rect x="432.10" y="701.34" width="12.63" height="13.76" fill="#1fa188"/>
<rect x="444.33" y="701.34" width="12.63" height="13.76" fill="#20a486"/>
<rect x="456.55" y="701.34" width="12.63" height="13.76" fill="#29af7f"/>
<rect x="468.78" y="701.34" width="12.63" height="13.76" fill="#40bd72"/>
<rect x="481.01" y="701.34" width="12.63" height="13.76" fill="#9bd93c"/>
<rect x="493.24" y="701.34" width="12.63" height="13.76" fill="#efe51c"/>
<rect x="505.46" y="701.34" width="12.63" height="13.76" fill="#5ec962"/>
<rect x="517.69" y="701.34" width="12.63" height="13.76" fill="#32b67a"/>
<rect x="529.92" y="701.34" width="12.63" height="13.76" fill="#26ad81"/>
<rect x="542.15" y="701.34" width="12.63" height="13.76" fill="#26ad81"/>
<rect x="554.37" y="701.34" width="12.63" height="13.76" fill="#26ad81"/>
</g>
<rect x="432.10" y="581.10" width="134.5" height="133.6" fill="none" stroke="#333" stroke-opacity="0.7" stroke-width="0.8"/>
<line x1="429.90" y1="587.48" x2="432.10" y2="587.48" stroke="#444" stroke-width="0.8"/>
<line x1="437.50" y1="714.70" x2="437.50" y2="716.90" stroke="#444" stroke-width="0.8"/>
<line x1="429.90" y1="647.60" x2="432.10" y2="647.60" stroke="#444" stroke-width="0.8"/>
<line x1="499.05" y1="714.70" x2="499.05" y2="716.90" stroke="#444" stroke-width="0.8"/>
<line x1="429.90" y1="707.72" x2="432.10" y2="707.72" stroke="#444" stroke-width="0.8"/>
<line x1="560.60" y1="714.70" x2="560.60" y2="716.90" stroke="#444" stroke-width="0.8"/>
<text transform="translate(459.11,575.71) scale(0.9467,1)" style="font-family:'Liberation Sans',sans-serif;font-size:20.89px;fill:#000;stroke:#fff;stroke-width:0.200px">ctR reorg</text>
<text transform="translate(421.48,592.85) scale(0.8709,1)" style="font-family:'Liberation Sans',sans-serif;font-size:15.07px;fill:#000;stroke:#fff;stroke-width:0.080px">0</text>
<text transform="translate(406.24,653.65) scale(0.8860,1)" style="font-family:'Liberation Sans',sans-serif;font-size:14.93px;fill:#000;stroke:#fff;stroke-width:0.080px">250</text>
<text transform="translate(406.36,713.65) scale(0.8931,1)" style="font-family:'Liberation Sans',sans-serif;font-size:15.21px;fill:#000;stroke:#fff;stroke-width:0.080px">500</text>
<text transform="rotate(-90) translate(-683.76,400.40) scale(0.9447,1)" style="font-family:'Liberation Serif',serif;font-style:italic;font-size:19.58px;fill:#000;stroke:#fff;stroke-width:0.200px">&#1013;</text>
<text transform="rotate(-90) translate(-668.66,400.75) scale(0.7156,1)" style="font-family:'Liberation Serif',serif;font-size:23.11px;fill:#000;stroke:#fff;stroke-width:0.200px">(</text>
<text transform="rotate(-90) translate(-662.80,400.43) scale(1.0275,1)" style="font-family:'Liberation Sans',sans-serif;font-size:17.09px;fill:#000;stroke:#fff;stroke-width:0.200px">cm</text>
<text transform="rotate(-90) translate(-638.37,392.70) scale(1.1892,1)" style="font-family:'Liberation Serif',serif;font-size:12.92px;fill:#333;stroke:#fff;stroke-width:0.080px">&#8722;1</text>
<text transform="rotate(-90) translate(-620.98,400.75) scale(0.6990,1)" style="font-family:'Liberation Serif',serif;font-size:23.11px;fill:#000;stroke:#fff;stroke-width:0.200px">)</text>
<text transform="translate(428.25,729.55) scale(0.8995,1)" style="font-family:'Liberation Sans',sans-serif;font-size:15.29px;fill:#000;stroke:#fff;stroke-width:0.080px">-55</text>
<text transform="translate(495.96,729.17) scale(1.0338,1)" style="font-family:'Liberation Sans',sans-serif;font-size:13.10px;fill:#000;stroke:#fff;stroke-width:0.080px">0</text>
<text transform="translate(553.76,729.45) scale(0.8747,1)" style="font-family:'Liberation Sans',sans-serif;font-size:15.43px;fill:#000;stroke:#fff;stroke-width:0.080px">55</text>
<text transform="translate(462.32,751.52) scale(1.0725,1)" style="font-family:'Liberation Serif',serif;font-style:italic;font-size:22.50px;fill:#000;stroke:#fff;stroke-width:0.200px">J</text>
<text transform="translate(481.02,751.23) scale(0.8827,1)" style="font-family:'Liberation Serif',serif;font-size:22.22px;fill:#000;stroke:#fff;stroke-width:0.200px">(</text>
<text transform="translate(487.61,750.52) scale(0.9727,1)" style="font-family:'Liberation Sans',sans-serif;font-size:17.64px;fill:#000;stroke:#fff;stroke-width:0.200px">cm</text>
<text transform="translate(511.22,743.30) scale(1.1585,1)" style="font-family:'Liberation Serif',serif;font-size:13.54px;fill:#333;stroke:#fff;stroke-width:0.080px">&#8722;1</text>
<text transform="translate(529.06,751.23) scale(0.8135,1)" style="font-family:'Liberation Serif',serif;font-size:22.22px;fill:#000;stroke:#fff;stroke-width:0.200px">)</text>
<g shape-rendering="crispEdges">
<rect x="577.40" y="581.10" width="12.63" height="13.76" fill="#46307e"/>
<rect x="589.63" y="581.10" width="12.63" height="13.76" fill="#463480"/>
<rect x="601.85" y="581.10" width="12.63" height="13.76" fill="#443b84"/>
<rect x="614.08" y="581.10" width="12.63" height="13.76" fill="#39558c"/>
<rect x="626.31" y="581.10" width="12.63" height="13.76" fill="#482475"/>
<rect x="638.54" y="581.10" width="12.63" height="13.76" fill="#efe51c"/>
<rect x="650.76" y="581.10" width="12.63" height="13.76" fill="#482475"/>
<rect x="662.99" y="581.10" width="12.63" height="13.76" fill="#424086"/>
<rect x="675.22" y="581.10" width="12.63" height="13.76" fill="#48186a"/>
<rect x="687.45" y="581.10" width="12.63" height="13.76" fill="#440154"/>
<rect x="699.67" y="581.10" width="12.63" height="13.76" fill="#440154"/>
<rect x="577.40" y="594.46" width="12.63" height="13.76" fill="#277e8e"/>
<rect x="589.63" y="594.46" width="12.63" height="13.76" fill="#218f8d"/>
<rect x="601.85" y="594.46" width="12.63" height="13.76" fill="#26ad81"/>
<rect x="614.08" y="594.46" width="12.63" height="13.76" fill="#54c568"/>
<rect x="626.31" y="594.46" width="12.63" height="13.76" fill="#98d83e"/>
<rect x="638.54" y="594.46" width="12.63" height="13.76" fill="#efe51c"/>
<rect x="650.76" y="594.46" width="12.63" height="13.76" fill="#98d83e"/>
<rect x="662.99" y="594.46" width="12.63" height="13.76" fill="#20a486"/>
<rect x="675.22" y="594.46" width="12.63" height="13.76" fill="#355f8d"/>
<rect x="687.45" y="594.46" width="12.63" height="13.76" fill="#453882"/>
<rect x="699.67" y="594.46" width="12.63" height="13.76" fill="#3f4788"/>
<rect x="577.40" y="607.82" width="12.63" height="13.76" fill="#69cd5b"/>
<rect x="589.63" y="607.82" width="12.63" height="13.76" fill="#3bbb75"/>
<rect x="601.85" y="607.82" width="12.63" height="13.76" fill="#37b878"/>
<rect x="614.08" y="607.82" width="12.63" height="13.76" fill="#48c16e"/>
<rect x="626.31" y="607.82" width="12.63" height="13.76" fill="#98d83e"/>
<rect x="638.54" y="607.82" width="12.63" height="13.76" fill="#efe51c"/>
<rect x="650.76" y="607.82" width="12.63" height="13.76" fill="#98d83e"/>
<rect x="662.99" y="607.82" width="12.63" height="13.76" fill="#40bd72"/>
<rect x="675.22" y="607.82" width="12.63" height="13.76" fill="#37b878"/>
<rect x="687.45" y="607.82" width="12.63" height="13.76" fill="#26828e"/>
<rect x="699.67" y="607.82" width="12.63" height="13.76" fill="#1fa188"/>
<rect x="577.40" y="621.18" width="12.63" height="13.76" fill="#48c16e"/>
<rect x="589.63" y="621.18" width="12.63" height="13.76" fill="#32b67a"/>
<rect x="601.85" y="621.18" width="12.63" height="13.76" fill="#22a785"/>
<rect x="614.08" y="621.18" width="12.63" height="13.76" fill="#2eb37c"/>
<rect x="626.31" y="621.18" width="12.63" height="13.76" fill="#98d83e"/>
<rect x="638.54" y="621.18" width="12.63" height="13.76" fill="#efe51c"/>
<rect x="650.76" y="621.18" width="12.63" height="13.76" fill="#98d83e"/>
<rect x="662.99" y="621.18" width="12.63" height="13.76" fill="#37b878"/>
<rect x="675.22" y="621.18" width="12.63" height="13.76" fill="#29af7f"/>
<rect x="687.45" y="621.18" width="12.63" height="13.76" fill="#37b878"/>
<rect x="699.67" y="621.18" width="12.63" height="13.76" fill="#54c568"/>
<rect x="577.40" y="634.54" width="12.63" height="13.76" fill="#29af7f"/>
<rect x="589.63" y="634.54" width="12.63" height="13.76" fill="#24aa83"/>
<rect x="601.85" y="634.54" width="12.63" height="13.76" fill="#24aa83"/>
<rect x="614.08" y="634.54" width="12.63" height="13.76" fill="#29af7f"/>
<rect x="626.31" y="634.54" width="12.63" height="13.76" fill="#98d83e"/>
<rect x="638.54" y="634.54" width="12.63" height="13.76" fill="#efe51c"/>
<rect x="650.76" y="634.54" width="12.63" height="13.76" fill="#98d83e"/>
<rect x="662.99" y="634.54" width="12.63" height="13.76" fill="#2eb37c"/>
<rect x="675.22" y="634.54" width="12.63" height="13.76" fill="#26ad81"/>
<rect x="687.45" y="634.54" width="12.63" height="13.76" fill="#2eb37c"/>
<rect x="699.67" y="634.54" width="12.63" height="13.76" fill="#40bd72"/>
<rect x="577.40" y="647.90" width="12.63" height="13.76" fill="#20a486"/>
<rect x="589.63" y="647.90" width="12.63" height="13.76" fill="#24aa83"/>
<rect x="601.85" y="647.90" width="12.63" height="13.76" fill="#26ad81"/>
<rect x="614.08" y="647.90" width="12.63" height="13.76" fill="#48c16e"/>
<rect x="626.31" y="647.90" width="12.63" height="13.76" fill="#98d83e"/>
<rect x="638.54" y="647.90" width="12.63" height="13.76" fill="#efe51c"/>
<rect x="650.76" y="647.90" width="12.63" height="13.76" fill="#a8db34"/>
<rect x="662.99" y="647.90" width="12.63" height="13.76" fill="#32b67a"/>
<rect x="675.22" y="647.90" width="12.63" height="13.76" fill="#26ad81"/>
<rect x="687.45" y="647.90" width="12.63" height="13.76" fill="#29af7f"/>
<rect x="699.67" y="647.90" width="12.63" height="13.76" fill="#297b8e"/>
<rect x="577.40" y="661.26" width="12.63" height="13.76" fill="#24aa83"/>
<rect x="589.63" y="661.26" width="12.63" height="13.76" fill="#1fa188"/>
<rect x="601.85" y="661.26" width="12.63" height="13.76" fill="#26ad81"/>
<rect x="614.08" y="661.26" width="12.63" height="13.76" fill="#48c16e"/>
<rect x="626.31" y="661.26" width="12.63" height="13.76" fill="#98d83e"/>
<rect x="638.54" y="661.26" width="12.63" height="13.76" fill="#efe51c"/>
<rect x="650.76" y="661.26" width="12.63" height="13.76" fill="#5ec962"/>
<rect x="662.99" y="661.26" width="12.63" height="13.76" fill="#32b67a"/>
<rect x="675.22" y="661.26" width="12.63" height="13.76" fill="#1f9a8a"/>
<rect x="687.45" y="661.26" width="12.63" height="13.76" fill="#25848e"/>
<rect x="699.67" y="661.26" width="12.63" height="13.76" fill="#29af7f"/>
<rect x="577.40" y="674.62" width="12.63" height="13.76" fill="#24aa83"/>
<rect x="589.63" y="674.62" width="12.63" height="13.76" fill="#26ad81"/>
<rect x="601.85" y="674.62" width="12.63" height="13.76" fill="#2eb37c"/>
<rect x="614.08" y="674.62" width="12.63" height="13.76" fill="#48c16e"/>
<rect x="626.31" y="674.62" width="12.63" height="13.76" fill="#98d83e"/>
<rect x="638.54" y="674.62" width="12.63" height="13.76" fill="#efe51c"/>
<rect x="650.76" y="674.62" width="12.63" height="13.76" fill="#5ec962"/>
<rect x="662.99" y="674.62" width="12.63" height="13.76" fill="#32b67a"/>
<rect x="675.22" y="674.62" width="12.63" height="13.76" fill="#26ad81"/>
<rect x="687.45" y="674.62" width="12.63" height="13.76" fill="#26ad81"/>
<rect x="699.67" y="674.62" width="12.63" height="13.76" fill="#29af7f"/>
<rect x="577.40" y="687.98" width="12.63" height="13.76" fill="#24aa83"/>
<rect x="589.63" y="687.98" width="12.63" height="13.76" fill="#26ad81"/>
<rect x="601.85" y="687.98" width="12.63" height="13.76" fill="#2eb37c"/>
<rect x="614.08" y="687.98" width="12.63" height="13.76" fill="#48c16e"/>
<rect x="626.31" y="687.98" width="12.63" height="13.76" fill="#90d743"/>
<rect x="638.54" y="687.98" width="12.63" height="13.76" fill="#efe51c"/>
<rect x="650.76" y="687.98" width="12.63" height="13.76" fill="#5ec962"/>
<rect x="662.99" y="687.98" width="12.63" height="13.76" fill="#32b67a"/>
<rect x="675.22" y="687.98" width="12.63" height="13.76" fill="#26ad81"/>
<rect x="687.45" y="687.98" width="12.63" height="13.76" fill="#26ad81"/>
<rect x="699.67" y="687.98" width="12.63" height="13.76" fill="#29af7f"/>
<rect x="577.40" y="701.34" width="12.63" height="13.76" fill="#22a785"/>
<rect x="589.63" y="701.34" width="12.63" height="13.76" fill="#26ad81"/>
<rect x="601.85" y="701.34" width="12.63" height="13.76" fill="#2eb37c"/>
<rect x="614.08" y="701.34" width="12.63" height="13.76" fill="#48c16e"/>
<rect x="626.31" y="701.34" width="12.63" height="13.76" fill="#90d743"/>
<rect x="638.54" y="701.34" width="12.63" height="13.76" fill="#efe51c"/>
<rect x="650.76" y="701.34" width="12.63" height="13.76" fill="#5ec962"/>
<rect x="662.99" y="701.34" width="12.63" height="13.76" fill="#32b67a"/>
<rect x="675.22" y="701.34" width="12.63" height="13.76" fill="#26ad81"/>
<rect x="687.45" y="701.34" width="12.63" height="13.76" fill="#26ad81"/>
<rect x="699.67" y="701.34" width="12.63" height="13.76" fill="#29af7f"/>
</g>
<rect x="577.40" y="581.10" width="134.5" height="133.6" fill="none" stroke="#333" stroke-opacity="0.7" stroke-width="0.8"/>
<line x1="575.20" y1="587.48" x2="577.40" y2="587.48" stroke="#444" stroke-width="0.8"/>
<line x1="582.80" y1="714.70" x2="582.80" y2="716.90" stroke="#444" stroke-width="0.8"/>
<line x1="575.20" y1="647.60" x2="577.40" y2="647.60" stroke="#444" stroke-width="0.8"/>
<line x1="644.35" y1="714.70" x2="644.35" y2="716.90" stroke="#444" stroke-width="0.8"/>
<line x1="575.20" y1="707.72" x2="577.40" y2="707.72" stroke="#444" stroke-width="0.8"/>
<line x1="705.90" y1="714.70" x2="705.90" y2="716.90" stroke="#444" stroke-width="0.8"/>
<text transform="translate(608.70,576.59) scale(0.8831,1)" style="font-family:'Liberation Sans',sans-serif;font-size:21.23px;fill:#000;stroke:#fff;stroke-width:0.200px">Redfield</text>
<text transform="translate(573.55,729.55) scale(0.8995,1)" style="font-family:'Liberation Sans',sans-serif;font-size:15.29px;fill:#000;stroke:#fff;stroke-width:0.080px">-55</text>
<text transform="translate(641.26,729.17) scale(1.0338,1)" style="font-family:'Liberation Sans',sans-serif;font-size:13.10px;fill:#000;stroke:#fff;stroke-width:0.080px">0</text>
<text transform="translate(699.06,729.45) scale(0.8747,1)" style="font-family:'Liberation Sans',sans-serif;font-size:15.43px;fill:#000;stroke:#fff;stroke-width:0.080px">55</text>
<text transform="translate(607.62,751.52) scale(1.0725,1)" style="font-family:'Liberation Serif',serif;font-style:italic;font-size:22.50px;fill:#000;stroke:#fff;stroke-width:0.200px">J</text>
<text transform="translate(626.32,751.23) scale(0.8827,1)" style="font-family:'Liberation Serif',serif;font-size:22.22px;fill:#000;stroke:#fff;stroke-width:0.200px">(</text>
<text transform="translate(632.91,750.52) scale(0.9727,1)" style="font-family:'Liberation Sans',sans-serif;font-size:17.64px;fill:#000;stroke:#fff;stroke-width:0.200px">cm</text>
<text transform="translate(656.52,743.30) scale(1.1585,1)" style="font-family:'Liberation Serif',serif;font-size:13.54px;fill:#333;stroke:#fff;stroke-width:0.080px">&#8722;1</text>
<text transform="translate(674.36,751.23) scale(0.8135,1)" style="font-family:'Liberation Serif',serif;font-size:22.22px;fill:#000;stroke:#fff;stroke-width:0.200px">)</text>
<rect x="718.40" y="581.10" width="11.6" height="133.6" fill="url(#vir)" stroke="#333" stroke-opacity="0.7" stroke-width="0.8"/>
<line x1="730.00" y1="581.10" x2="732.20" y2="581.10" stroke="#444" stroke-width="0.8"/>
<line x1="730.00" y1="641.90" x2="732.20" y2="641.90" stroke="#444" stroke-width="0.8"/>
<line x1="730.00" y1="702.90" x2="732.20" y2="702.90" stroke="#444" stroke-width="0.8"/>
<text transform="translate(732.34,586.54) scale(0.9989,1)" style="font-family:'Liberation Serif',serif;font-size:16.27px;fill:#000;stroke:#fff;stroke-width:0.080px">1.0</text>
<text transform="translate(732.63,647.34) scale(1.0350,1)" style="font-family:'Liberation Serif',serif;font-size:16.27px;fill:#000;stroke:#fff;stroke-width:0.080px">0.8</text>
<text transform="translate(732.63,708.34) scale(1.0262,1)" style="font-family:'Liberation Serif',serif;font-size:16.27px;fill:#000;stroke:#fff;stroke-width:0.080px">0.6</text>
<line x1="460.0" y1="567.3" x2="539.0" y2="567.3" stroke="#888" stroke-opacity="0.6" stroke-width="0.6"/>
<line x1="610.0" y1="566.7" x2="676.0" y2="566.7" stroke="#888" stroke-opacity="0.6" stroke-width="0.6"/>
<text transform="translate(415.46,410.19) scale(1.0112,1)" style="font-family:'Liberation Sans',sans-serif;font-size:30.55px;fill:#000">d</text>
<text transform="translate(168.71,20.90) scale(0.9433,1)" style="font-family:'Liberation Sans',sans-serif;font-size:30.29px;fill:#000">FL</text>
<rect x="207.9" y="16.1" width="1.2" height="10.6" fill="#000"/><rect x="202.4" y="25.5" width="12.1" height="1.2" fill="#000"/>
<text transform="translate(544.93,21.50) scale(0.9370,1)" style="font-family:'Liberation Sans',sans-serif;font-size:30.29px;fill:#000">FL</text>
<rect x="580.1" y="13.2" width="1.2" height="16.9" fill="#555"/><rect x="584.0" y="13.2" width="1.2" height="16.9" fill="#555"/>
<text transform="translate(169.83,405.19) scale(0.8774,1)" style="font-family:'Liberation Sans',sans-serif;font-size:31.27px;fill:#000">CPF</text>
<text transform="translate(546.30,403.80) scale(1.0771,1)" style="font-family:'Liberation Sans',sans-serif;font-size:30.14px;fill:#000">ANI</text>
<rect x="99.50" y="47.60" width="19.70" height="17.10" fill="none" stroke="#f00" stroke-width="2.6"/>
<text transform="translate(103.48,62.27) scale(0.8969,1)" style="font-family:'Liberation Sans',sans-serif;font-size:22.73px;fill:#f00">a</text>
<rect x="490.30" y="134.80" width="19.40" height="17.80" fill="none" stroke="#f00" stroke-width="2.6"/>
<text transform="translate(494.05,151.09) scale(1.0639,1)" style="font-family:'Liberation Sans',sans-serif;font-size:21.10px;fill:#f00">b</text>
<rect x="97.20" y="461.40" width="19.40" height="17.30" fill="none" stroke="#f00" stroke-width="2.6"/>
<text transform="translate(100.48,476.77) scale(1.0212,1)" style="font-family:'Liberation Sans',sans-serif;font-size:22.55px;fill:#f00">c</text>
<rect x="546.50" y="425.20" width="19.80" height="17.50" fill="none" stroke="#f00" stroke-width="2.6"/>
<text transform="translate(550.09,441.39) scale(0.9586,1)" style="font-family:'Liberation Sans',sans-serif;font-size:21.10px;fill:#f00">d</text>
<rect x="434.60" y="424.60" width="20.00" height="17.60" fill="none" stroke="#f00" stroke-width="2.6" stroke-dasharray="0.01 4.7" stroke-linecap="round"/>
<text transform="translate(435.98,441.08) scale(0.9100,1)" style="font-family:'Liberation Sans',sans-serif;font-size:22.47px;fill:#f00">d</text>
<rect x="450" y="424.6" width="2.2" height="6.1" fill="#f00"/>
<rect x="0" y="0" width="754" height="1" fill="#ebebeb"/>
<rect x="0" y="0" width="1" height="759" fill="#c8c8c8"/>
</svg></body></html>
